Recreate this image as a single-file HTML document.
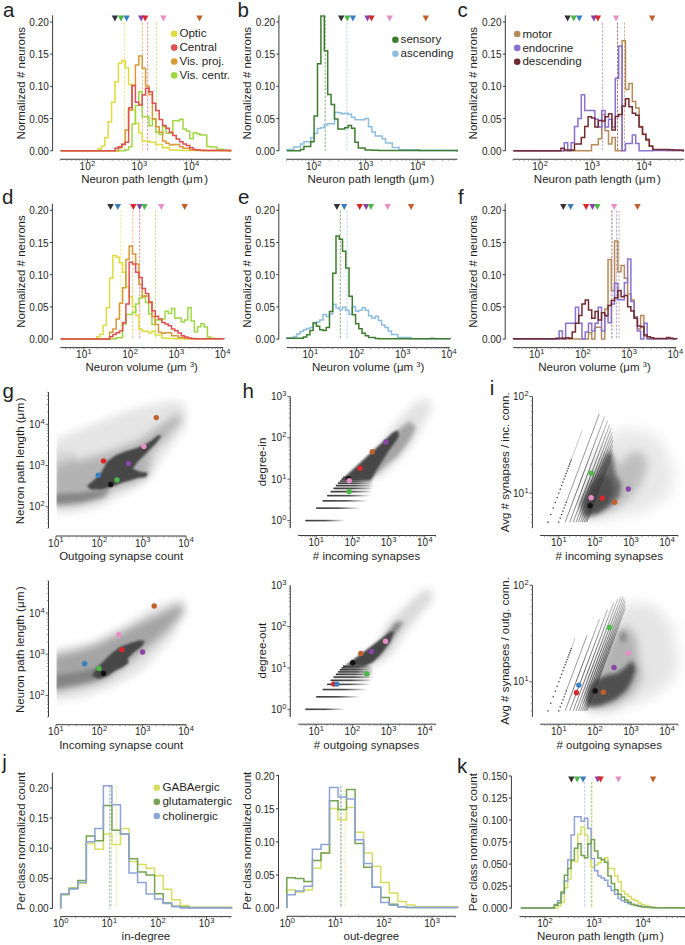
<!DOCTYPE html>
<html><head><meta charset="utf-8"><style>
html,body{margin:0;padding:0;background:#fff;overflow:hidden;}
svg{display:block;font-family:'Liberation Sans', sans-serif;}
</style></head><body>
<svg width="685" height="945" viewBox="0 0 685 945">
<defs>
<filter id="b1" x="-20%" y="-20%" width="140%" height="140%"><feGaussianBlur stdDeviation="1"/></filter>
<filter id="b2" x="-30%" y="-30%" width="160%" height="160%"><feGaussianBlur stdDeviation="2.2"/></filter>
<filter id="b4" x="-40%" y="-40%" width="180%" height="180%"><feGaussianBlur stdDeviation="4"/></filter>
<filter id="b7" x="-50%" y="-50%" width="200%" height="200%"><feGaussianBlur stdDeviation="7"/></filter>
<linearGradient id="fadeR" x1="0" x2="1" y1="0" y2="0"><stop offset="0" stop-color="#3a3a3a" stop-opacity="1"/><stop offset="0.5" stop-color="#3a3a3a" stop-opacity="0.9"/><stop offset="1" stop-color="#3a3a3a" stop-opacity="0"/></linearGradient>
<linearGradient id="lfade" x1="0" y1="1" x2="0" y2="0"><stop offset="0" stop-color="#333" stop-opacity="0.6"/><stop offset="0.4" stop-color="#333" stop-opacity="0.9"/><stop offset="1" stop-color="#333" stop-opacity="0.4"/></linearGradient>
</defs>
<rect width="685" height="945" fill="#fff"/>
<line x1="52.60" y1="15.35" x2="52.60" y2="151.05" stroke="#3a3a3a" stroke-width="1.0"/>
<line x1="50.10" y1="21.95" x2="52.60" y2="21.95" stroke="#3a3a3a" stroke-width="1.0"/>
<text x="48.80" y="25.95" font-size="10" text-anchor="end" fill="#1f1f1f">0.20</text>
<line x1="50.10" y1="54.15" x2="52.60" y2="54.15" stroke="#3a3a3a" stroke-width="1.0"/>
<text x="48.80" y="58.15" font-size="10" text-anchor="end" fill="#1f1f1f">0.15</text>
<line x1="50.10" y1="86.35" x2="52.60" y2="86.35" stroke="#3a3a3a" stroke-width="1.0"/>
<text x="48.80" y="90.35" font-size="10" text-anchor="end" fill="#1f1f1f">0.10</text>
<line x1="50.10" y1="118.55" x2="52.60" y2="118.55" stroke="#3a3a3a" stroke-width="1.0"/>
<text x="48.80" y="122.55" font-size="10" text-anchor="end" fill="#1f1f1f">0.05</text>
<line x1="50.10" y1="150.75" x2="52.60" y2="150.75" stroke="#3a3a3a" stroke-width="1.0"/>
<text x="48.80" y="154.75" font-size="10" text-anchor="end" fill="#1f1f1f">0.00</text>
<text x="24.70" y="83.15" font-size="11.5" text-anchor="middle" fill="#1f1f1f" transform="rotate(-90 24.70 83.15)">Normalized # neurons</text>
<text x="3.00" y="16.65" font-size="20.5" text-anchor="start" fill="#1f1f1f">a</text>
<line x1="60.20" y1="159.25" x2="231.10" y2="159.25" stroke="#3a3a3a" stroke-width="1.0"/>
<line x1="60.21" y1="159.25" x2="60.21" y2="160.85" stroke="#777" stroke-width="0.7"/>
<line x1="66.71" y1="159.25" x2="66.71" y2="160.85" stroke="#777" stroke-width="0.7"/>
<line x1="71.75" y1="159.25" x2="71.75" y2="160.85" stroke="#777" stroke-width="0.7"/>
<line x1="75.86" y1="159.25" x2="75.86" y2="160.85" stroke="#777" stroke-width="0.7"/>
<line x1="79.35" y1="159.25" x2="79.35" y2="160.85" stroke="#777" stroke-width="0.7"/>
<line x1="82.36" y1="159.25" x2="82.36" y2="160.85" stroke="#777" stroke-width="0.7"/>
<line x1="85.02" y1="159.25" x2="85.02" y2="160.85" stroke="#777" stroke-width="0.7"/>
<line x1="87.40" y1="159.25" x2="87.40" y2="162.25" stroke="#3a3a3a" stroke-width="0.8"/>
<line x1="103.05" y1="159.25" x2="103.05" y2="160.85" stroke="#777" stroke-width="0.7"/>
<line x1="112.21" y1="159.25" x2="112.21" y2="160.85" stroke="#777" stroke-width="0.7"/>
<line x1="118.71" y1="159.25" x2="118.71" y2="160.85" stroke="#777" stroke-width="0.7"/>
<line x1="123.75" y1="159.25" x2="123.75" y2="160.85" stroke="#777" stroke-width="0.7"/>
<line x1="127.86" y1="159.25" x2="127.86" y2="160.85" stroke="#777" stroke-width="0.7"/>
<line x1="131.35" y1="159.25" x2="131.35" y2="160.85" stroke="#777" stroke-width="0.7"/>
<line x1="134.36" y1="159.25" x2="134.36" y2="160.85" stroke="#777" stroke-width="0.7"/>
<line x1="137.02" y1="159.25" x2="137.02" y2="160.85" stroke="#777" stroke-width="0.7"/>
<line x1="139.40" y1="159.25" x2="139.40" y2="162.25" stroke="#3a3a3a" stroke-width="0.8"/>
<line x1="155.05" y1="159.25" x2="155.05" y2="160.85" stroke="#777" stroke-width="0.7"/>
<line x1="164.21" y1="159.25" x2="164.21" y2="160.85" stroke="#777" stroke-width="0.7"/>
<line x1="170.71" y1="159.25" x2="170.71" y2="160.85" stroke="#777" stroke-width="0.7"/>
<line x1="175.75" y1="159.25" x2="175.75" y2="160.85" stroke="#777" stroke-width="0.7"/>
<line x1="179.86" y1="159.25" x2="179.86" y2="160.85" stroke="#777" stroke-width="0.7"/>
<line x1="183.35" y1="159.25" x2="183.35" y2="160.85" stroke="#777" stroke-width="0.7"/>
<line x1="186.36" y1="159.25" x2="186.36" y2="160.85" stroke="#777" stroke-width="0.7"/>
<line x1="189.02" y1="159.25" x2="189.02" y2="160.85" stroke="#777" stroke-width="0.7"/>
<line x1="191.40" y1="159.25" x2="191.40" y2="162.25" stroke="#3a3a3a" stroke-width="0.8"/>
<line x1="207.05" y1="159.25" x2="207.05" y2="160.85" stroke="#777" stroke-width="0.7"/>
<line x1="216.21" y1="159.25" x2="216.21" y2="160.85" stroke="#777" stroke-width="0.7"/>
<line x1="222.71" y1="159.25" x2="222.71" y2="160.85" stroke="#777" stroke-width="0.7"/>
<line x1="227.75" y1="159.25" x2="227.75" y2="160.85" stroke="#777" stroke-width="0.7"/>
<text x="79.61" y="169.75" font-size="10" text-anchor="start" fill="#1f1f1f">10</text>
<text x="91.03" y="165.65" font-size="7.5" text-anchor="start" fill="#1f1f1f">2</text>
<text x="131.61" y="169.75" font-size="10" text-anchor="start" fill="#1f1f1f">10</text>
<text x="143.03" y="165.65" font-size="7.5" text-anchor="start" fill="#1f1f1f">3</text>
<text x="183.61" y="169.75" font-size="10" text-anchor="start" fill="#1f1f1f">10</text>
<text x="195.03" y="165.65" font-size="7.5" text-anchor="start" fill="#1f1f1f">4</text>
<text x="144.60" y="182.75" font-size="11.5" text-anchor="middle" fill="#1f1f1f">Neuron path length (μ<tspan dx="0.6">m</tspan><tspan dx="1.4">)</tspan></text>
<line x1="278.90" y1="15.35" x2="278.90" y2="151.05" stroke="#3a3a3a" stroke-width="1.0"/>
<line x1="276.40" y1="21.95" x2="278.90" y2="21.95" stroke="#3a3a3a" stroke-width="1.0"/>
<text x="275.10" y="25.95" font-size="10" text-anchor="end" fill="#1f1f1f">0.20</text>
<line x1="276.40" y1="54.15" x2="278.90" y2="54.15" stroke="#3a3a3a" stroke-width="1.0"/>
<text x="275.10" y="58.15" font-size="10" text-anchor="end" fill="#1f1f1f">0.15</text>
<line x1="276.40" y1="86.35" x2="278.90" y2="86.35" stroke="#3a3a3a" stroke-width="1.0"/>
<text x="275.10" y="90.35" font-size="10" text-anchor="end" fill="#1f1f1f">0.10</text>
<line x1="276.40" y1="118.55" x2="278.90" y2="118.55" stroke="#3a3a3a" stroke-width="1.0"/>
<text x="275.10" y="122.55" font-size="10" text-anchor="end" fill="#1f1f1f">0.05</text>
<line x1="276.40" y1="150.75" x2="278.90" y2="150.75" stroke="#3a3a3a" stroke-width="1.0"/>
<text x="275.10" y="154.75" font-size="10" text-anchor="end" fill="#1f1f1f">0.00</text>
<text x="251.00" y="83.15" font-size="11.5" text-anchor="middle" fill="#1f1f1f" transform="rotate(-90 251.00 83.15)">Normalized # neurons</text>
<text x="237.50" y="16.65" font-size="20.5" text-anchor="start" fill="#1f1f1f">b</text>
<line x1="286.50" y1="159.25" x2="457.40" y2="159.25" stroke="#3a3a3a" stroke-width="1.0"/>
<line x1="286.51" y1="159.25" x2="286.51" y2="160.85" stroke="#777" stroke-width="0.7"/>
<line x1="293.01" y1="159.25" x2="293.01" y2="160.85" stroke="#777" stroke-width="0.7"/>
<line x1="298.05" y1="159.25" x2="298.05" y2="160.85" stroke="#777" stroke-width="0.7"/>
<line x1="302.16" y1="159.25" x2="302.16" y2="160.85" stroke="#777" stroke-width="0.7"/>
<line x1="305.65" y1="159.25" x2="305.65" y2="160.85" stroke="#777" stroke-width="0.7"/>
<line x1="308.66" y1="159.25" x2="308.66" y2="160.85" stroke="#777" stroke-width="0.7"/>
<line x1="311.32" y1="159.25" x2="311.32" y2="160.85" stroke="#777" stroke-width="0.7"/>
<line x1="313.70" y1="159.25" x2="313.70" y2="162.25" stroke="#3a3a3a" stroke-width="0.8"/>
<line x1="329.35" y1="159.25" x2="329.35" y2="160.85" stroke="#777" stroke-width="0.7"/>
<line x1="338.51" y1="159.25" x2="338.51" y2="160.85" stroke="#777" stroke-width="0.7"/>
<line x1="345.01" y1="159.25" x2="345.01" y2="160.85" stroke="#777" stroke-width="0.7"/>
<line x1="350.05" y1="159.25" x2="350.05" y2="160.85" stroke="#777" stroke-width="0.7"/>
<line x1="354.16" y1="159.25" x2="354.16" y2="160.85" stroke="#777" stroke-width="0.7"/>
<line x1="357.65" y1="159.25" x2="357.65" y2="160.85" stroke="#777" stroke-width="0.7"/>
<line x1="360.66" y1="159.25" x2="360.66" y2="160.85" stroke="#777" stroke-width="0.7"/>
<line x1="363.32" y1="159.25" x2="363.32" y2="160.85" stroke="#777" stroke-width="0.7"/>
<line x1="365.70" y1="159.25" x2="365.70" y2="162.25" stroke="#3a3a3a" stroke-width="0.8"/>
<line x1="381.35" y1="159.25" x2="381.35" y2="160.85" stroke="#777" stroke-width="0.7"/>
<line x1="390.51" y1="159.25" x2="390.51" y2="160.85" stroke="#777" stroke-width="0.7"/>
<line x1="397.01" y1="159.25" x2="397.01" y2="160.85" stroke="#777" stroke-width="0.7"/>
<line x1="402.05" y1="159.25" x2="402.05" y2="160.85" stroke="#777" stroke-width="0.7"/>
<line x1="406.16" y1="159.25" x2="406.16" y2="160.85" stroke="#777" stroke-width="0.7"/>
<line x1="409.65" y1="159.25" x2="409.65" y2="160.85" stroke="#777" stroke-width="0.7"/>
<line x1="412.66" y1="159.25" x2="412.66" y2="160.85" stroke="#777" stroke-width="0.7"/>
<line x1="415.32" y1="159.25" x2="415.32" y2="160.85" stroke="#777" stroke-width="0.7"/>
<line x1="417.70" y1="159.25" x2="417.70" y2="162.25" stroke="#3a3a3a" stroke-width="0.8"/>
<line x1="433.35" y1="159.25" x2="433.35" y2="160.85" stroke="#777" stroke-width="0.7"/>
<line x1="442.51" y1="159.25" x2="442.51" y2="160.85" stroke="#777" stroke-width="0.7"/>
<line x1="449.01" y1="159.25" x2="449.01" y2="160.85" stroke="#777" stroke-width="0.7"/>
<line x1="454.05" y1="159.25" x2="454.05" y2="160.85" stroke="#777" stroke-width="0.7"/>
<text x="305.90" y="169.75" font-size="10" text-anchor="start" fill="#1f1f1f">10</text>
<text x="317.32" y="165.65" font-size="7.5" text-anchor="start" fill="#1f1f1f">2</text>
<text x="357.90" y="169.75" font-size="10" text-anchor="start" fill="#1f1f1f">10</text>
<text x="369.32" y="165.65" font-size="7.5" text-anchor="start" fill="#1f1f1f">3</text>
<text x="409.90" y="169.75" font-size="10" text-anchor="start" fill="#1f1f1f">10</text>
<text x="421.32" y="165.65" font-size="7.5" text-anchor="start" fill="#1f1f1f">4</text>
<text x="370.90" y="182.75" font-size="11.5" text-anchor="middle" fill="#1f1f1f">Neuron path length (μ<tspan dx="0.6">m</tspan><tspan dx="1.4">)</tspan></text>
<line x1="505.30" y1="15.35" x2="505.30" y2="151.05" stroke="#3a3a3a" stroke-width="1.0"/>
<line x1="502.80" y1="21.95" x2="505.30" y2="21.95" stroke="#3a3a3a" stroke-width="1.0"/>
<text x="501.50" y="25.95" font-size="10" text-anchor="end" fill="#1f1f1f">0.20</text>
<line x1="502.80" y1="54.15" x2="505.30" y2="54.15" stroke="#3a3a3a" stroke-width="1.0"/>
<text x="501.50" y="58.15" font-size="10" text-anchor="end" fill="#1f1f1f">0.15</text>
<line x1="502.80" y1="86.35" x2="505.30" y2="86.35" stroke="#3a3a3a" stroke-width="1.0"/>
<text x="501.50" y="90.35" font-size="10" text-anchor="end" fill="#1f1f1f">0.10</text>
<line x1="502.80" y1="118.55" x2="505.30" y2="118.55" stroke="#3a3a3a" stroke-width="1.0"/>
<text x="501.50" y="122.55" font-size="10" text-anchor="end" fill="#1f1f1f">0.05</text>
<line x1="502.80" y1="150.75" x2="505.30" y2="150.75" stroke="#3a3a3a" stroke-width="1.0"/>
<text x="501.50" y="154.75" font-size="10" text-anchor="end" fill="#1f1f1f">0.00</text>
<text x="477.40" y="83.15" font-size="11.5" text-anchor="middle" fill="#1f1f1f" transform="rotate(-90 477.40 83.15)">Normalized # neurons</text>
<text x="457.50" y="16.65" font-size="20.5" text-anchor="start" fill="#1f1f1f">c</text>
<line x1="512.90" y1="159.25" x2="683.80" y2="159.25" stroke="#3a3a3a" stroke-width="1.0"/>
<line x1="512.91" y1="159.25" x2="512.91" y2="160.85" stroke="#777" stroke-width="0.7"/>
<line x1="519.41" y1="159.25" x2="519.41" y2="160.85" stroke="#777" stroke-width="0.7"/>
<line x1="524.45" y1="159.25" x2="524.45" y2="160.85" stroke="#777" stroke-width="0.7"/>
<line x1="528.56" y1="159.25" x2="528.56" y2="160.85" stroke="#777" stroke-width="0.7"/>
<line x1="532.05" y1="159.25" x2="532.05" y2="160.85" stroke="#777" stroke-width="0.7"/>
<line x1="535.06" y1="159.25" x2="535.06" y2="160.85" stroke="#777" stroke-width="0.7"/>
<line x1="537.72" y1="159.25" x2="537.72" y2="160.85" stroke="#777" stroke-width="0.7"/>
<line x1="540.10" y1="159.25" x2="540.10" y2="162.25" stroke="#3a3a3a" stroke-width="0.8"/>
<line x1="555.75" y1="159.25" x2="555.75" y2="160.85" stroke="#777" stroke-width="0.7"/>
<line x1="564.91" y1="159.25" x2="564.91" y2="160.85" stroke="#777" stroke-width="0.7"/>
<line x1="571.41" y1="159.25" x2="571.41" y2="160.85" stroke="#777" stroke-width="0.7"/>
<line x1="576.45" y1="159.25" x2="576.45" y2="160.85" stroke="#777" stroke-width="0.7"/>
<line x1="580.56" y1="159.25" x2="580.56" y2="160.85" stroke="#777" stroke-width="0.7"/>
<line x1="584.05" y1="159.25" x2="584.05" y2="160.85" stroke="#777" stroke-width="0.7"/>
<line x1="587.06" y1="159.25" x2="587.06" y2="160.85" stroke="#777" stroke-width="0.7"/>
<line x1="589.72" y1="159.25" x2="589.72" y2="160.85" stroke="#777" stroke-width="0.7"/>
<line x1="592.10" y1="159.25" x2="592.10" y2="162.25" stroke="#3a3a3a" stroke-width="0.8"/>
<line x1="607.75" y1="159.25" x2="607.75" y2="160.85" stroke="#777" stroke-width="0.7"/>
<line x1="616.91" y1="159.25" x2="616.91" y2="160.85" stroke="#777" stroke-width="0.7"/>
<line x1="623.41" y1="159.25" x2="623.41" y2="160.85" stroke="#777" stroke-width="0.7"/>
<line x1="628.45" y1="159.25" x2="628.45" y2="160.85" stroke="#777" stroke-width="0.7"/>
<line x1="632.56" y1="159.25" x2="632.56" y2="160.85" stroke="#777" stroke-width="0.7"/>
<line x1="636.05" y1="159.25" x2="636.05" y2="160.85" stroke="#777" stroke-width="0.7"/>
<line x1="639.06" y1="159.25" x2="639.06" y2="160.85" stroke="#777" stroke-width="0.7"/>
<line x1="641.72" y1="159.25" x2="641.72" y2="160.85" stroke="#777" stroke-width="0.7"/>
<line x1="644.10" y1="159.25" x2="644.10" y2="162.25" stroke="#3a3a3a" stroke-width="0.8"/>
<line x1="659.75" y1="159.25" x2="659.75" y2="160.85" stroke="#777" stroke-width="0.7"/>
<line x1="668.91" y1="159.25" x2="668.91" y2="160.85" stroke="#777" stroke-width="0.7"/>
<line x1="675.41" y1="159.25" x2="675.41" y2="160.85" stroke="#777" stroke-width="0.7"/>
<line x1="680.45" y1="159.25" x2="680.45" y2="160.85" stroke="#777" stroke-width="0.7"/>
<text x="532.31" y="169.75" font-size="10" text-anchor="start" fill="#1f1f1f">10</text>
<text x="543.73" y="165.65" font-size="7.5" text-anchor="start" fill="#1f1f1f">2</text>
<text x="584.31" y="169.75" font-size="10" text-anchor="start" fill="#1f1f1f">10</text>
<text x="595.73" y="165.65" font-size="7.5" text-anchor="start" fill="#1f1f1f">3</text>
<text x="636.31" y="169.75" font-size="10" text-anchor="start" fill="#1f1f1f">10</text>
<text x="647.73" y="165.65" font-size="7.5" text-anchor="start" fill="#1f1f1f">4</text>
<text x="597.30" y="182.75" font-size="11.5" text-anchor="middle" fill="#1f1f1f">Neuron path length (μ<tspan dx="0.6">m</tspan><tspan dx="1.4">)</tspan></text>
<path d="M111.70,15.60 L118.10,15.60 L114.90,21.60 Z" fill="#333333"/>
<path d="M117.80,15.60 L124.20,15.60 L121.00,21.60 Z" fill="#4cb848"/>
<path d="M123.40,15.60 L129.80,15.60 L126.60,21.60 Z" fill="#3a7fc0"/>
<path d="M138.00,15.60 L144.40,15.60 L141.20,21.60 Z" fill="#8a45a8"/>
<path d="M142.00,15.60 L148.40,15.60 L145.20,21.60 Z" fill="#d8282c"/>
<path d="M160.20,15.60 L166.60,15.60 L163.40,21.60 Z" fill="#e88fc8"/>
<path d="M196.30,15.60 L202.70,15.60 L199.50,21.60 Z" fill="#c0602a"/>
<path d="M338.00,15.60 L344.40,15.60 L341.20,21.60 Z" fill="#333333"/>
<path d="M344.10,15.60 L350.50,15.60 L347.30,21.60 Z" fill="#4cb848"/>
<path d="M349.70,15.60 L356.10,15.60 L352.90,21.60 Z" fill="#3a7fc0"/>
<path d="M364.30,15.60 L370.70,15.60 L367.50,21.60 Z" fill="#8a45a8"/>
<path d="M368.30,15.60 L374.70,15.60 L371.50,21.60 Z" fill="#d8282c"/>
<path d="M386.50,15.60 L392.90,15.60 L389.70,21.60 Z" fill="#e88fc8"/>
<path d="M422.60,15.60 L429.00,15.60 L425.80,21.60 Z" fill="#c0602a"/>
<path d="M564.40,15.60 L570.80,15.60 L567.60,21.60 Z" fill="#333333"/>
<path d="M570.50,15.60 L576.90,15.60 L573.70,21.60 Z" fill="#4cb848"/>
<path d="M576.10,15.60 L582.50,15.60 L579.30,21.60 Z" fill="#3a7fc0"/>
<path d="M590.70,15.60 L597.10,15.60 L593.90,21.60 Z" fill="#8a45a8"/>
<path d="M594.70,15.60 L601.10,15.60 L597.90,21.60 Z" fill="#d8282c"/>
<path d="M612.90,15.60 L619.30,15.60 L616.10,21.60 Z" fill="#e88fc8"/>
<path d="M649.00,15.60 L655.40,15.60 L652.20,21.60 Z" fill="#c0602a"/>
<line x1="124.50" y1="22.50" x2="124.50" y2="150.70" stroke="#dedc40" stroke-width="0.8" stroke-dasharray="2.4,1.4" stroke-opacity="0.8"/>
<line x1="142.40" y1="22.50" x2="142.40" y2="150.70" stroke="#da9838" stroke-width="0.8" stroke-dasharray="2.4,1.4" stroke-opacity="0.8"/>
<line x1="147.70" y1="22.50" x2="147.70" y2="150.70" stroke="#e04f52" stroke-width="0.8" stroke-dasharray="2.4,1.4" stroke-opacity="0.8"/>
<line x1="156.40" y1="22.50" x2="156.40" y2="150.70" stroke="#a0d845" stroke-width="0.8" stroke-dasharray="2.4,1.4" stroke-opacity="0.8"/>
<path d="M60.60,150.70 L60.60,150.70 L64.00,150.70 L64.00,150.70 L67.40,150.70 L67.40,150.70 L70.80,150.70 L70.80,150.70 L74.20,150.70 L74.20,150.70 L77.60,150.70 L77.60,150.70 L81.00,150.70 L81.00,150.70 L84.40,150.70 L84.40,150.70 L87.80,150.70 L87.80,150.70 L91.20,150.70 L91.20,150.70 L94.60,150.70 L94.60,150.70 L98.00,150.70 L98.00,148.90 L101.40,148.90 L101.40,146.10 L104.80,146.10 L104.80,137.80 L108.20,137.80 L108.20,121.70 L111.60,121.70 L111.60,102.20 L115.00,102.20 L115.00,81.70 L118.40,81.70 L118.40,63.30 L121.80,63.30 L121.80,60.60 L125.20,60.60 L125.20,67.80 L128.60,67.80 L128.60,84.40 L132.00,84.40 L132.00,110.00 L135.40,110.00 L135.40,123.30 L138.80,123.30 L138.80,132.80 L142.20,132.80 L142.20,141.10 L145.60,141.10 L145.60,141.10 L149.00,141.10 L149.00,142.20 L152.40,142.20 L152.40,142.20 L155.80,142.20 L155.80,144.40 L159.20,144.40 L159.20,144.40 L162.60,144.40 L162.60,147.80 L166.00,147.80 L166.00,147.80 L169.40,147.80 L169.40,150.00 L172.80,150.00 L172.80,150.00 L176.20,150.00 L176.20,150.20 L179.60,150.20 L179.60,150.20 L183.00,150.20 L183.00,150.40 L186.40,150.40 L186.40,150.40 L189.80,150.40 L189.80,150.40 L193.20,150.40 L193.20,150.40 L196.60,150.40 L196.60,150.40 L200.00,150.40 L200.00,150.40 L203.40,150.40 L203.40,150.40 L206.80,150.40 L206.80,150.40 L210.20,150.40 L210.20,150.40 L213.60,150.40 L213.60,150.40 L217.00,150.40 L217.00,150.40 L220.40,150.40 L220.40,150.40 L223.80,150.40 L223.80,150.40 L227.20,150.40 L227.20,150.40 L230.60,150.40 L230.60,150.70 L231.30,150.70" fill="none" stroke="#dedc40" stroke-width="1.5" stroke-linejoin="miter"/>
<path d="M60.60,150.70 L60.60,150.70 L64.00,150.70 L64.00,150.70 L67.40,150.70 L67.40,150.70 L70.80,150.70 L70.80,150.70 L74.20,150.70 L74.20,150.70 L77.60,150.70 L77.60,150.70 L81.00,150.70 L81.00,150.70 L84.40,150.70 L84.40,150.70 L87.80,150.70 L87.80,150.70 L91.20,150.70 L91.20,150.70 L94.60,150.70 L94.60,150.70 L98.00,150.70 L98.00,150.70 L101.40,150.70 L101.40,150.70 L104.80,150.70 L104.80,150.70 L108.20,150.70 L108.20,150.70 L111.60,150.70 L111.60,150.70 L115.00,150.70 L115.00,150.70 L118.40,150.70 L118.40,150.70 L121.80,150.70 L121.80,150.70 L125.20,150.70 L125.20,149.70 L128.60,149.70 L128.60,146.70 L132.00,146.70 L132.00,123.90 L135.40,123.90 L135.40,105.60 L138.80,105.60 L138.80,91.70 L142.20,91.70 L142.20,116.70 L145.60,116.70 L145.60,116.70 L149.00,116.70 L149.00,125.70 L152.40,125.70 L152.40,118.70 L155.80,118.70 L155.80,132.20 L159.20,132.20 L159.20,134.40 L162.60,134.40 L162.60,126.70 L166.00,126.70 L166.00,133.30 L169.40,133.30 L169.40,133.30 L172.80,133.30 L172.80,120.70 L176.20,120.70 L176.20,120.70 L179.60,120.70 L179.60,119.20 L183.00,119.20 L183.00,128.90 L186.40,128.90 L186.40,131.10 L189.80,131.10 L189.80,138.70 L193.20,138.70 L193.20,132.80 L196.60,132.80 L196.60,133.70 L200.00,133.70 L200.00,135.10 L203.40,135.10 L203.40,135.10 L206.80,135.10 L206.80,146.40 L210.20,146.40 L210.20,147.10 L213.60,147.10 L213.60,147.10 L217.00,147.10 L217.00,149.20 L220.40,149.20 L220.40,149.20 L223.80,149.20 L223.80,150.40 L227.20,150.40 L227.20,150.70 L230.60,150.70 L230.60,150.70 L231.30,150.70" fill="none" stroke="#a0d845" stroke-width="1.5" stroke-linejoin="miter"/>
<path d="M60.60,150.70 L60.60,150.70 L64.00,150.70 L64.00,150.70 L67.40,150.70 L67.40,150.70 L70.80,150.70 L70.80,150.70 L74.20,150.70 L74.20,150.70 L77.60,150.70 L77.60,150.70 L81.00,150.70 L81.00,150.70 L84.40,150.70 L84.40,150.70 L87.80,150.70 L87.80,150.70 L91.20,150.70 L91.20,150.70 L94.60,150.70 L94.60,150.70 L98.00,150.70 L98.00,150.70 L101.40,150.70 L101.40,150.70 L104.80,150.70 L104.80,150.70 L108.20,150.70 L108.20,150.70 L111.60,150.70 L111.60,150.70 L115.00,150.70 L115.00,150.70 L118.40,150.70 L118.40,148.00 L121.80,148.00 L121.80,144.00 L125.20,144.00 L125.20,130.00 L128.60,130.00 L128.60,110.00 L132.00,110.00 L132.00,85.60 L135.40,85.60 L135.40,65.00 L138.80,65.00 L138.80,56.10 L142.20,56.10 L142.20,68.30 L145.60,68.30 L145.60,86.10 L149.00,86.10 L149.00,94.40 L152.40,94.40 L152.40,118.90 L155.80,118.90 L155.80,126.70 L159.20,126.70 L159.20,132.20 L162.60,132.20 L162.60,141.10 L166.00,141.10 L166.00,143.30 L169.40,143.30 L169.40,145.00 L172.80,145.00 L172.80,144.40 L176.20,144.40 L176.20,144.40 L179.60,144.40 L179.60,146.70 L183.00,146.70 L183.00,148.30 L186.40,148.30 L186.40,148.30 L189.80,148.30 L189.80,150.00 L193.20,150.00 L193.20,150.00 L196.60,150.00 L196.60,150.20 L200.00,150.20 L200.00,150.40 L203.40,150.40 L203.40,150.40 L206.80,150.40 L206.80,150.40 L210.20,150.40 L210.20,150.40 L213.60,150.40 L213.60,150.40 L217.00,150.40 L217.00,150.40 L220.40,150.40 L220.40,150.40 L223.80,150.40 L223.80,150.40 L227.20,150.40 L227.20,150.40 L230.60,150.40 L230.60,150.70 L231.30,150.70" fill="none" stroke="#da9838" stroke-width="1.5" stroke-linejoin="miter"/>
<path d="M60.60,150.70 L60.60,150.70 L64.00,150.70 L64.00,150.70 L67.40,150.70 L67.40,150.70 L70.80,150.70 L70.80,150.70 L74.20,150.70 L74.20,150.70 L77.60,150.70 L77.60,150.70 L81.00,150.70 L81.00,150.70 L84.40,150.70 L84.40,150.70 L87.80,150.70 L87.80,150.70 L91.20,150.70 L91.20,150.70 L94.60,150.70 L94.60,150.70 L98.00,150.70 L98.00,150.70 L101.40,150.70 L101.40,150.70 L104.80,150.70 L104.80,150.70 L108.20,150.70 L108.20,150.70 L111.60,150.70 L111.60,150.70 L115.00,150.70 L115.00,148.30 L118.40,148.30 L118.40,146.70 L121.80,146.70 L121.80,144.40 L125.20,144.40 L125.20,142.20 L128.60,142.20 L128.60,107.80 L132.00,107.80 L132.00,85.60 L135.40,85.60 L135.40,102.20 L138.80,102.20 L138.80,105.00 L142.20,105.00 L142.20,95.00 L145.60,95.00 L145.60,88.30 L149.00,88.30 L149.00,91.70 L152.40,91.70 L152.40,103.30 L155.80,103.30 L155.80,110.60 L159.20,110.60 L159.20,119.40 L162.60,119.40 L162.60,125.60 L166.00,125.60 L166.00,128.30 L169.40,128.30 L169.40,132.20 L172.80,132.20 L172.80,135.60 L176.20,135.60 L176.20,138.90 L179.60,138.90 L179.60,141.70 L183.00,141.70 L183.00,143.90 L186.40,143.90 L186.40,145.60 L189.80,145.60 L189.80,147.80 L193.20,147.80 L193.20,149.40 L196.60,149.40 L196.60,150.10 L200.00,150.10 L200.00,150.30 L203.40,150.30 L203.40,150.40 L206.80,150.40 L206.80,150.40 L210.20,150.40 L210.20,150.40 L213.60,150.40 L213.60,150.40 L217.00,150.40 L217.00,150.40 L220.40,150.40 L220.40,150.40 L223.80,150.40 L223.80,150.40 L227.20,150.40 L227.20,150.40 L230.60,150.40 L230.60,150.70 L231.30,150.70" fill="none" stroke="#e04f52" stroke-width="1.5" stroke-linejoin="miter"/>
<circle cx="174.20" cy="33.70" r="3.3" fill="#dedc40"/>
<text x="179.40" y="37.30" font-size="11.6" text-anchor="start" fill="#1f1f1f">Optic</text>
<circle cx="174.20" cy="47.60" r="3.3" fill="#e04f52"/>
<text x="179.40" y="51.20" font-size="11.6" text-anchor="start" fill="#1f1f1f">Central</text>
<circle cx="174.20" cy="61.50" r="3.3" fill="#da9838"/>
<text x="179.40" y="65.10" font-size="11.6" text-anchor="start" fill="#1f1f1f">Vis. proj.</text>
<circle cx="174.20" cy="75.40" r="3.3" fill="#a0d845"/>
<text x="179.40" y="79.00" font-size="11.6" text-anchor="start" fill="#1f1f1f">Vis. centr.</text>
<line x1="325.20" y1="16.00" x2="325.20" y2="150.70" stroke="#3f7d2e" stroke-width="0.8" stroke-dasharray="2.4,1.4" stroke-opacity="0.8"/>
<line x1="346.90" y1="22.50" x2="346.90" y2="150.70" stroke="#8dbde0" stroke-width="0.8" stroke-dasharray="2.4,1.4" stroke-opacity="0.8"/>
<path d="M286.90,150.70 L286.90,149.40 L290.30,149.40 L290.30,149.40 L293.70,149.40 L293.70,147.10 L297.10,147.10 L297.10,147.10 L300.50,147.10 L300.50,144.00 L303.90,144.00 L303.90,141.70 L307.30,141.70 L307.30,141.70 L310.70,141.70 L310.70,137.80 L314.10,137.80 L314.10,133.20 L317.50,133.20 L317.50,128.60 L320.90,128.60 L320.90,127.70 L324.30,127.70 L324.30,125.10 L327.70,125.10 L327.70,123.70 L331.10,123.70 L331.10,123.70 L334.50,123.70 L334.50,112.20 L337.90,112.20 L337.90,112.80 L341.30,112.80 L341.30,113.70 L344.70,113.70 L344.70,113.30 L348.10,113.30 L348.10,114.20 L351.50,114.20 L351.50,117.20 L354.90,117.20 L354.90,119.80 L358.30,119.80 L358.30,119.80 L361.70,119.80 L361.70,119.80 L365.10,119.80 L365.10,118.50 L368.50,118.50 L368.50,126.80 L371.90,126.80 L371.90,132.10 L375.30,132.10 L375.30,136.00 L378.70,136.00 L378.70,136.00 L382.10,136.00 L382.10,138.70 L385.50,138.70 L385.50,143.00 L388.90,143.00 L388.90,143.00 L392.30,143.00 L392.30,147.40 L395.70,147.40 L395.70,147.40 L399.10,147.40 L399.10,149.70 L402.50,149.70 L402.50,149.70 L405.90,149.70 L405.90,149.70 L409.30,149.70 L409.30,149.70 L412.70,149.70 L412.70,149.70 L416.10,149.70 L416.10,149.70 L419.50,149.70 L419.50,150.40 L422.90,150.40 L422.90,150.40 L426.30,150.40 L426.30,150.40 L429.70,150.40 L429.70,150.40 L433.10,150.40 L433.10,150.40 L436.50,150.40 L436.50,150.40 L439.90,150.40 L439.90,150.40 L443.30,150.40 L443.30,150.40 L446.70,150.40 L446.70,150.40 L450.10,150.40 L450.10,150.40 L453.50,150.40 L453.50,150.40 L456.90,150.40 L456.90,150.70 L458.00,150.70" fill="none" stroke="#8dbde0" stroke-width="1.5" stroke-linejoin="miter"/>
<path d="M286.90,150.70 L286.90,150.70 L290.30,150.70 L290.30,150.70 L293.70,150.70 L293.70,150.70 L297.10,150.70 L297.10,150.70 L300.50,150.70 L300.50,149.40 L303.90,149.40 L303.90,146.40 L307.30,146.40 L307.30,146.40 L310.70,146.40 L310.70,141.70 L314.10,141.70 L314.10,115.90 L317.50,115.90 L317.50,63.70 L320.90,63.70 L320.90,16.10 L324.30,16.10 L324.30,50.70 L327.70,50.70 L327.70,94.40 L331.10,94.40 L331.10,104.40 L334.50,104.40 L334.50,118.90 L337.90,118.90 L337.90,129.00 L341.30,129.00 L341.30,129.00 L344.70,129.00 L344.70,127.70 L348.10,127.70 L348.10,125.50 L351.50,125.50 L351.50,128.20 L354.90,128.20 L354.90,142.20 L358.30,142.20 L358.30,147.90 L361.70,147.90 L361.70,147.90 L365.10,147.90 L365.10,150.00 L368.50,150.00 L368.50,150.00 L371.90,150.00 L371.90,150.20 L375.30,150.20 L375.30,150.20 L378.70,150.20 L378.70,150.40 L382.10,150.40 L382.10,150.40 L385.50,150.40 L385.50,150.40 L388.90,150.40 L388.90,150.40 L392.30,150.40 L392.30,150.40 L395.70,150.40 L395.70,150.40 L399.10,150.40 L399.10,150.40 L402.50,150.40 L402.50,150.40 L405.90,150.40 L405.90,150.40 L409.30,150.40 L409.30,150.40 L412.70,150.40 L412.70,150.40 L416.10,150.40 L416.10,150.40 L419.50,150.40 L419.50,150.40 L422.90,150.40 L422.90,150.40 L426.30,150.40 L426.30,150.40 L429.70,150.40 L429.70,150.40 L433.10,150.40 L433.10,150.40 L436.50,150.40 L436.50,150.40 L439.90,150.40 L439.90,150.40 L443.30,150.40 L443.30,150.40 L446.70,150.40 L446.70,150.40 L450.10,150.40 L450.10,150.40 L453.50,150.40 L453.50,150.40 L456.90,150.40 L456.90,150.70 L458.00,150.70" fill="none" stroke="#3f7d2e" stroke-width="1.5" stroke-linejoin="miter"/>
<circle cx="395.40" cy="39.80" r="3.3" fill="#3f7d2e"/>
<text x="400.60" y="43.40" font-size="11.6" text-anchor="start" fill="#1f1f1f">sensory</text>
<circle cx="395.40" cy="53.70" r="3.3" fill="#8dbde0"/>
<text x="400.60" y="57.30" font-size="11.6" text-anchor="start" fill="#1f1f1f">ascending</text>
<line x1="602.60" y1="22.50" x2="602.60" y2="150.70" stroke="#8a72d0" stroke-width="0.8" stroke-dasharray="2.4,1.4" stroke-opacity="0.8"/>
<line x1="617.50" y1="22.50" x2="617.50" y2="150.70" stroke="#722b32" stroke-width="0.8" stroke-dasharray="2.4,1.4" stroke-opacity="0.8"/>
<line x1="624.50" y1="22.50" x2="624.50" y2="150.70" stroke="#b58b5b" stroke-width="0.8" stroke-dasharray="2.4,1.4" stroke-opacity="0.8"/>
<path d="M513.30,150.70 L513.30,150.70 L516.70,150.70 L516.70,150.70 L520.10,150.70 L520.10,150.70 L523.50,150.70 L523.50,150.70 L526.90,150.70 L526.90,150.70 L530.30,150.70 L530.30,150.70 L533.70,150.70 L533.70,150.70 L537.10,150.70 L537.10,150.70 L540.50,150.70 L540.50,150.70 L543.90,150.70 L543.90,150.70 L547.30,150.70 L547.30,150.70 L550.70,150.70 L550.70,150.70 L554.10,150.70 L554.10,150.70 L557.50,150.70 L557.50,150.70 L560.90,150.70 L560.90,150.70 L564.30,150.70 L564.30,150.70 L567.70,150.70 L567.70,150.70 L571.10,150.70 L571.10,150.70 L574.50,150.70 L574.50,150.70 L577.90,150.70 L577.90,150.70 L581.30,150.70 L581.30,150.70 L584.70,150.70 L584.70,150.70 L588.10,150.70 L588.10,150.70 L591.50,150.70 L591.50,144.80 L594.90,144.80 L594.90,144.80 L598.30,144.80 L598.30,138.70 L601.70,138.70 L601.70,114.40 L605.10,114.40 L605.10,130.70 L608.50,130.70 L608.50,144.10 L611.90,144.10 L611.90,137.40 L615.30,137.40 L615.30,150.70 L618.70,150.70 L618.70,150.70 L622.10,150.70 L622.10,40.70 L625.50,40.70 L625.50,89.50 L628.90,89.50 L628.90,83.60 L632.30,83.60 L632.30,101.40 L635.70,101.40 L635.70,108.00 L639.10,108.00 L639.10,126.60 L642.50,126.60 L642.50,134.60 L645.90,134.60 L645.90,138.90 L649.30,138.90 L649.30,146.20 L652.70,146.20 L652.70,149.70 L656.10,149.70 L656.10,149.70 L659.50,149.70 L659.50,150.20 L662.90,150.20 L662.90,150.20 L666.30,150.20 L666.30,150.40 L669.70,150.40 L669.70,150.40 L673.10,150.40 L673.10,150.40 L676.50,150.40 L676.50,150.40 L679.90,150.40 L679.90,150.40 L683.30,150.40 L683.30,150.70 L684.00,150.70" fill="none" stroke="#b58b5b" stroke-width="1.5" stroke-linejoin="miter"/>
<path d="M513.30,150.70 L513.30,150.70 L516.70,150.70 L516.70,150.70 L520.10,150.70 L520.10,150.70 L523.50,150.70 L523.50,150.70 L526.90,150.70 L526.90,150.70 L530.30,150.70 L530.30,150.70 L533.70,150.70 L533.70,150.70 L537.10,150.70 L537.10,150.70 L540.50,150.70 L540.50,150.70 L543.90,150.70 L543.90,150.70 L547.30,150.70 L547.30,150.70 L550.70,150.70 L550.70,150.70 L554.10,150.70 L554.10,150.70 L557.50,150.70 L557.50,150.70 L560.90,150.70 L560.90,150.70 L564.30,150.70 L564.30,142.80 L567.70,142.80 L567.70,150.70 L571.10,150.70 L571.10,142.80 L574.50,142.80 L574.50,126.40 L577.90,126.40 L577.90,118.50 L581.30,118.50 L581.30,94.80 L584.70,94.80 L584.70,110.60 L588.10,110.60 L588.10,110.60 L591.50,110.60 L591.50,110.60 L594.90,110.60 L594.90,119.20 L598.30,119.20 L598.30,127.10 L601.70,127.10 L601.70,110.60 L605.10,110.60 L605.10,127.10 L608.50,127.10 L608.50,119.20 L611.90,119.20 L611.90,127.10 L615.30,127.10 L615.30,78.30 L618.70,78.30 L618.70,45.90 L622.10,45.90 L622.10,150.70 L625.50,150.70 L625.50,143.40 L628.90,143.40 L628.90,143.40 L632.30,143.40 L632.30,135.00 L635.70,135.00 L635.70,143.40 L639.10,143.40 L639.10,150.70 L642.50,150.70 L642.50,150.70 L645.90,150.70 L645.90,150.70 L649.30,150.70 L649.30,150.70 L652.70,150.70 L652.70,150.40 L656.10,150.40 L656.10,150.40 L659.50,150.40 L659.50,150.40 L662.90,150.40 L662.90,150.40 L666.30,150.40 L666.30,150.40 L669.70,150.40 L669.70,150.40 L673.10,150.40 L673.10,150.40 L676.50,150.40 L676.50,150.40 L679.90,150.40 L679.90,150.40 L683.30,150.40 L683.30,150.70 L684.00,150.70" fill="none" stroke="#8a72d0" stroke-width="1.5" stroke-linejoin="miter"/>
<path d="M513.30,150.70 L513.30,150.70 L516.70,150.70 L516.70,150.70 L520.10,150.70 L520.10,150.70 L523.50,150.70 L523.50,150.70 L526.90,150.70 L526.90,150.70 L530.30,150.70 L530.30,150.70 L533.70,150.70 L533.70,150.70 L537.10,150.70 L537.10,150.70 L540.50,150.70 L540.50,150.70 L543.90,150.70 L543.90,150.70 L547.30,150.70 L547.30,150.70 L550.70,150.70 L550.70,150.70 L554.10,150.70 L554.10,150.70 L557.50,150.70 L557.50,150.70 L560.90,150.70 L560.90,148.30 L564.30,148.30 L564.30,150.10 L567.70,150.10 L567.70,150.10 L571.10,150.10 L571.10,150.10 L574.50,150.10 L574.50,144.10 L577.90,144.10 L577.90,144.10 L581.30,144.10 L581.30,137.40 L584.70,137.40 L584.70,126.40 L588.10,126.40 L588.10,116.70 L591.50,116.70 L591.50,117.90 L594.90,117.90 L594.90,127.10 L598.30,127.10 L598.30,120.40 L601.70,120.40 L601.70,121.00 L605.10,121.00 L605.10,116.70 L608.50,116.70 L608.50,113.70 L611.90,113.70 L611.90,129.90 L615.30,129.90 L615.30,116.60 L618.70,116.60 L618.70,114.60 L622.10,114.60 L622.10,106.00 L625.50,106.00 L625.50,98.80 L628.90,98.80 L628.90,106.70 L632.30,106.70 L632.30,113.30 L635.70,113.30 L635.70,115.30 L639.10,115.30 L639.10,127.10 L642.50,127.10 L642.50,134.30 L645.90,134.30 L645.90,140.10 L649.30,140.10 L649.30,146.10 L652.70,146.10 L652.70,149.40 L656.10,149.40 L656.10,149.40 L659.50,149.40 L659.50,149.40 L662.90,149.40 L662.90,149.40 L666.30,149.40 L666.30,149.40 L669.70,149.40 L669.70,149.70 L673.10,149.70 L673.10,149.90 L676.50,149.90 L676.50,150.10 L679.90,150.10 L679.90,150.20 L683.30,150.20 L683.30,150.70 L684.00,150.70" fill="none" stroke="#722b32" stroke-width="1.5" stroke-linejoin="miter"/>
<circle cx="517.20" cy="34.00" r="3.3" fill="#b58b5b"/>
<text x="522.40" y="37.60" font-size="11.6" text-anchor="start" fill="#1f1f1f">motor</text>
<circle cx="517.20" cy="47.90" r="3.3" fill="#8a72d0"/>
<text x="522.40" y="51.50" font-size="11.6" text-anchor="start" fill="#1f1f1f">endocrine</text>
<circle cx="517.20" cy="61.80" r="3.3" fill="#722b32"/>
<text x="522.40" y="65.40" font-size="11.6" text-anchor="start" fill="#1f1f1f">descending</text>
<line x1="52.40" y1="203.70" x2="52.40" y2="339.40" stroke="#3a3a3a" stroke-width="1.0"/>
<line x1="49.90" y1="210.30" x2="52.40" y2="210.30" stroke="#3a3a3a" stroke-width="1.0"/>
<text x="48.60" y="214.30" font-size="10" text-anchor="end" fill="#1f1f1f">0.20</text>
<line x1="49.90" y1="242.50" x2="52.40" y2="242.50" stroke="#3a3a3a" stroke-width="1.0"/>
<text x="48.60" y="246.50" font-size="10" text-anchor="end" fill="#1f1f1f">0.15</text>
<line x1="49.90" y1="274.70" x2="52.40" y2="274.70" stroke="#3a3a3a" stroke-width="1.0"/>
<text x="48.60" y="278.70" font-size="10" text-anchor="end" fill="#1f1f1f">0.10</text>
<line x1="49.90" y1="306.90" x2="52.40" y2="306.90" stroke="#3a3a3a" stroke-width="1.0"/>
<text x="48.60" y="310.90" font-size="10" text-anchor="end" fill="#1f1f1f">0.05</text>
<line x1="49.90" y1="339.10" x2="52.40" y2="339.10" stroke="#3a3a3a" stroke-width="1.0"/>
<text x="48.60" y="343.10" font-size="10" text-anchor="end" fill="#1f1f1f">0.00</text>
<text x="24.50" y="271.50" font-size="11.5" text-anchor="middle" fill="#1f1f1f" transform="rotate(-90 24.50 271.50)">Normalized # neurons</text>
<text x="2.00" y="203.70" font-size="20.5" text-anchor="start" fill="#1f1f1f">d</text>
<line x1="60.30" y1="347.60" x2="223.20" y2="347.60" stroke="#3a3a3a" stroke-width="1.0"/>
<line x1="65.52" y1="347.60" x2="65.52" y2="349.20" stroke="#777" stroke-width="0.7"/>
<line x1="69.99" y1="347.60" x2="69.99" y2="349.20" stroke="#777" stroke-width="0.7"/>
<line x1="73.65" y1="347.60" x2="73.65" y2="349.20" stroke="#777" stroke-width="0.7"/>
<line x1="76.74" y1="347.60" x2="76.74" y2="349.20" stroke="#777" stroke-width="0.7"/>
<line x1="79.42" y1="347.60" x2="79.42" y2="349.20" stroke="#777" stroke-width="0.7"/>
<line x1="81.79" y1="347.60" x2="81.79" y2="349.20" stroke="#777" stroke-width="0.7"/>
<line x1="83.90" y1="347.60" x2="83.90" y2="350.60" stroke="#3a3a3a" stroke-width="0.8"/>
<line x1="97.81" y1="347.60" x2="97.81" y2="349.20" stroke="#777" stroke-width="0.7"/>
<line x1="105.94" y1="347.60" x2="105.94" y2="349.20" stroke="#777" stroke-width="0.7"/>
<line x1="111.72" y1="347.60" x2="111.72" y2="349.20" stroke="#777" stroke-width="0.7"/>
<line x1="116.19" y1="347.60" x2="116.19" y2="349.20" stroke="#777" stroke-width="0.7"/>
<line x1="119.85" y1="347.60" x2="119.85" y2="349.20" stroke="#777" stroke-width="0.7"/>
<line x1="122.94" y1="347.60" x2="122.94" y2="349.20" stroke="#777" stroke-width="0.7"/>
<line x1="125.62" y1="347.60" x2="125.62" y2="349.20" stroke="#777" stroke-width="0.7"/>
<line x1="127.99" y1="347.60" x2="127.99" y2="349.20" stroke="#777" stroke-width="0.7"/>
<line x1="130.10" y1="347.60" x2="130.10" y2="350.60" stroke="#3a3a3a" stroke-width="0.8"/>
<line x1="144.01" y1="347.60" x2="144.01" y2="349.20" stroke="#777" stroke-width="0.7"/>
<line x1="152.14" y1="347.60" x2="152.14" y2="349.20" stroke="#777" stroke-width="0.7"/>
<line x1="157.92" y1="347.60" x2="157.92" y2="349.20" stroke="#777" stroke-width="0.7"/>
<line x1="162.39" y1="347.60" x2="162.39" y2="349.20" stroke="#777" stroke-width="0.7"/>
<line x1="166.05" y1="347.60" x2="166.05" y2="349.20" stroke="#777" stroke-width="0.7"/>
<line x1="169.14" y1="347.60" x2="169.14" y2="349.20" stroke="#777" stroke-width="0.7"/>
<line x1="171.82" y1="347.60" x2="171.82" y2="349.20" stroke="#777" stroke-width="0.7"/>
<line x1="174.19" y1="347.60" x2="174.19" y2="349.20" stroke="#777" stroke-width="0.7"/>
<line x1="176.30" y1="347.60" x2="176.30" y2="350.60" stroke="#3a3a3a" stroke-width="0.8"/>
<line x1="190.21" y1="347.60" x2="190.21" y2="349.20" stroke="#777" stroke-width="0.7"/>
<line x1="198.34" y1="347.60" x2="198.34" y2="349.20" stroke="#777" stroke-width="0.7"/>
<line x1="204.12" y1="347.60" x2="204.12" y2="349.20" stroke="#777" stroke-width="0.7"/>
<line x1="208.59" y1="347.60" x2="208.59" y2="349.20" stroke="#777" stroke-width="0.7"/>
<line x1="212.25" y1="347.60" x2="212.25" y2="349.20" stroke="#777" stroke-width="0.7"/>
<line x1="215.34" y1="347.60" x2="215.34" y2="349.20" stroke="#777" stroke-width="0.7"/>
<line x1="218.02" y1="347.60" x2="218.02" y2="349.20" stroke="#777" stroke-width="0.7"/>
<line x1="220.39" y1="347.60" x2="220.39" y2="349.20" stroke="#777" stroke-width="0.7"/>
<line x1="222.50" y1="347.60" x2="222.50" y2="350.60" stroke="#3a3a3a" stroke-width="0.8"/>
<text x="76.11" y="358.10" font-size="10" text-anchor="start" fill="#1f1f1f">10</text>
<text x="87.53" y="354.00" font-size="7.5" text-anchor="start" fill="#1f1f1f">1</text>
<text x="122.31" y="358.10" font-size="10" text-anchor="start" fill="#1f1f1f">10</text>
<text x="133.73" y="354.00" font-size="7.5" text-anchor="start" fill="#1f1f1f">2</text>
<text x="168.51" y="358.10" font-size="10" text-anchor="start" fill="#1f1f1f">10</text>
<text x="179.93" y="354.00" font-size="7.5" text-anchor="start" fill="#1f1f1f">3</text>
<text x="214.71" y="358.10" font-size="10" text-anchor="start" fill="#1f1f1f">10</text>
<text x="226.13" y="354.00" font-size="7.5" text-anchor="start" fill="#1f1f1f">4</text>
<text x="141.70" y="371.10" font-size="11.5" text-anchor="middle" fill="#1f1f1f">Neuron volume (μm <tspan font-size="7.5" dy="-4.5">3</tspan><tspan dy="4.5">)</tspan></text>
<line x1="278.80" y1="203.70" x2="278.80" y2="339.40" stroke="#3a3a3a" stroke-width="1.0"/>
<line x1="276.30" y1="210.30" x2="278.80" y2="210.30" stroke="#3a3a3a" stroke-width="1.0"/>
<text x="275.00" y="214.30" font-size="10" text-anchor="end" fill="#1f1f1f">0.20</text>
<line x1="276.30" y1="242.50" x2="278.80" y2="242.50" stroke="#3a3a3a" stroke-width="1.0"/>
<text x="275.00" y="246.50" font-size="10" text-anchor="end" fill="#1f1f1f">0.15</text>
<line x1="276.30" y1="274.70" x2="278.80" y2="274.70" stroke="#3a3a3a" stroke-width="1.0"/>
<text x="275.00" y="278.70" font-size="10" text-anchor="end" fill="#1f1f1f">0.10</text>
<line x1="276.30" y1="306.90" x2="278.80" y2="306.90" stroke="#3a3a3a" stroke-width="1.0"/>
<text x="275.00" y="310.90" font-size="10" text-anchor="end" fill="#1f1f1f">0.05</text>
<line x1="276.30" y1="339.10" x2="278.80" y2="339.10" stroke="#3a3a3a" stroke-width="1.0"/>
<text x="275.00" y="343.10" font-size="10" text-anchor="end" fill="#1f1f1f">0.00</text>
<text x="250.90" y="271.50" font-size="11.5" text-anchor="middle" fill="#1f1f1f" transform="rotate(-90 250.90 271.50)">Normalized # neurons</text>
<text x="238.00" y="203.70" font-size="20.5" text-anchor="start" fill="#1f1f1f">e</text>
<line x1="286.70" y1="347.60" x2="449.60" y2="347.60" stroke="#3a3a3a" stroke-width="1.0"/>
<line x1="291.92" y1="347.60" x2="291.92" y2="349.20" stroke="#777" stroke-width="0.7"/>
<line x1="296.39" y1="347.60" x2="296.39" y2="349.20" stroke="#777" stroke-width="0.7"/>
<line x1="300.05" y1="347.60" x2="300.05" y2="349.20" stroke="#777" stroke-width="0.7"/>
<line x1="303.14" y1="347.60" x2="303.14" y2="349.20" stroke="#777" stroke-width="0.7"/>
<line x1="305.82" y1="347.60" x2="305.82" y2="349.20" stroke="#777" stroke-width="0.7"/>
<line x1="308.19" y1="347.60" x2="308.19" y2="349.20" stroke="#777" stroke-width="0.7"/>
<line x1="310.30" y1="347.60" x2="310.30" y2="350.60" stroke="#3a3a3a" stroke-width="0.8"/>
<line x1="324.21" y1="347.60" x2="324.21" y2="349.20" stroke="#777" stroke-width="0.7"/>
<line x1="332.34" y1="347.60" x2="332.34" y2="349.20" stroke="#777" stroke-width="0.7"/>
<line x1="338.12" y1="347.60" x2="338.12" y2="349.20" stroke="#777" stroke-width="0.7"/>
<line x1="342.59" y1="347.60" x2="342.59" y2="349.20" stroke="#777" stroke-width="0.7"/>
<line x1="346.25" y1="347.60" x2="346.25" y2="349.20" stroke="#777" stroke-width="0.7"/>
<line x1="349.34" y1="347.60" x2="349.34" y2="349.20" stroke="#777" stroke-width="0.7"/>
<line x1="352.02" y1="347.60" x2="352.02" y2="349.20" stroke="#777" stroke-width="0.7"/>
<line x1="354.39" y1="347.60" x2="354.39" y2="349.20" stroke="#777" stroke-width="0.7"/>
<line x1="356.50" y1="347.60" x2="356.50" y2="350.60" stroke="#3a3a3a" stroke-width="0.8"/>
<line x1="370.41" y1="347.60" x2="370.41" y2="349.20" stroke="#777" stroke-width="0.7"/>
<line x1="378.54" y1="347.60" x2="378.54" y2="349.20" stroke="#777" stroke-width="0.7"/>
<line x1="384.32" y1="347.60" x2="384.32" y2="349.20" stroke="#777" stroke-width="0.7"/>
<line x1="388.79" y1="347.60" x2="388.79" y2="349.20" stroke="#777" stroke-width="0.7"/>
<line x1="392.45" y1="347.60" x2="392.45" y2="349.20" stroke="#777" stroke-width="0.7"/>
<line x1="395.54" y1="347.60" x2="395.54" y2="349.20" stroke="#777" stroke-width="0.7"/>
<line x1="398.22" y1="347.60" x2="398.22" y2="349.20" stroke="#777" stroke-width="0.7"/>
<line x1="400.59" y1="347.60" x2="400.59" y2="349.20" stroke="#777" stroke-width="0.7"/>
<line x1="402.70" y1="347.60" x2="402.70" y2="350.60" stroke="#3a3a3a" stroke-width="0.8"/>
<line x1="416.61" y1="347.60" x2="416.61" y2="349.20" stroke="#777" stroke-width="0.7"/>
<line x1="424.74" y1="347.60" x2="424.74" y2="349.20" stroke="#777" stroke-width="0.7"/>
<line x1="430.52" y1="347.60" x2="430.52" y2="349.20" stroke="#777" stroke-width="0.7"/>
<line x1="434.99" y1="347.60" x2="434.99" y2="349.20" stroke="#777" stroke-width="0.7"/>
<line x1="438.65" y1="347.60" x2="438.65" y2="349.20" stroke="#777" stroke-width="0.7"/>
<line x1="441.74" y1="347.60" x2="441.74" y2="349.20" stroke="#777" stroke-width="0.7"/>
<line x1="444.42" y1="347.60" x2="444.42" y2="349.20" stroke="#777" stroke-width="0.7"/>
<line x1="446.79" y1="347.60" x2="446.79" y2="349.20" stroke="#777" stroke-width="0.7"/>
<line x1="448.90" y1="347.60" x2="448.90" y2="350.60" stroke="#3a3a3a" stroke-width="0.8"/>
<text x="302.50" y="358.10" font-size="10" text-anchor="start" fill="#1f1f1f">10</text>
<text x="313.93" y="354.00" font-size="7.5" text-anchor="start" fill="#1f1f1f">1</text>
<text x="348.70" y="358.10" font-size="10" text-anchor="start" fill="#1f1f1f">10</text>
<text x="360.12" y="354.00" font-size="7.5" text-anchor="start" fill="#1f1f1f">2</text>
<text x="394.91" y="358.10" font-size="10" text-anchor="start" fill="#1f1f1f">10</text>
<text x="406.33" y="354.00" font-size="7.5" text-anchor="start" fill="#1f1f1f">3</text>
<text x="441.11" y="358.10" font-size="10" text-anchor="start" fill="#1f1f1f">10</text>
<text x="452.53" y="354.00" font-size="7.5" text-anchor="start" fill="#1f1f1f">4</text>
<text x="368.10" y="371.10" font-size="11.5" text-anchor="middle" fill="#1f1f1f">Neuron volume (μm <tspan font-size="7.5" dy="-4.5">3</tspan><tspan dy="4.5">)</tspan></text>
<line x1="505.20" y1="203.70" x2="505.20" y2="339.40" stroke="#3a3a3a" stroke-width="1.0"/>
<line x1="502.70" y1="210.30" x2="505.20" y2="210.30" stroke="#3a3a3a" stroke-width="1.0"/>
<text x="501.40" y="214.30" font-size="10" text-anchor="end" fill="#1f1f1f">0.20</text>
<line x1="502.70" y1="242.50" x2="505.20" y2="242.50" stroke="#3a3a3a" stroke-width="1.0"/>
<text x="501.40" y="246.50" font-size="10" text-anchor="end" fill="#1f1f1f">0.15</text>
<line x1="502.70" y1="274.70" x2="505.20" y2="274.70" stroke="#3a3a3a" stroke-width="1.0"/>
<text x="501.40" y="278.70" font-size="10" text-anchor="end" fill="#1f1f1f">0.10</text>
<line x1="502.70" y1="306.90" x2="505.20" y2="306.90" stroke="#3a3a3a" stroke-width="1.0"/>
<text x="501.40" y="310.90" font-size="10" text-anchor="end" fill="#1f1f1f">0.05</text>
<line x1="502.70" y1="339.10" x2="505.20" y2="339.10" stroke="#3a3a3a" stroke-width="1.0"/>
<text x="501.40" y="343.10" font-size="10" text-anchor="end" fill="#1f1f1f">0.00</text>
<text x="477.30" y="271.50" font-size="11.5" text-anchor="middle" fill="#1f1f1f" transform="rotate(-90 477.30 271.50)">Normalized # neurons</text>
<text x="458.00" y="203.70" font-size="20.5" text-anchor="start" fill="#1f1f1f">f</text>
<line x1="513.10" y1="347.60" x2="676.00" y2="347.60" stroke="#3a3a3a" stroke-width="1.0"/>
<line x1="518.32" y1="347.60" x2="518.32" y2="349.20" stroke="#777" stroke-width="0.7"/>
<line x1="522.79" y1="347.60" x2="522.79" y2="349.20" stroke="#777" stroke-width="0.7"/>
<line x1="526.45" y1="347.60" x2="526.45" y2="349.20" stroke="#777" stroke-width="0.7"/>
<line x1="529.54" y1="347.60" x2="529.54" y2="349.20" stroke="#777" stroke-width="0.7"/>
<line x1="532.22" y1="347.60" x2="532.22" y2="349.20" stroke="#777" stroke-width="0.7"/>
<line x1="534.59" y1="347.60" x2="534.59" y2="349.20" stroke="#777" stroke-width="0.7"/>
<line x1="536.70" y1="347.60" x2="536.70" y2="350.60" stroke="#3a3a3a" stroke-width="0.8"/>
<line x1="550.61" y1="347.60" x2="550.61" y2="349.20" stroke="#777" stroke-width="0.7"/>
<line x1="558.74" y1="347.60" x2="558.74" y2="349.20" stroke="#777" stroke-width="0.7"/>
<line x1="564.52" y1="347.60" x2="564.52" y2="349.20" stroke="#777" stroke-width="0.7"/>
<line x1="568.99" y1="347.60" x2="568.99" y2="349.20" stroke="#777" stroke-width="0.7"/>
<line x1="572.65" y1="347.60" x2="572.65" y2="349.20" stroke="#777" stroke-width="0.7"/>
<line x1="575.74" y1="347.60" x2="575.74" y2="349.20" stroke="#777" stroke-width="0.7"/>
<line x1="578.42" y1="347.60" x2="578.42" y2="349.20" stroke="#777" stroke-width="0.7"/>
<line x1="580.79" y1="347.60" x2="580.79" y2="349.20" stroke="#777" stroke-width="0.7"/>
<line x1="582.90" y1="347.60" x2="582.90" y2="350.60" stroke="#3a3a3a" stroke-width="0.8"/>
<line x1="596.81" y1="347.60" x2="596.81" y2="349.20" stroke="#777" stroke-width="0.7"/>
<line x1="604.94" y1="347.60" x2="604.94" y2="349.20" stroke="#777" stroke-width="0.7"/>
<line x1="610.72" y1="347.60" x2="610.72" y2="349.20" stroke="#777" stroke-width="0.7"/>
<line x1="615.19" y1="347.60" x2="615.19" y2="349.20" stroke="#777" stroke-width="0.7"/>
<line x1="618.85" y1="347.60" x2="618.85" y2="349.20" stroke="#777" stroke-width="0.7"/>
<line x1="621.94" y1="347.60" x2="621.94" y2="349.20" stroke="#777" stroke-width="0.7"/>
<line x1="624.62" y1="347.60" x2="624.62" y2="349.20" stroke="#777" stroke-width="0.7"/>
<line x1="626.99" y1="347.60" x2="626.99" y2="349.20" stroke="#777" stroke-width="0.7"/>
<line x1="629.10" y1="347.60" x2="629.10" y2="350.60" stroke="#3a3a3a" stroke-width="0.8"/>
<line x1="643.01" y1="347.60" x2="643.01" y2="349.20" stroke="#777" stroke-width="0.7"/>
<line x1="651.14" y1="347.60" x2="651.14" y2="349.20" stroke="#777" stroke-width="0.7"/>
<line x1="656.92" y1="347.60" x2="656.92" y2="349.20" stroke="#777" stroke-width="0.7"/>
<line x1="661.39" y1="347.60" x2="661.39" y2="349.20" stroke="#777" stroke-width="0.7"/>
<line x1="665.05" y1="347.60" x2="665.05" y2="349.20" stroke="#777" stroke-width="0.7"/>
<line x1="668.14" y1="347.60" x2="668.14" y2="349.20" stroke="#777" stroke-width="0.7"/>
<line x1="670.82" y1="347.60" x2="670.82" y2="349.20" stroke="#777" stroke-width="0.7"/>
<line x1="673.19" y1="347.60" x2="673.19" y2="349.20" stroke="#777" stroke-width="0.7"/>
<line x1="675.30" y1="347.60" x2="675.30" y2="350.60" stroke="#3a3a3a" stroke-width="0.8"/>
<text x="528.91" y="358.10" font-size="10" text-anchor="start" fill="#1f1f1f">10</text>
<text x="540.33" y="354.00" font-size="7.5" text-anchor="start" fill="#1f1f1f">1</text>
<text x="575.11" y="358.10" font-size="10" text-anchor="start" fill="#1f1f1f">10</text>
<text x="586.53" y="354.00" font-size="7.5" text-anchor="start" fill="#1f1f1f">2</text>
<text x="621.31" y="358.10" font-size="10" text-anchor="start" fill="#1f1f1f">10</text>
<text x="632.73" y="354.00" font-size="7.5" text-anchor="start" fill="#1f1f1f">3</text>
<text x="667.51" y="358.10" font-size="10" text-anchor="start" fill="#1f1f1f">10</text>
<text x="678.93" y="354.00" font-size="7.5" text-anchor="start" fill="#1f1f1f">4</text>
<text x="594.50" y="371.10" font-size="11.5" text-anchor="middle" fill="#1f1f1f">Neuron volume (μm <tspan font-size="7.5" dy="-4.5">3</tspan><tspan dy="4.5">)</tspan></text>
<path d="M107.30,204.10 L113.70,204.10 L110.50,210.10 Z" fill="#333333"/>
<path d="M114.60,204.10 L121.00,204.10 L117.80,210.10 Z" fill="#3a7fc0"/>
<path d="M130.10,204.10 L136.50,204.10 L133.30,210.10 Z" fill="#d8282c"/>
<path d="M136.50,204.10 L142.90,204.10 L139.70,210.10 Z" fill="#8a45a8"/>
<path d="M141.30,204.10 L147.70,204.10 L144.50,210.10 Z" fill="#4cb848"/>
<path d="M158.10,204.10 L164.50,204.10 L161.30,210.10 Z" fill="#e88fc8"/>
<path d="M181.50,204.10 L187.90,204.10 L184.70,210.10 Z" fill="#c0602a"/>
<path d="M333.70,204.10 L340.10,204.10 L336.90,210.10 Z" fill="#333333"/>
<path d="M341.00,204.10 L347.40,204.10 L344.20,210.10 Z" fill="#3a7fc0"/>
<path d="M356.50,204.10 L362.90,204.10 L359.70,210.10 Z" fill="#d8282c"/>
<path d="M362.90,204.10 L369.30,204.10 L366.10,210.10 Z" fill="#8a45a8"/>
<path d="M367.70,204.10 L374.10,204.10 L370.90,210.10 Z" fill="#4cb848"/>
<path d="M384.50,204.10 L390.90,204.10 L387.70,210.10 Z" fill="#e88fc8"/>
<path d="M407.90,204.10 L414.30,204.10 L411.10,210.10 Z" fill="#c0602a"/>
<path d="M560.10,204.10 L566.50,204.10 L563.30,210.10 Z" fill="#333333"/>
<path d="M567.40,204.10 L573.80,204.10 L570.60,210.10 Z" fill="#3a7fc0"/>
<path d="M582.90,204.10 L589.30,204.10 L586.10,210.10 Z" fill="#d8282c"/>
<path d="M589.30,204.10 L595.70,204.10 L592.50,210.10 Z" fill="#8a45a8"/>
<path d="M594.10,204.10 L600.50,204.10 L597.30,210.10 Z" fill="#4cb848"/>
<path d="M610.90,204.10 L617.30,204.10 L614.10,210.10 Z" fill="#e88fc8"/>
<path d="M634.30,204.10 L640.70,204.10 L637.50,210.10 Z" fill="#c0602a"/>
<line x1="120.90" y1="210.50" x2="120.90" y2="339.10" stroke="#dedc40" stroke-width="0.8" stroke-dasharray="2.4,1.4" stroke-opacity="0.8"/>
<line x1="132.80" y1="210.50" x2="132.80" y2="339.10" stroke="#da9838" stroke-width="0.8" stroke-dasharray="2.4,1.4" stroke-opacity="0.8"/>
<line x1="139.70" y1="210.50" x2="139.70" y2="339.10" stroke="#e04f52" stroke-width="0.8" stroke-dasharray="2.4,1.4" stroke-opacity="0.8"/>
<line x1="155.50" y1="210.50" x2="155.50" y2="339.10" stroke="#a0d845" stroke-width="0.8" stroke-dasharray="2.4,1.4" stroke-opacity="0.8"/>
<path d="M60.70,339.10 L60.70,339.10 L63.96,339.10 L63.96,339.10 L67.22,339.10 L67.22,339.10 L70.48,339.10 L70.48,339.10 L73.74,339.10 L73.74,339.10 L77.00,339.10 L77.00,339.10 L80.26,339.10 L80.26,339.10 L83.52,339.10 L83.52,339.10 L86.78,339.10 L86.78,339.10 L90.04,339.10 L90.04,339.10 L93.30,339.10 L93.30,339.10 L96.56,339.10 L96.56,336.70 L99.82,336.70 L99.82,334.20 L103.08,334.20 L103.08,325.60 L106.34,325.60 L106.34,307.80 L109.60,307.80 L109.60,278.30 L112.86,278.30 L112.86,255.60 L116.12,255.60 L116.12,257.20 L119.38,257.20 L119.38,262.80 L122.64,262.80 L122.64,272.20 L125.90,272.20 L125.90,286.70 L129.16,286.70 L129.16,296.70 L132.42,296.70 L132.42,306.70 L135.68,306.70 L135.68,315.60 L138.94,315.60 L138.94,328.90 L142.20,328.90 L142.20,331.20 L145.46,331.20 L145.46,331.20 L148.72,331.20 L148.72,333.00 L151.98,333.00 L151.98,331.20 L155.24,331.20 L155.24,335.10 L158.50,335.10 L158.50,335.10 L161.76,335.10 L161.76,338.00 L165.02,338.00 L165.02,338.00 L168.28,338.00 L168.28,338.60 L171.54,338.60 L171.54,338.60 L174.80,338.60 L174.80,338.80 L178.06,338.80 L178.06,338.80 L181.32,338.80 L181.32,338.80 L184.58,338.80 L184.58,338.80 L187.84,338.80 L187.84,338.80 L191.10,338.80 L191.10,338.80 L194.36,338.80 L194.36,338.80 L197.62,338.80 L197.62,338.80 L200.88,338.80 L200.88,338.80 L204.14,338.80 L204.14,338.80 L207.40,338.80 L207.40,338.80 L210.66,338.80 L210.66,338.80 L213.92,338.80 L213.92,338.80 L217.18,338.80 L217.18,338.80 L220.44,338.80 L220.44,338.80 L223.70,338.80 L223.70,339.10" fill="none" stroke="#dedc40" stroke-width="1.5" stroke-linejoin="miter"/>
<path d="M60.70,339.10 L60.70,339.10 L63.96,339.10 L63.96,339.10 L67.22,339.10 L67.22,339.10 L70.48,339.10 L70.48,339.10 L73.74,339.10 L73.74,339.10 L77.00,339.10 L77.00,339.10 L80.26,339.10 L80.26,339.10 L83.52,339.10 L83.52,339.10 L86.78,339.10 L86.78,339.10 L90.04,339.10 L90.04,339.10 L93.30,339.10 L93.30,339.10 L96.56,339.10 L96.56,339.10 L99.82,339.10 L99.82,339.10 L103.08,339.10 L103.08,339.10 L106.34,339.10 L106.34,339.10 L109.60,339.10 L109.60,339.10 L112.86,339.10 L112.86,339.10 L116.12,339.10 L116.12,337.70 L119.38,337.70 L119.38,337.70 L122.64,337.70 L122.64,324.30 L125.90,324.30 L125.90,314.50 L129.16,314.50 L129.16,314.50 L132.42,314.50 L132.42,312.20 L135.68,312.20 L135.68,303.90 L138.94,303.90 L138.94,298.00 L142.20,298.00 L142.20,295.80 L145.46,295.80 L145.46,302.40 L148.72,302.40 L148.72,314.10 L151.98,314.10 L151.98,324.50 L155.24,324.50 L155.24,320.10 L158.50,320.10 L158.50,320.10 L161.76,320.10 L161.76,319.10 L165.02,319.10 L165.02,311.30 L168.28,311.30 L168.28,313.50 L171.54,313.50 L171.54,308.50 L174.80,308.50 L174.80,318.30 L178.06,318.30 L178.06,318.00 L181.32,318.00 L181.32,322.00 L184.58,322.00 L184.58,320.10 L187.84,320.10 L187.84,307.70 L191.10,307.70 L191.10,320.90 L194.36,320.90 L194.36,331.80 L197.62,331.80 L197.62,326.70 L200.88,326.70 L200.88,323.80 L204.14,323.80 L204.14,327.10 L207.40,327.10 L207.40,336.90 L210.66,336.90 L210.66,338.30 L213.92,338.30 L213.92,338.60 L217.18,338.60 L217.18,338.80 L220.44,338.80 L220.44,338.80 L223.70,338.80 L223.70,339.10" fill="none" stroke="#a0d845" stroke-width="1.5" stroke-linejoin="miter"/>
<path d="M60.70,339.10 L60.70,339.10 L63.96,339.10 L63.96,339.10 L67.22,339.10 L67.22,339.10 L70.48,339.10 L70.48,339.10 L73.74,339.10 L73.74,339.10 L77.00,339.10 L77.00,339.10 L80.26,339.10 L80.26,339.10 L83.52,339.10 L83.52,339.10 L86.78,339.10 L86.78,339.10 L90.04,339.10 L90.04,339.10 L93.30,339.10 L93.30,339.10 L96.56,339.10 L96.56,339.10 L99.82,339.10 L99.82,339.10 L103.08,339.10 L103.08,339.10 L106.34,339.10 L106.34,339.10 L109.60,339.10 L109.60,332.20 L112.86,332.20 L112.86,328.90 L116.12,328.90 L116.12,318.90 L119.38,318.90 L119.38,303.30 L122.64,303.30 L122.64,287.80 L125.90,287.80 L125.90,259.40 L129.16,259.40 L129.16,246.10 L132.42,246.10 L132.42,253.90 L135.68,253.90 L135.68,263.90 L138.94,263.90 L138.94,284.40 L142.20,284.40 L142.20,296.70 L145.46,296.70 L145.46,296.10 L148.72,296.10 L148.72,301.70 L151.98,301.70 L151.98,316.70 L155.24,316.70 L155.24,324.50 L158.50,324.50 L158.50,332.20 L161.76,332.20 L161.76,333.30 L165.02,333.30 L165.02,332.80 L168.28,332.80 L168.28,332.80 L171.54,332.80 L171.54,335.80 L174.80,335.80 L174.80,335.80 L178.06,335.80 L178.06,337.40 L181.32,337.40 L181.32,337.40 L184.58,337.40 L184.58,338.60 L187.84,338.60 L187.84,338.60 L191.10,338.60 L191.10,338.80 L194.36,338.80 L194.36,338.80 L197.62,338.80 L197.62,338.80 L200.88,338.80 L200.88,338.80 L204.14,338.80 L204.14,338.80 L207.40,338.80 L207.40,338.80 L210.66,338.80 L210.66,338.80 L213.92,338.80 L213.92,338.80 L217.18,338.80 L217.18,338.80 L220.44,338.80 L220.44,338.80 L223.70,338.80 L223.70,339.10" fill="none" stroke="#da9838" stroke-width="1.5" stroke-linejoin="miter"/>
<path d="M60.70,339.10 L60.70,339.10 L63.96,339.10 L63.96,339.10 L67.22,339.10 L67.22,339.10 L70.48,339.10 L70.48,339.10 L73.74,339.10 L73.74,339.10 L77.00,339.10 L77.00,339.10 L80.26,339.10 L80.26,339.10 L83.52,339.10 L83.52,339.10 L86.78,339.10 L86.78,339.10 L90.04,339.10 L90.04,339.10 L93.30,339.10 L93.30,339.10 L96.56,339.10 L96.56,339.10 L99.82,339.10 L99.82,339.10 L103.08,339.10 L103.08,339.10 L106.34,339.10 L106.34,339.10 L109.60,339.10 L109.60,336.70 L112.86,336.70 L112.86,334.50 L116.12,334.50 L116.12,332.80 L119.38,332.80 L119.38,331.10 L122.64,331.10 L122.64,322.80 L125.90,322.80 L125.90,303.90 L129.16,303.90 L129.16,262.20 L132.42,262.20 L132.42,263.90 L135.68,263.90 L135.68,272.20 L138.94,272.20 L138.94,277.40 L142.20,277.40 L142.20,288.50 L145.46,288.50 L145.46,293.50 L148.72,293.50 L148.72,302.40 L151.98,302.40 L151.98,310.80 L155.24,310.80 L155.24,316.30 L158.50,316.30 L158.50,319.10 L161.76,319.10 L161.76,322.40 L165.02,322.40 L165.02,324.10 L168.28,324.10 L168.28,325.80 L171.54,325.80 L171.54,329.10 L174.80,329.10 L174.80,330.80 L178.06,330.80 L178.06,333.00 L181.32,333.00 L181.32,335.80 L184.58,335.80 L184.58,336.90 L187.84,336.90 L187.84,338.00 L191.10,338.00 L191.10,338.60 L194.36,338.60 L194.36,338.80 L197.62,338.80 L197.62,338.80 L200.88,338.80 L200.88,338.80 L204.14,338.80 L204.14,338.80 L207.40,338.80 L207.40,338.80 L210.66,338.80 L210.66,338.80 L213.92,338.80 L213.92,338.80 L217.18,338.80 L217.18,338.80 L220.44,338.80 L220.44,338.80 L223.70,338.80 L223.70,339.10" fill="none" stroke="#e04f52" stroke-width="1.5" stroke-linejoin="miter"/>
<line x1="340.30" y1="210.50" x2="340.30" y2="339.10" stroke="#3f7d2e" stroke-width="0.8" stroke-dasharray="2.4,1.4" stroke-opacity="0.8"/>
<line x1="347.10" y1="210.50" x2="347.10" y2="339.10" stroke="#8dbde0" stroke-width="0.8" stroke-dasharray="2.4,1.4" stroke-opacity="0.8"/>
<path d="M287.10,339.10 L287.10,337.70 L290.36,337.70 L290.36,337.70 L293.62,337.70 L293.62,336.50 L296.88,336.50 L296.88,334.10 L300.14,334.10 L300.14,331.60 L303.40,331.60 L303.40,329.80 L306.66,329.80 L306.66,328.60 L309.92,328.60 L309.92,327.40 L313.18,327.40 L313.18,322.50 L316.44,322.50 L316.44,321.90 L319.70,321.90 L319.70,320.10 L322.96,320.10 L322.96,314.60 L326.22,314.60 L326.22,316.40 L329.48,316.40 L329.48,314.00 L332.74,314.00 L332.74,304.20 L336.00,304.20 L336.00,307.90 L339.26,307.90 L339.26,309.70 L342.52,309.70 L342.52,307.30 L345.78,307.30 L345.78,310.30 L349.04,310.30 L349.04,314.30 L352.30,314.30 L352.30,306.80 L355.56,306.80 L355.56,311.30 L358.82,311.30 L358.82,310.30 L362.08,310.30 L362.08,307.80 L365.34,307.80 L365.34,310.30 L368.60,310.30 L368.60,315.80 L371.86,315.80 L371.86,318.30 L375.12,318.30 L375.12,316.30 L378.38,316.30 L378.38,320.40 L381.64,320.40 L381.64,324.90 L384.90,324.90 L384.90,327.40 L388.16,327.40 L388.16,330.90 L391.42,330.90 L391.42,334.40 L394.68,334.40 L394.68,334.50 L397.94,334.50 L397.94,337.40 L401.20,337.40 L401.20,337.40 L404.46,337.40 L404.46,337.40 L407.72,337.40 L407.72,337.40 L410.98,337.40 L410.98,338.80 L414.24,338.80 L414.24,338.80 L417.50,338.80 L417.50,338.80 L420.76,338.80 L420.76,338.80 L424.02,338.80 L424.02,338.80 L427.28,338.80 L427.28,338.80 L430.54,338.80 L430.54,338.10 L433.80,338.10 L433.80,338.80 L437.06,338.80 L437.06,338.80 L440.32,338.80 L440.32,338.80 L443.58,338.80 L443.58,338.80 L446.84,338.80 L446.84,338.80 L450.10,338.80 L450.10,339.10" fill="none" stroke="#8dbde0" stroke-width="1.5" stroke-linejoin="miter"/>
<path d="M287.10,339.10 L287.10,338.30 L290.36,338.30 L290.36,338.30 L293.62,338.30 L293.62,338.30 L296.88,338.30 L296.88,338.30 L300.14,338.30 L300.14,338.30 L303.40,338.30 L303.40,337.10 L306.66,337.10 L306.66,334.70 L309.92,334.70 L309.92,330.40 L313.18,330.40 L313.18,323.10 L316.44,323.10 L316.44,326.20 L319.70,326.20 L319.70,329.80 L322.96,329.80 L322.96,330.40 L326.22,330.40 L326.22,327.40 L329.48,327.40 L329.48,311.50 L332.74,311.50 L332.74,273.20 L336.00,273.20 L336.00,236.10 L339.26,236.10 L339.26,239.20 L342.52,239.20 L342.52,251.30 L345.78,251.30 L345.78,268.10 L349.04,268.10 L349.04,296.20 L352.30,296.20 L352.30,314.80 L355.56,314.80 L355.56,323.70 L358.82,323.70 L358.82,328.70 L362.08,328.70 L362.08,333.20 L365.34,333.20 L365.34,335.70 L368.60,335.70 L368.60,337.50 L371.86,337.50 L371.86,337.50 L375.12,337.50 L375.12,338.60 L378.38,338.60 L378.38,338.80 L381.64,338.80 L381.64,338.80 L384.90,338.80 L384.90,338.80 L388.16,338.80 L388.16,338.80 L391.42,338.80 L391.42,338.80 L394.68,338.80 L394.68,338.80 L397.94,338.80 L397.94,338.80 L401.20,338.80 L401.20,338.80 L404.46,338.80 L404.46,338.80 L407.72,338.80 L407.72,338.80 L410.98,338.80 L410.98,338.80 L414.24,338.80 L414.24,338.80 L417.50,338.80 L417.50,338.80 L420.76,338.80 L420.76,338.80 L424.02,338.80 L424.02,338.80 L427.28,338.80 L427.28,338.80 L430.54,338.80 L430.54,338.80 L433.80,338.80 L433.80,338.80 L437.06,338.80 L437.06,338.80 L440.32,338.80 L440.32,338.80 L443.58,338.80 L443.58,338.80 L446.84,338.80 L446.84,338.80 L450.10,338.80 L450.10,339.10" fill="none" stroke="#3f7d2e" stroke-width="1.5" stroke-linejoin="miter"/>
<line x1="611.90" y1="210.50" x2="611.90" y2="339.10" stroke="#722b32" stroke-width="0.8" stroke-dasharray="2.4,1.4" stroke-opacity="0.8"/>
<line x1="616.60" y1="210.50" x2="616.60" y2="339.10" stroke="#8a72d0" stroke-width="0.8" stroke-dasharray="2.4,1.4" stroke-opacity="0.8"/>
<line x1="619.00" y1="210.50" x2="619.00" y2="339.10" stroke="#b58b5b" stroke-width="0.8" stroke-dasharray="2.4,1.4" stroke-opacity="0.8"/>
<path d="M513.50,339.10 L513.50,339.10 L516.76,339.10 L516.76,339.10 L520.02,339.10 L520.02,339.10 L523.28,339.10 L523.28,339.10 L526.54,339.10 L526.54,339.10 L529.80,339.10 L529.80,339.10 L533.06,339.10 L533.06,339.10 L536.32,339.10 L536.32,339.10 L539.58,339.10 L539.58,339.10 L542.84,339.10 L542.84,339.10 L546.10,339.10 L546.10,339.10 L549.36,339.10 L549.36,339.10 L552.62,339.10 L552.62,339.10 L555.88,339.10 L555.88,339.10 L559.14,339.10 L559.14,339.10 L562.40,339.10 L562.40,339.10 L565.66,339.10 L565.66,339.10 L568.92,339.10 L568.92,339.10 L572.18,339.10 L572.18,339.10 L575.44,339.10 L575.44,339.10 L578.70,339.10 L578.70,339.10 L581.96,339.10 L581.96,339.10 L585.22,339.10 L585.22,339.10 L588.48,339.10 L588.48,332.80 L591.74,332.80 L591.74,339.10 L595.00,339.10 L595.00,327.30 L598.26,327.30 L598.26,327.30 L601.52,327.30 L601.52,339.10 L604.78,339.10 L604.78,309.10 L608.04,309.10 L608.04,259.40 L611.30,259.40 L611.30,290.60 L614.56,290.60 L614.56,241.10 L617.82,241.10 L617.82,271.70 L621.08,271.70 L621.08,265.60 L624.34,265.60 L624.34,278.30 L627.60,278.30 L627.60,294.10 L630.86,294.10 L630.86,300.00 L634.12,300.00 L634.12,316.70 L637.38,316.70 L637.38,328.90 L640.64,328.90 L640.64,315.50 L643.90,315.50 L643.90,336.10 L647.16,336.10 L647.16,338.60 L650.42,338.60 L650.42,338.80 L653.68,338.80 L653.68,338.80 L656.94,338.80 L656.94,338.80 L660.20,338.80 L660.20,338.80 L663.46,338.80 L663.46,338.80 L666.72,338.80 L666.72,338.80 L669.98,338.80 L669.98,338.80 L673.24,338.80 L673.24,338.80 L676.50,338.80 L676.50,339.10" fill="none" stroke="#b58b5b" stroke-width="1.5" stroke-linejoin="miter"/>
<path d="M513.50,339.10 L513.50,339.10 L516.76,339.10 L516.76,339.10 L520.02,339.10 L520.02,339.10 L523.28,339.10 L523.28,339.10 L526.54,339.10 L526.54,339.10 L529.80,339.10 L529.80,339.10 L533.06,339.10 L533.06,339.10 L536.32,339.10 L536.32,339.10 L539.58,339.10 L539.58,339.10 L542.84,339.10 L542.84,339.10 L546.10,339.10 L546.10,339.10 L549.36,339.10 L549.36,339.10 L552.62,339.10 L552.62,339.10 L555.88,339.10 L555.88,339.10 L559.14,339.10 L559.14,331.10 L562.40,331.10 L562.40,339.10 L565.66,339.10 L565.66,323.30 L568.92,323.30 L568.92,323.30 L572.18,323.30 L572.18,323.30 L575.44,323.30 L575.44,307.20 L578.70,307.20 L578.70,323.30 L581.96,323.30 L581.96,339.10 L585.22,339.10 L585.22,331.90 L588.48,331.90 L588.48,323.30 L591.74,323.30 L591.74,331.10 L595.00,331.10 L595.00,323.30 L598.26,323.30 L598.26,307.20 L601.52,307.20 L601.52,331.10 L604.78,331.10 L604.78,316.30 L608.04,316.30 L608.04,322.80 L611.30,322.80 L611.30,304.10 L614.56,304.10 L614.56,283.30 L617.82,283.30 L617.82,299.80 L621.08,299.80 L621.08,299.80 L624.34,299.80 L624.34,282.70 L627.60,282.70 L627.60,258.90 L630.86,258.90 L630.86,301.40 L634.12,301.40 L634.12,317.50 L637.38,317.50 L637.38,331.10 L640.64,331.10 L640.64,339.10 L643.90,339.10 L643.90,323.30 L647.16,323.30 L647.16,339.10 L650.42,339.10 L650.42,339.10 L653.68,339.10 L653.68,338.80 L656.94,338.80 L656.94,338.80 L660.20,338.80 L660.20,338.80 L663.46,338.80 L663.46,338.80 L666.72,338.80 L666.72,338.80 L669.98,338.80 L669.98,338.80 L673.24,338.80 L673.24,338.80 L676.50,338.80 L676.50,339.10" fill="none" stroke="#8a72d0" stroke-width="1.5" stroke-linejoin="miter"/>
<path d="M513.50,339.10 L513.50,338.80 L516.76,338.80 L516.76,338.80 L520.02,338.80 L520.02,338.80 L523.28,338.80 L523.28,338.80 L526.54,338.80 L526.54,338.80 L529.80,338.80 L529.80,338.80 L533.06,338.80 L533.06,338.80 L536.32,338.80 L536.32,338.80 L539.58,338.80 L539.58,338.80 L542.84,338.80 L542.84,338.80 L546.10,338.80 L546.10,338.80 L549.36,338.80 L549.36,338.80 L552.62,338.80 L552.62,338.80 L555.88,338.80 L555.88,338.30 L559.14,338.30 L559.14,338.30 L562.40,338.30 L562.40,338.30 L565.66,338.30 L565.66,337.80 L568.92,337.80 L568.92,338.30 L572.18,338.30 L572.18,331.90 L575.44,331.90 L575.44,323.30 L578.70,323.30 L578.70,315.50 L581.96,315.50 L581.96,303.90 L585.22,303.90 L585.22,300.00 L588.48,300.00 L588.48,310.00 L591.74,310.00 L591.74,318.30 L595.00,318.30 L595.00,311.60 L598.26,311.60 L598.26,320.00 L601.52,320.00 L601.52,312.80 L604.78,312.80 L604.78,315.50 L608.04,315.50 L608.04,305.60 L611.30,305.60 L611.30,300.60 L614.56,300.60 L614.56,297.80 L617.82,297.80 L617.82,290.60 L621.08,290.60 L621.08,296.70 L624.34,296.70 L624.34,295.60 L627.60,295.60 L627.60,306.70 L630.86,306.70 L630.86,311.10 L634.12,311.10 L634.12,318.30 L637.38,318.30 L637.38,326.10 L640.64,326.10 L640.64,326.70 L643.90,326.70 L643.90,335.10 L647.16,335.10 L647.16,336.70 L650.42,336.70 L650.42,337.80 L653.68,337.80 L653.68,338.50 L656.94,338.50 L656.94,338.50 L660.20,338.50 L660.20,338.50 L663.46,338.50 L663.46,338.50 L666.72,338.50 L666.72,337.60 L669.98,337.60 L669.98,338.30 L673.24,338.30 L673.24,338.80 L676.50,338.80 L676.50,339.10" fill="none" stroke="#722b32" stroke-width="1.5" stroke-linejoin="miter"/>
<line x1="48.50" y1="392.00" x2="48.50" y2="528.20" stroke="#3a3a3a" stroke-width="1.0"/>
<line x1="46.90" y1="528.24" x2="48.50" y2="528.24" stroke="#777" stroke-width="0.7"/>
<line x1="46.90" y1="523.10" x2="48.50" y2="523.10" stroke="#777" stroke-width="0.7"/>
<line x1="46.90" y1="519.10" x2="48.50" y2="519.10" stroke="#777" stroke-width="0.7"/>
<line x1="46.90" y1="515.84" x2="48.50" y2="515.84" stroke="#777" stroke-width="0.7"/>
<line x1="46.90" y1="513.08" x2="48.50" y2="513.08" stroke="#777" stroke-width="0.7"/>
<line x1="46.90" y1="510.69" x2="48.50" y2="510.69" stroke="#777" stroke-width="0.7"/>
<line x1="46.90" y1="508.59" x2="48.50" y2="508.59" stroke="#777" stroke-width="0.7"/>
<line x1="45.50" y1="506.70" x2="48.50" y2="506.70" stroke="#3a3a3a" stroke-width="0.8"/>
<line x1="46.90" y1="494.30" x2="48.50" y2="494.30" stroke="#777" stroke-width="0.7"/>
<line x1="46.90" y1="487.04" x2="48.50" y2="487.04" stroke="#777" stroke-width="0.7"/>
<line x1="46.90" y1="481.90" x2="48.50" y2="481.90" stroke="#777" stroke-width="0.7"/>
<line x1="46.90" y1="477.90" x2="48.50" y2="477.90" stroke="#777" stroke-width="0.7"/>
<line x1="46.90" y1="474.64" x2="48.50" y2="474.64" stroke="#777" stroke-width="0.7"/>
<line x1="46.90" y1="471.88" x2="48.50" y2="471.88" stroke="#777" stroke-width="0.7"/>
<line x1="46.90" y1="469.49" x2="48.50" y2="469.49" stroke="#777" stroke-width="0.7"/>
<line x1="46.90" y1="467.39" x2="48.50" y2="467.39" stroke="#777" stroke-width="0.7"/>
<line x1="45.50" y1="465.50" x2="48.50" y2="465.50" stroke="#3a3a3a" stroke-width="0.8"/>
<line x1="46.90" y1="453.10" x2="48.50" y2="453.10" stroke="#777" stroke-width="0.7"/>
<line x1="46.90" y1="445.84" x2="48.50" y2="445.84" stroke="#777" stroke-width="0.7"/>
<line x1="46.90" y1="440.70" x2="48.50" y2="440.70" stroke="#777" stroke-width="0.7"/>
<line x1="46.90" y1="436.70" x2="48.50" y2="436.70" stroke="#777" stroke-width="0.7"/>
<line x1="46.90" y1="433.44" x2="48.50" y2="433.44" stroke="#777" stroke-width="0.7"/>
<line x1="46.90" y1="430.68" x2="48.50" y2="430.68" stroke="#777" stroke-width="0.7"/>
<line x1="46.90" y1="428.29" x2="48.50" y2="428.29" stroke="#777" stroke-width="0.7"/>
<line x1="46.90" y1="426.19" x2="48.50" y2="426.19" stroke="#777" stroke-width="0.7"/>
<line x1="45.50" y1="424.30" x2="48.50" y2="424.30" stroke="#3a3a3a" stroke-width="0.8"/>
<line x1="46.90" y1="411.90" x2="48.50" y2="411.90" stroke="#777" stroke-width="0.7"/>
<line x1="46.90" y1="404.64" x2="48.50" y2="404.64" stroke="#777" stroke-width="0.7"/>
<line x1="46.90" y1="399.50" x2="48.50" y2="399.50" stroke="#777" stroke-width="0.7"/>
<line x1="46.90" y1="395.50" x2="48.50" y2="395.50" stroke="#777" stroke-width="0.7"/>
<line x1="46.90" y1="392.24" x2="48.50" y2="392.24" stroke="#777" stroke-width="0.7"/>
<text x="29.11" y="510.30" font-size="10" text-anchor="start" fill="#1f1f1f">10</text>
<text x="40.53" y="506.20" font-size="7.5" text-anchor="start" fill="#1f1f1f">2</text>
<text x="29.11" y="469.10" font-size="10" text-anchor="start" fill="#1f1f1f">10</text>
<text x="40.53" y="465.00" font-size="7.5" text-anchor="start" fill="#1f1f1f">3</text>
<text x="29.11" y="427.90" font-size="10" text-anchor="start" fill="#1f1f1f">10</text>
<text x="40.53" y="423.80" font-size="7.5" text-anchor="start" fill="#1f1f1f">4</text>
<line x1="56.00" y1="536.00" x2="186.20" y2="536.00" stroke="#3a3a3a" stroke-width="1.0"/>
<line x1="55.90" y1="536.00" x2="55.90" y2="539.00" stroke="#3a3a3a" stroke-width="0.8"/>
<line x1="68.96" y1="536.00" x2="68.96" y2="537.60" stroke="#777" stroke-width="0.7"/>
<line x1="76.61" y1="536.00" x2="76.61" y2="537.60" stroke="#777" stroke-width="0.7"/>
<line x1="82.03" y1="536.00" x2="82.03" y2="537.60" stroke="#777" stroke-width="0.7"/>
<line x1="86.24" y1="536.00" x2="86.24" y2="537.60" stroke="#777" stroke-width="0.7"/>
<line x1="89.67" y1="536.00" x2="89.67" y2="537.60" stroke="#777" stroke-width="0.7"/>
<line x1="92.58" y1="536.00" x2="92.58" y2="537.60" stroke="#777" stroke-width="0.7"/>
<line x1="95.09" y1="536.00" x2="95.09" y2="537.60" stroke="#777" stroke-width="0.7"/>
<line x1="97.31" y1="536.00" x2="97.31" y2="537.60" stroke="#777" stroke-width="0.7"/>
<line x1="99.30" y1="536.00" x2="99.30" y2="539.00" stroke="#3a3a3a" stroke-width="0.8"/>
<line x1="112.36" y1="536.00" x2="112.36" y2="537.60" stroke="#777" stroke-width="0.7"/>
<line x1="120.01" y1="536.00" x2="120.01" y2="537.60" stroke="#777" stroke-width="0.7"/>
<line x1="125.43" y1="536.00" x2="125.43" y2="537.60" stroke="#777" stroke-width="0.7"/>
<line x1="129.64" y1="536.00" x2="129.64" y2="537.60" stroke="#777" stroke-width="0.7"/>
<line x1="133.07" y1="536.00" x2="133.07" y2="537.60" stroke="#777" stroke-width="0.7"/>
<line x1="135.98" y1="536.00" x2="135.98" y2="537.60" stroke="#777" stroke-width="0.7"/>
<line x1="138.49" y1="536.00" x2="138.49" y2="537.60" stroke="#777" stroke-width="0.7"/>
<line x1="140.71" y1="536.00" x2="140.71" y2="537.60" stroke="#777" stroke-width="0.7"/>
<line x1="142.70" y1="536.00" x2="142.70" y2="539.00" stroke="#3a3a3a" stroke-width="0.8"/>
<line x1="155.76" y1="536.00" x2="155.76" y2="537.60" stroke="#777" stroke-width="0.7"/>
<line x1="163.41" y1="536.00" x2="163.41" y2="537.60" stroke="#777" stroke-width="0.7"/>
<line x1="168.83" y1="536.00" x2="168.83" y2="537.60" stroke="#777" stroke-width="0.7"/>
<line x1="173.04" y1="536.00" x2="173.04" y2="537.60" stroke="#777" stroke-width="0.7"/>
<line x1="176.47" y1="536.00" x2="176.47" y2="537.60" stroke="#777" stroke-width="0.7"/>
<line x1="179.38" y1="536.00" x2="179.38" y2="537.60" stroke="#777" stroke-width="0.7"/>
<line x1="181.89" y1="536.00" x2="181.89" y2="537.60" stroke="#777" stroke-width="0.7"/>
<line x1="184.11" y1="536.00" x2="184.11" y2="537.60" stroke="#777" stroke-width="0.7"/>
<line x1="186.10" y1="536.00" x2="186.10" y2="539.00" stroke="#3a3a3a" stroke-width="0.8"/>
<text x="48.10" y="546.50" font-size="10" text-anchor="start" fill="#1f1f1f">10</text>
<text x="59.52" y="542.40" font-size="7.5" text-anchor="start" fill="#1f1f1f">1</text>
<text x="91.50" y="546.50" font-size="10" text-anchor="start" fill="#1f1f1f">10</text>
<text x="102.92" y="542.40" font-size="7.5" text-anchor="start" fill="#1f1f1f">2</text>
<text x="134.91" y="546.50" font-size="10" text-anchor="start" fill="#1f1f1f">10</text>
<text x="146.33" y="542.40" font-size="7.5" text-anchor="start" fill="#1f1f1f">3</text>
<text x="178.31" y="546.50" font-size="10" text-anchor="start" fill="#1f1f1f">10</text>
<text x="189.73" y="542.40" font-size="7.5" text-anchor="start" fill="#1f1f1f">4</text>
<text x="23.80" y="460.80" font-size="11.5" text-anchor="middle" fill="#1f1f1f" transform="rotate(-90 23.80 460.80)">Neuron path length (μ<tspan dx="0.6">m</tspan><tspan dx="1.4">)</tspan></text>
<text x="121.20" y="560.00" font-size="11.5" text-anchor="middle" fill="#1f1f1f">Outgoing synapse count</text>
<text x="2.60" y="398.40" font-size="20.5" text-anchor="start" fill="#1f1f1f">g</text>
<line x1="48.50" y1="580.70" x2="48.50" y2="716.90" stroke="#3a3a3a" stroke-width="1.0"/>
<line x1="46.90" y1="716.94" x2="48.50" y2="716.94" stroke="#777" stroke-width="0.7"/>
<line x1="46.90" y1="711.80" x2="48.50" y2="711.80" stroke="#777" stroke-width="0.7"/>
<line x1="46.90" y1="707.80" x2="48.50" y2="707.80" stroke="#777" stroke-width="0.7"/>
<line x1="46.90" y1="704.54" x2="48.50" y2="704.54" stroke="#777" stroke-width="0.7"/>
<line x1="46.90" y1="701.78" x2="48.50" y2="701.78" stroke="#777" stroke-width="0.7"/>
<line x1="46.90" y1="699.39" x2="48.50" y2="699.39" stroke="#777" stroke-width="0.7"/>
<line x1="46.90" y1="697.29" x2="48.50" y2="697.29" stroke="#777" stroke-width="0.7"/>
<line x1="45.50" y1="695.40" x2="48.50" y2="695.40" stroke="#3a3a3a" stroke-width="0.8"/>
<line x1="46.90" y1="683.00" x2="48.50" y2="683.00" stroke="#777" stroke-width="0.7"/>
<line x1="46.90" y1="675.74" x2="48.50" y2="675.74" stroke="#777" stroke-width="0.7"/>
<line x1="46.90" y1="670.60" x2="48.50" y2="670.60" stroke="#777" stroke-width="0.7"/>
<line x1="46.90" y1="666.60" x2="48.50" y2="666.60" stroke="#777" stroke-width="0.7"/>
<line x1="46.90" y1="663.34" x2="48.50" y2="663.34" stroke="#777" stroke-width="0.7"/>
<line x1="46.90" y1="660.58" x2="48.50" y2="660.58" stroke="#777" stroke-width="0.7"/>
<line x1="46.90" y1="658.19" x2="48.50" y2="658.19" stroke="#777" stroke-width="0.7"/>
<line x1="46.90" y1="656.09" x2="48.50" y2="656.09" stroke="#777" stroke-width="0.7"/>
<line x1="45.50" y1="654.20" x2="48.50" y2="654.20" stroke="#3a3a3a" stroke-width="0.8"/>
<line x1="46.90" y1="641.80" x2="48.50" y2="641.80" stroke="#777" stroke-width="0.7"/>
<line x1="46.90" y1="634.54" x2="48.50" y2="634.54" stroke="#777" stroke-width="0.7"/>
<line x1="46.90" y1="629.40" x2="48.50" y2="629.40" stroke="#777" stroke-width="0.7"/>
<line x1="46.90" y1="625.40" x2="48.50" y2="625.40" stroke="#777" stroke-width="0.7"/>
<line x1="46.90" y1="622.14" x2="48.50" y2="622.14" stroke="#777" stroke-width="0.7"/>
<line x1="46.90" y1="619.38" x2="48.50" y2="619.38" stroke="#777" stroke-width="0.7"/>
<line x1="46.90" y1="616.99" x2="48.50" y2="616.99" stroke="#777" stroke-width="0.7"/>
<line x1="46.90" y1="614.89" x2="48.50" y2="614.89" stroke="#777" stroke-width="0.7"/>
<line x1="45.50" y1="613.00" x2="48.50" y2="613.00" stroke="#3a3a3a" stroke-width="0.8"/>
<line x1="46.90" y1="600.60" x2="48.50" y2="600.60" stroke="#777" stroke-width="0.7"/>
<line x1="46.90" y1="593.34" x2="48.50" y2="593.34" stroke="#777" stroke-width="0.7"/>
<line x1="46.90" y1="588.20" x2="48.50" y2="588.20" stroke="#777" stroke-width="0.7"/>
<line x1="46.90" y1="584.20" x2="48.50" y2="584.20" stroke="#777" stroke-width="0.7"/>
<line x1="46.90" y1="580.94" x2="48.50" y2="580.94" stroke="#777" stroke-width="0.7"/>
<text x="29.11" y="699.00" font-size="10" text-anchor="start" fill="#1f1f1f">10</text>
<text x="40.53" y="694.90" font-size="7.5" text-anchor="start" fill="#1f1f1f">2</text>
<text x="29.11" y="657.80" font-size="10" text-anchor="start" fill="#1f1f1f">10</text>
<text x="40.53" y="653.70" font-size="7.5" text-anchor="start" fill="#1f1f1f">3</text>
<text x="29.11" y="616.60" font-size="10" text-anchor="start" fill="#1f1f1f">10</text>
<text x="40.53" y="612.50" font-size="7.5" text-anchor="start" fill="#1f1f1f">4</text>
<line x1="56.00" y1="724.70" x2="186.20" y2="724.70" stroke="#3a3a3a" stroke-width="1.0"/>
<line x1="55.90" y1="724.70" x2="55.90" y2="727.70" stroke="#3a3a3a" stroke-width="0.8"/>
<line x1="68.96" y1="724.70" x2="68.96" y2="726.30" stroke="#777" stroke-width="0.7"/>
<line x1="76.61" y1="724.70" x2="76.61" y2="726.30" stroke="#777" stroke-width="0.7"/>
<line x1="82.03" y1="724.70" x2="82.03" y2="726.30" stroke="#777" stroke-width="0.7"/>
<line x1="86.24" y1="724.70" x2="86.24" y2="726.30" stroke="#777" stroke-width="0.7"/>
<line x1="89.67" y1="724.70" x2="89.67" y2="726.30" stroke="#777" stroke-width="0.7"/>
<line x1="92.58" y1="724.70" x2="92.58" y2="726.30" stroke="#777" stroke-width="0.7"/>
<line x1="95.09" y1="724.70" x2="95.09" y2="726.30" stroke="#777" stroke-width="0.7"/>
<line x1="97.31" y1="724.70" x2="97.31" y2="726.30" stroke="#777" stroke-width="0.7"/>
<line x1="99.30" y1="724.70" x2="99.30" y2="727.70" stroke="#3a3a3a" stroke-width="0.8"/>
<line x1="112.36" y1="724.70" x2="112.36" y2="726.30" stroke="#777" stroke-width="0.7"/>
<line x1="120.01" y1="724.70" x2="120.01" y2="726.30" stroke="#777" stroke-width="0.7"/>
<line x1="125.43" y1="724.70" x2="125.43" y2="726.30" stroke="#777" stroke-width="0.7"/>
<line x1="129.64" y1="724.70" x2="129.64" y2="726.30" stroke="#777" stroke-width="0.7"/>
<line x1="133.07" y1="724.70" x2="133.07" y2="726.30" stroke="#777" stroke-width="0.7"/>
<line x1="135.98" y1="724.70" x2="135.98" y2="726.30" stroke="#777" stroke-width="0.7"/>
<line x1="138.49" y1="724.70" x2="138.49" y2="726.30" stroke="#777" stroke-width="0.7"/>
<line x1="140.71" y1="724.70" x2="140.71" y2="726.30" stroke="#777" stroke-width="0.7"/>
<line x1="142.70" y1="724.70" x2="142.70" y2="727.70" stroke="#3a3a3a" stroke-width="0.8"/>
<line x1="155.76" y1="724.70" x2="155.76" y2="726.30" stroke="#777" stroke-width="0.7"/>
<line x1="163.41" y1="724.70" x2="163.41" y2="726.30" stroke="#777" stroke-width="0.7"/>
<line x1="168.83" y1="724.70" x2="168.83" y2="726.30" stroke="#777" stroke-width="0.7"/>
<line x1="173.04" y1="724.70" x2="173.04" y2="726.30" stroke="#777" stroke-width="0.7"/>
<line x1="176.47" y1="724.70" x2="176.47" y2="726.30" stroke="#777" stroke-width="0.7"/>
<line x1="179.38" y1="724.70" x2="179.38" y2="726.30" stroke="#777" stroke-width="0.7"/>
<line x1="181.89" y1="724.70" x2="181.89" y2="726.30" stroke="#777" stroke-width="0.7"/>
<line x1="184.11" y1="724.70" x2="184.11" y2="726.30" stroke="#777" stroke-width="0.7"/>
<line x1="186.10" y1="724.70" x2="186.10" y2="727.70" stroke="#3a3a3a" stroke-width="0.8"/>
<text x="48.10" y="735.20" font-size="10" text-anchor="start" fill="#1f1f1f">10</text>
<text x="59.52" y="731.10" font-size="7.5" text-anchor="start" fill="#1f1f1f">1</text>
<text x="91.50" y="735.20" font-size="10" text-anchor="start" fill="#1f1f1f">10</text>
<text x="102.92" y="731.10" font-size="7.5" text-anchor="start" fill="#1f1f1f">2</text>
<text x="134.91" y="735.20" font-size="10" text-anchor="start" fill="#1f1f1f">10</text>
<text x="146.33" y="731.10" font-size="7.5" text-anchor="start" fill="#1f1f1f">3</text>
<text x="178.31" y="735.20" font-size="10" text-anchor="start" fill="#1f1f1f">10</text>
<text x="189.73" y="731.10" font-size="7.5" text-anchor="start" fill="#1f1f1f">4</text>
<text x="23.80" y="649.50" font-size="11.5" text-anchor="middle" fill="#1f1f1f" transform="rotate(-90 23.80 649.50)">Neuron path length (μ<tspan dx="0.6">m</tspan><tspan dx="1.4">)</tspan></text>
<text x="121.20" y="748.70" font-size="11.5" text-anchor="middle" fill="#1f1f1f">Incoming synapse count</text>
<line x1="290.30" y1="396.50" x2="290.30" y2="528.20" stroke="#3a3a3a" stroke-width="1.0"/>
<line x1="288.70" y1="527.01" x2="290.30" y2="527.01" stroke="#777" stroke-width="0.7"/>
<line x1="288.70" y1="524.61" x2="290.30" y2="524.61" stroke="#777" stroke-width="0.7"/>
<line x1="288.70" y1="522.49" x2="290.30" y2="522.49" stroke="#777" stroke-width="0.7"/>
<line x1="287.30" y1="520.60" x2="290.30" y2="520.60" stroke="#3a3a3a" stroke-width="0.8"/>
<line x1="288.70" y1="508.14" x2="290.30" y2="508.14" stroke="#777" stroke-width="0.7"/>
<line x1="288.70" y1="500.85" x2="290.30" y2="500.85" stroke="#777" stroke-width="0.7"/>
<line x1="288.70" y1="495.67" x2="290.30" y2="495.67" stroke="#777" stroke-width="0.7"/>
<line x1="288.70" y1="491.66" x2="290.30" y2="491.66" stroke="#777" stroke-width="0.7"/>
<line x1="288.70" y1="488.38" x2="290.30" y2="488.38" stroke="#777" stroke-width="0.7"/>
<line x1="288.70" y1="485.61" x2="290.30" y2="485.61" stroke="#777" stroke-width="0.7"/>
<line x1="288.70" y1="483.21" x2="290.30" y2="483.21" stroke="#777" stroke-width="0.7"/>
<line x1="288.70" y1="481.09" x2="290.30" y2="481.09" stroke="#777" stroke-width="0.7"/>
<line x1="287.30" y1="479.20" x2="290.30" y2="479.20" stroke="#3a3a3a" stroke-width="0.8"/>
<line x1="288.70" y1="466.74" x2="290.30" y2="466.74" stroke="#777" stroke-width="0.7"/>
<line x1="288.70" y1="459.45" x2="290.30" y2="459.45" stroke="#777" stroke-width="0.7"/>
<line x1="288.70" y1="454.27" x2="290.30" y2="454.27" stroke="#777" stroke-width="0.7"/>
<line x1="288.70" y1="450.26" x2="290.30" y2="450.26" stroke="#777" stroke-width="0.7"/>
<line x1="288.70" y1="446.98" x2="290.30" y2="446.98" stroke="#777" stroke-width="0.7"/>
<line x1="288.70" y1="444.21" x2="290.30" y2="444.21" stroke="#777" stroke-width="0.7"/>
<line x1="288.70" y1="441.81" x2="290.30" y2="441.81" stroke="#777" stroke-width="0.7"/>
<line x1="288.70" y1="439.69" x2="290.30" y2="439.69" stroke="#777" stroke-width="0.7"/>
<line x1="287.30" y1="437.80" x2="290.30" y2="437.80" stroke="#3a3a3a" stroke-width="0.8"/>
<line x1="288.70" y1="425.34" x2="290.30" y2="425.34" stroke="#777" stroke-width="0.7"/>
<line x1="288.70" y1="418.05" x2="290.30" y2="418.05" stroke="#777" stroke-width="0.7"/>
<line x1="288.70" y1="412.87" x2="290.30" y2="412.87" stroke="#777" stroke-width="0.7"/>
<line x1="288.70" y1="408.86" x2="290.30" y2="408.86" stroke="#777" stroke-width="0.7"/>
<line x1="288.70" y1="405.58" x2="290.30" y2="405.58" stroke="#777" stroke-width="0.7"/>
<line x1="288.70" y1="402.81" x2="290.30" y2="402.81" stroke="#777" stroke-width="0.7"/>
<line x1="288.70" y1="400.41" x2="290.30" y2="400.41" stroke="#777" stroke-width="0.7"/>
<line x1="288.70" y1="398.29" x2="290.30" y2="398.29" stroke="#777" stroke-width="0.7"/>
<line x1="287.30" y1="396.40" x2="290.30" y2="396.40" stroke="#3a3a3a" stroke-width="0.8"/>
<text x="270.91" y="524.20" font-size="10" text-anchor="start" fill="#1f1f1f">10</text>
<text x="282.33" y="520.10" font-size="7.5" text-anchor="start" fill="#1f1f1f">0</text>
<text x="270.91" y="482.80" font-size="10" text-anchor="start" fill="#1f1f1f">10</text>
<text x="282.33" y="478.70" font-size="7.5" text-anchor="start" fill="#1f1f1f">1</text>
<text x="270.91" y="441.40" font-size="10" text-anchor="start" fill="#1f1f1f">10</text>
<text x="282.33" y="437.30" font-size="7.5" text-anchor="start" fill="#1f1f1f">2</text>
<text x="270.91" y="400.00" font-size="10" text-anchor="start" fill="#1f1f1f">10</text>
<text x="282.33" y="395.90" font-size="7.5" text-anchor="start" fill="#1f1f1f">3</text>
<line x1="298.20" y1="535.50" x2="436.00" y2="535.50" stroke="#3a3a3a" stroke-width="1.0"/>
<line x1="301.79" y1="535.50" x2="301.79" y2="537.10" stroke="#777" stroke-width="0.7"/>
<line x1="305.30" y1="535.50" x2="305.30" y2="537.10" stroke="#777" stroke-width="0.7"/>
<line x1="308.17" y1="535.50" x2="308.17" y2="537.10" stroke="#777" stroke-width="0.7"/>
<line x1="310.59" y1="535.50" x2="310.59" y2="537.10" stroke="#777" stroke-width="0.7"/>
<line x1="312.69" y1="535.50" x2="312.69" y2="537.10" stroke="#777" stroke-width="0.7"/>
<line x1="314.54" y1="535.50" x2="314.54" y2="537.10" stroke="#777" stroke-width="0.7"/>
<line x1="316.20" y1="535.50" x2="316.20" y2="538.50" stroke="#3a3a3a" stroke-width="0.8"/>
<line x1="327.10" y1="535.50" x2="327.10" y2="537.10" stroke="#777" stroke-width="0.7"/>
<line x1="333.47" y1="535.50" x2="333.47" y2="537.10" stroke="#777" stroke-width="0.7"/>
<line x1="337.99" y1="535.50" x2="337.99" y2="537.10" stroke="#777" stroke-width="0.7"/>
<line x1="341.50" y1="535.50" x2="341.50" y2="537.10" stroke="#777" stroke-width="0.7"/>
<line x1="344.37" y1="535.50" x2="344.37" y2="537.10" stroke="#777" stroke-width="0.7"/>
<line x1="346.79" y1="535.50" x2="346.79" y2="537.10" stroke="#777" stroke-width="0.7"/>
<line x1="348.89" y1="535.50" x2="348.89" y2="537.10" stroke="#777" stroke-width="0.7"/>
<line x1="350.74" y1="535.50" x2="350.74" y2="537.10" stroke="#777" stroke-width="0.7"/>
<line x1="352.40" y1="535.50" x2="352.40" y2="538.50" stroke="#3a3a3a" stroke-width="0.8"/>
<line x1="363.30" y1="535.50" x2="363.30" y2="537.10" stroke="#777" stroke-width="0.7"/>
<line x1="369.67" y1="535.50" x2="369.67" y2="537.10" stroke="#777" stroke-width="0.7"/>
<line x1="374.19" y1="535.50" x2="374.19" y2="537.10" stroke="#777" stroke-width="0.7"/>
<line x1="377.70" y1="535.50" x2="377.70" y2="537.10" stroke="#777" stroke-width="0.7"/>
<line x1="380.57" y1="535.50" x2="380.57" y2="537.10" stroke="#777" stroke-width="0.7"/>
<line x1="382.99" y1="535.50" x2="382.99" y2="537.10" stroke="#777" stroke-width="0.7"/>
<line x1="385.09" y1="535.50" x2="385.09" y2="537.10" stroke="#777" stroke-width="0.7"/>
<line x1="386.94" y1="535.50" x2="386.94" y2="537.10" stroke="#777" stroke-width="0.7"/>
<line x1="388.60" y1="535.50" x2="388.60" y2="538.50" stroke="#3a3a3a" stroke-width="0.8"/>
<line x1="399.50" y1="535.50" x2="399.50" y2="537.10" stroke="#777" stroke-width="0.7"/>
<line x1="405.87" y1="535.50" x2="405.87" y2="537.10" stroke="#777" stroke-width="0.7"/>
<line x1="410.39" y1="535.50" x2="410.39" y2="537.10" stroke="#777" stroke-width="0.7"/>
<line x1="413.90" y1="535.50" x2="413.90" y2="537.10" stroke="#777" stroke-width="0.7"/>
<line x1="416.77" y1="535.50" x2="416.77" y2="537.10" stroke="#777" stroke-width="0.7"/>
<line x1="419.19" y1="535.50" x2="419.19" y2="537.10" stroke="#777" stroke-width="0.7"/>
<line x1="421.29" y1="535.50" x2="421.29" y2="537.10" stroke="#777" stroke-width="0.7"/>
<line x1="423.14" y1="535.50" x2="423.14" y2="537.10" stroke="#777" stroke-width="0.7"/>
<line x1="424.80" y1="535.50" x2="424.80" y2="538.50" stroke="#3a3a3a" stroke-width="0.8"/>
<line x1="435.70" y1="535.50" x2="435.70" y2="537.10" stroke="#777" stroke-width="0.7"/>
<text x="308.40" y="546.00" font-size="10" text-anchor="start" fill="#1f1f1f">10</text>
<text x="319.82" y="541.90" font-size="7.5" text-anchor="start" fill="#1f1f1f">1</text>
<text x="344.60" y="546.00" font-size="10" text-anchor="start" fill="#1f1f1f">10</text>
<text x="356.02" y="541.90" font-size="7.5" text-anchor="start" fill="#1f1f1f">2</text>
<text x="380.81" y="546.00" font-size="10" text-anchor="start" fill="#1f1f1f">10</text>
<text x="392.23" y="541.90" font-size="7.5" text-anchor="start" fill="#1f1f1f">3</text>
<text x="417.00" y="546.00" font-size="10" text-anchor="start" fill="#1f1f1f">10</text>
<text x="428.43" y="541.90" font-size="7.5" text-anchor="start" fill="#1f1f1f">4</text>
<text x="266.10" y="462.00" font-size="11.5" text-anchor="middle" fill="#1f1f1f" transform="rotate(-90 266.10 462.00)">degree-in</text>
<text x="366.50" y="560.00" font-size="11.5" text-anchor="middle" fill="#1f1f1f"># incoming synapses</text>
<text x="242.50" y="398.40" font-size="20.5" text-anchor="start" fill="#1f1f1f">h</text>
<line x1="290.30" y1="585.20" x2="290.30" y2="716.90" stroke="#3a3a3a" stroke-width="1.0"/>
<line x1="288.70" y1="715.71" x2="290.30" y2="715.71" stroke="#777" stroke-width="0.7"/>
<line x1="288.70" y1="713.31" x2="290.30" y2="713.31" stroke="#777" stroke-width="0.7"/>
<line x1="288.70" y1="711.19" x2="290.30" y2="711.19" stroke="#777" stroke-width="0.7"/>
<line x1="287.30" y1="709.30" x2="290.30" y2="709.30" stroke="#3a3a3a" stroke-width="0.8"/>
<line x1="288.70" y1="696.84" x2="290.30" y2="696.84" stroke="#777" stroke-width="0.7"/>
<line x1="288.70" y1="689.55" x2="290.30" y2="689.55" stroke="#777" stroke-width="0.7"/>
<line x1="288.70" y1="684.37" x2="290.30" y2="684.37" stroke="#777" stroke-width="0.7"/>
<line x1="288.70" y1="680.36" x2="290.30" y2="680.36" stroke="#777" stroke-width="0.7"/>
<line x1="288.70" y1="677.08" x2="290.30" y2="677.08" stroke="#777" stroke-width="0.7"/>
<line x1="288.70" y1="674.31" x2="290.30" y2="674.31" stroke="#777" stroke-width="0.7"/>
<line x1="288.70" y1="671.91" x2="290.30" y2="671.91" stroke="#777" stroke-width="0.7"/>
<line x1="288.70" y1="669.79" x2="290.30" y2="669.79" stroke="#777" stroke-width="0.7"/>
<line x1="287.30" y1="667.90" x2="290.30" y2="667.90" stroke="#3a3a3a" stroke-width="0.8"/>
<line x1="288.70" y1="655.44" x2="290.30" y2="655.44" stroke="#777" stroke-width="0.7"/>
<line x1="288.70" y1="648.15" x2="290.30" y2="648.15" stroke="#777" stroke-width="0.7"/>
<line x1="288.70" y1="642.97" x2="290.30" y2="642.97" stroke="#777" stroke-width="0.7"/>
<line x1="288.70" y1="638.96" x2="290.30" y2="638.96" stroke="#777" stroke-width="0.7"/>
<line x1="288.70" y1="635.68" x2="290.30" y2="635.68" stroke="#777" stroke-width="0.7"/>
<line x1="288.70" y1="632.91" x2="290.30" y2="632.91" stroke="#777" stroke-width="0.7"/>
<line x1="288.70" y1="630.51" x2="290.30" y2="630.51" stroke="#777" stroke-width="0.7"/>
<line x1="288.70" y1="628.39" x2="290.30" y2="628.39" stroke="#777" stroke-width="0.7"/>
<line x1="287.30" y1="626.50" x2="290.30" y2="626.50" stroke="#3a3a3a" stroke-width="0.8"/>
<line x1="288.70" y1="614.04" x2="290.30" y2="614.04" stroke="#777" stroke-width="0.7"/>
<line x1="288.70" y1="606.75" x2="290.30" y2="606.75" stroke="#777" stroke-width="0.7"/>
<line x1="288.70" y1="601.57" x2="290.30" y2="601.57" stroke="#777" stroke-width="0.7"/>
<line x1="288.70" y1="597.56" x2="290.30" y2="597.56" stroke="#777" stroke-width="0.7"/>
<line x1="288.70" y1="594.28" x2="290.30" y2="594.28" stroke="#777" stroke-width="0.7"/>
<line x1="288.70" y1="591.51" x2="290.30" y2="591.51" stroke="#777" stroke-width="0.7"/>
<line x1="288.70" y1="589.11" x2="290.30" y2="589.11" stroke="#777" stroke-width="0.7"/>
<line x1="288.70" y1="586.99" x2="290.30" y2="586.99" stroke="#777" stroke-width="0.7"/>
<text x="270.91" y="712.90" font-size="10" text-anchor="start" fill="#1f1f1f">10</text>
<text x="282.33" y="708.80" font-size="7.5" text-anchor="start" fill="#1f1f1f">0</text>
<text x="270.91" y="671.50" font-size="10" text-anchor="start" fill="#1f1f1f">10</text>
<text x="282.33" y="667.40" font-size="7.5" text-anchor="start" fill="#1f1f1f">1</text>
<text x="270.91" y="630.10" font-size="10" text-anchor="start" fill="#1f1f1f">10</text>
<text x="282.33" y="626.00" font-size="7.5" text-anchor="start" fill="#1f1f1f">2</text>
<text x="270.91" y="588.70" font-size="10" text-anchor="start" fill="#1f1f1f">10</text>
<text x="282.33" y="584.60" font-size="7.5" text-anchor="start" fill="#1f1f1f">3</text>
<line x1="298.20" y1="724.20" x2="436.00" y2="724.20" stroke="#3a3a3a" stroke-width="1.0"/>
<line x1="301.79" y1="724.20" x2="301.79" y2="725.80" stroke="#777" stroke-width="0.7"/>
<line x1="305.30" y1="724.20" x2="305.30" y2="725.80" stroke="#777" stroke-width="0.7"/>
<line x1="308.17" y1="724.20" x2="308.17" y2="725.80" stroke="#777" stroke-width="0.7"/>
<line x1="310.59" y1="724.20" x2="310.59" y2="725.80" stroke="#777" stroke-width="0.7"/>
<line x1="312.69" y1="724.20" x2="312.69" y2="725.80" stroke="#777" stroke-width="0.7"/>
<line x1="314.54" y1="724.20" x2="314.54" y2="725.80" stroke="#777" stroke-width="0.7"/>
<line x1="316.20" y1="724.20" x2="316.20" y2="727.20" stroke="#3a3a3a" stroke-width="0.8"/>
<line x1="327.10" y1="724.20" x2="327.10" y2="725.80" stroke="#777" stroke-width="0.7"/>
<line x1="333.47" y1="724.20" x2="333.47" y2="725.80" stroke="#777" stroke-width="0.7"/>
<line x1="337.99" y1="724.20" x2="337.99" y2="725.80" stroke="#777" stroke-width="0.7"/>
<line x1="341.50" y1="724.20" x2="341.50" y2="725.80" stroke="#777" stroke-width="0.7"/>
<line x1="344.37" y1="724.20" x2="344.37" y2="725.80" stroke="#777" stroke-width="0.7"/>
<line x1="346.79" y1="724.20" x2="346.79" y2="725.80" stroke="#777" stroke-width="0.7"/>
<line x1="348.89" y1="724.20" x2="348.89" y2="725.80" stroke="#777" stroke-width="0.7"/>
<line x1="350.74" y1="724.20" x2="350.74" y2="725.80" stroke="#777" stroke-width="0.7"/>
<line x1="352.40" y1="724.20" x2="352.40" y2="727.20" stroke="#3a3a3a" stroke-width="0.8"/>
<line x1="363.30" y1="724.20" x2="363.30" y2="725.80" stroke="#777" stroke-width="0.7"/>
<line x1="369.67" y1="724.20" x2="369.67" y2="725.80" stroke="#777" stroke-width="0.7"/>
<line x1="374.19" y1="724.20" x2="374.19" y2="725.80" stroke="#777" stroke-width="0.7"/>
<line x1="377.70" y1="724.20" x2="377.70" y2="725.80" stroke="#777" stroke-width="0.7"/>
<line x1="380.57" y1="724.20" x2="380.57" y2="725.80" stroke="#777" stroke-width="0.7"/>
<line x1="382.99" y1="724.20" x2="382.99" y2="725.80" stroke="#777" stroke-width="0.7"/>
<line x1="385.09" y1="724.20" x2="385.09" y2="725.80" stroke="#777" stroke-width="0.7"/>
<line x1="386.94" y1="724.20" x2="386.94" y2="725.80" stroke="#777" stroke-width="0.7"/>
<line x1="388.60" y1="724.20" x2="388.60" y2="727.20" stroke="#3a3a3a" stroke-width="0.8"/>
<line x1="399.50" y1="724.20" x2="399.50" y2="725.80" stroke="#777" stroke-width="0.7"/>
<line x1="405.87" y1="724.20" x2="405.87" y2="725.80" stroke="#777" stroke-width="0.7"/>
<line x1="410.39" y1="724.20" x2="410.39" y2="725.80" stroke="#777" stroke-width="0.7"/>
<line x1="413.90" y1="724.20" x2="413.90" y2="725.80" stroke="#777" stroke-width="0.7"/>
<line x1="416.77" y1="724.20" x2="416.77" y2="725.80" stroke="#777" stroke-width="0.7"/>
<line x1="419.19" y1="724.20" x2="419.19" y2="725.80" stroke="#777" stroke-width="0.7"/>
<line x1="421.29" y1="724.20" x2="421.29" y2="725.80" stroke="#777" stroke-width="0.7"/>
<line x1="423.14" y1="724.20" x2="423.14" y2="725.80" stroke="#777" stroke-width="0.7"/>
<line x1="424.80" y1="724.20" x2="424.80" y2="727.20" stroke="#3a3a3a" stroke-width="0.8"/>
<line x1="435.70" y1="724.20" x2="435.70" y2="725.80" stroke="#777" stroke-width="0.7"/>
<text x="308.40" y="734.70" font-size="10" text-anchor="start" fill="#1f1f1f">10</text>
<text x="319.82" y="730.60" font-size="7.5" text-anchor="start" fill="#1f1f1f">1</text>
<text x="344.60" y="734.70" font-size="10" text-anchor="start" fill="#1f1f1f">10</text>
<text x="356.02" y="730.60" font-size="7.5" text-anchor="start" fill="#1f1f1f">2</text>
<text x="380.81" y="734.70" font-size="10" text-anchor="start" fill="#1f1f1f">10</text>
<text x="392.23" y="730.60" font-size="7.5" text-anchor="start" fill="#1f1f1f">3</text>
<text x="417.00" y="734.70" font-size="10" text-anchor="start" fill="#1f1f1f">10</text>
<text x="428.43" y="730.60" font-size="7.5" text-anchor="start" fill="#1f1f1f">4</text>
<text x="266.10" y="650.70" font-size="11.5" text-anchor="middle" fill="#1f1f1f" transform="rotate(-90 266.10 650.70)">degree-out</text>
<text x="366.50" y="748.70" font-size="11.5" text-anchor="middle" fill="#1f1f1f"># outgoing synapses</text>
<line x1="532.40" y1="396.50" x2="532.40" y2="528.20" stroke="#3a3a3a" stroke-width="1.0"/>
<line x1="530.80" y1="522.18" x2="532.40" y2="522.18" stroke="#777" stroke-width="0.7"/>
<line x1="530.80" y1="514.53" x2="532.40" y2="514.53" stroke="#777" stroke-width="0.7"/>
<line x1="530.80" y1="508.06" x2="532.40" y2="508.06" stroke="#777" stroke-width="0.7"/>
<line x1="530.80" y1="502.46" x2="532.40" y2="502.46" stroke="#777" stroke-width="0.7"/>
<line x1="530.80" y1="497.52" x2="532.40" y2="497.52" stroke="#777" stroke-width="0.7"/>
<line x1="529.40" y1="493.10" x2="532.40" y2="493.10" stroke="#3a3a3a" stroke-width="0.8"/>
<line x1="530.80" y1="464.02" x2="532.40" y2="464.02" stroke="#777" stroke-width="0.7"/>
<line x1="530.80" y1="447.01" x2="532.40" y2="447.01" stroke="#777" stroke-width="0.7"/>
<line x1="530.80" y1="434.94" x2="532.40" y2="434.94" stroke="#777" stroke-width="0.7"/>
<line x1="530.80" y1="425.58" x2="532.40" y2="425.58" stroke="#777" stroke-width="0.7"/>
<line x1="530.80" y1="417.93" x2="532.40" y2="417.93" stroke="#777" stroke-width="0.7"/>
<line x1="530.80" y1="411.46" x2="532.40" y2="411.46" stroke="#777" stroke-width="0.7"/>
<line x1="530.80" y1="405.86" x2="532.40" y2="405.86" stroke="#777" stroke-width="0.7"/>
<line x1="530.80" y1="400.92" x2="532.40" y2="400.92" stroke="#777" stroke-width="0.7"/>
<line x1="529.40" y1="396.50" x2="532.40" y2="396.50" stroke="#3a3a3a" stroke-width="0.8"/>
<text x="513.01" y="496.70" font-size="10" text-anchor="start" fill="#1f1f1f">10</text>
<text x="524.43" y="492.60" font-size="7.5" text-anchor="start" fill="#1f1f1f">1</text>
<text x="513.01" y="400.10" font-size="10" text-anchor="start" fill="#1f1f1f">10</text>
<text x="524.43" y="396.00" font-size="7.5" text-anchor="start" fill="#1f1f1f">2</text>
<line x1="540.20" y1="535.50" x2="678.20" y2="535.50" stroke="#3a3a3a" stroke-width="1.0"/>
<line x1="544.43" y1="535.50" x2="544.43" y2="537.10" stroke="#777" stroke-width="0.7"/>
<line x1="547.93" y1="535.50" x2="547.93" y2="537.10" stroke="#777" stroke-width="0.7"/>
<line x1="550.79" y1="535.50" x2="550.79" y2="537.10" stroke="#777" stroke-width="0.7"/>
<line x1="553.21" y1="535.50" x2="553.21" y2="537.10" stroke="#777" stroke-width="0.7"/>
<line x1="555.30" y1="535.50" x2="555.30" y2="537.10" stroke="#777" stroke-width="0.7"/>
<line x1="557.15" y1="535.50" x2="557.15" y2="537.10" stroke="#777" stroke-width="0.7"/>
<line x1="558.80" y1="535.50" x2="558.80" y2="538.50" stroke="#3a3a3a" stroke-width="0.8"/>
<line x1="569.67" y1="535.50" x2="569.67" y2="537.10" stroke="#777" stroke-width="0.7"/>
<line x1="576.02" y1="535.50" x2="576.02" y2="537.10" stroke="#777" stroke-width="0.7"/>
<line x1="580.53" y1="535.50" x2="580.53" y2="537.10" stroke="#777" stroke-width="0.7"/>
<line x1="584.03" y1="535.50" x2="584.03" y2="537.10" stroke="#777" stroke-width="0.7"/>
<line x1="586.89" y1="535.50" x2="586.89" y2="537.10" stroke="#777" stroke-width="0.7"/>
<line x1="589.31" y1="535.50" x2="589.31" y2="537.10" stroke="#777" stroke-width="0.7"/>
<line x1="591.40" y1="535.50" x2="591.40" y2="537.10" stroke="#777" stroke-width="0.7"/>
<line x1="593.25" y1="535.50" x2="593.25" y2="537.10" stroke="#777" stroke-width="0.7"/>
<line x1="594.90" y1="535.50" x2="594.90" y2="538.50" stroke="#3a3a3a" stroke-width="0.8"/>
<line x1="605.77" y1="535.50" x2="605.77" y2="537.10" stroke="#777" stroke-width="0.7"/>
<line x1="612.12" y1="535.50" x2="612.12" y2="537.10" stroke="#777" stroke-width="0.7"/>
<line x1="616.63" y1="535.50" x2="616.63" y2="537.10" stroke="#777" stroke-width="0.7"/>
<line x1="620.13" y1="535.50" x2="620.13" y2="537.10" stroke="#777" stroke-width="0.7"/>
<line x1="622.99" y1="535.50" x2="622.99" y2="537.10" stroke="#777" stroke-width="0.7"/>
<line x1="625.41" y1="535.50" x2="625.41" y2="537.10" stroke="#777" stroke-width="0.7"/>
<line x1="627.50" y1="535.50" x2="627.50" y2="537.10" stroke="#777" stroke-width="0.7"/>
<line x1="629.35" y1="535.50" x2="629.35" y2="537.10" stroke="#777" stroke-width="0.7"/>
<line x1="631.00" y1="535.50" x2="631.00" y2="538.50" stroke="#3a3a3a" stroke-width="0.8"/>
<line x1="641.87" y1="535.50" x2="641.87" y2="537.10" stroke="#777" stroke-width="0.7"/>
<line x1="648.22" y1="535.50" x2="648.22" y2="537.10" stroke="#777" stroke-width="0.7"/>
<line x1="652.73" y1="535.50" x2="652.73" y2="537.10" stroke="#777" stroke-width="0.7"/>
<line x1="656.23" y1="535.50" x2="656.23" y2="537.10" stroke="#777" stroke-width="0.7"/>
<line x1="659.09" y1="535.50" x2="659.09" y2="537.10" stroke="#777" stroke-width="0.7"/>
<line x1="661.51" y1="535.50" x2="661.51" y2="537.10" stroke="#777" stroke-width="0.7"/>
<line x1="663.60" y1="535.50" x2="663.60" y2="537.10" stroke="#777" stroke-width="0.7"/>
<line x1="665.45" y1="535.50" x2="665.45" y2="537.10" stroke="#777" stroke-width="0.7"/>
<line x1="667.10" y1="535.50" x2="667.10" y2="538.50" stroke="#3a3a3a" stroke-width="0.8"/>
<line x1="677.97" y1="535.50" x2="677.97" y2="537.10" stroke="#777" stroke-width="0.7"/>
<text x="551.00" y="546.00" font-size="10" text-anchor="start" fill="#1f1f1f">10</text>
<text x="562.42" y="541.90" font-size="7.5" text-anchor="start" fill="#1f1f1f">1</text>
<text x="587.11" y="546.00" font-size="10" text-anchor="start" fill="#1f1f1f">10</text>
<text x="598.52" y="541.90" font-size="7.5" text-anchor="start" fill="#1f1f1f">2</text>
<text x="623.21" y="546.00" font-size="10" text-anchor="start" fill="#1f1f1f">10</text>
<text x="634.62" y="541.90" font-size="7.5" text-anchor="start" fill="#1f1f1f">3</text>
<text x="659.30" y="546.00" font-size="10" text-anchor="start" fill="#1f1f1f">10</text>
<text x="670.72" y="541.90" font-size="7.5" text-anchor="start" fill="#1f1f1f">4</text>
<text x="508.70" y="462.30" font-size="11.5" text-anchor="middle" fill="#1f1f1f" transform="rotate(-90 508.70 462.30)">Avg # synapses / inc. conn.</text>
<text x="609.20" y="560.00" font-size="11.5" text-anchor="middle" fill="#1f1f1f"># incoming synapses</text>
<text x="489.80" y="395.30" font-size="20.5" text-anchor="start" fill="#1f1f1f">i</text>
<line x1="532.40" y1="585.20" x2="532.40" y2="716.90" stroke="#3a3a3a" stroke-width="1.0"/>
<line x1="530.80" y1="710.88" x2="532.40" y2="710.88" stroke="#777" stroke-width="0.7"/>
<line x1="530.80" y1="703.23" x2="532.40" y2="703.23" stroke="#777" stroke-width="0.7"/>
<line x1="530.80" y1="696.76" x2="532.40" y2="696.76" stroke="#777" stroke-width="0.7"/>
<line x1="530.80" y1="691.16" x2="532.40" y2="691.16" stroke="#777" stroke-width="0.7"/>
<line x1="530.80" y1="686.22" x2="532.40" y2="686.22" stroke="#777" stroke-width="0.7"/>
<line x1="529.40" y1="681.80" x2="532.40" y2="681.80" stroke="#3a3a3a" stroke-width="0.8"/>
<line x1="530.80" y1="652.72" x2="532.40" y2="652.72" stroke="#777" stroke-width="0.7"/>
<line x1="530.80" y1="635.71" x2="532.40" y2="635.71" stroke="#777" stroke-width="0.7"/>
<line x1="530.80" y1="623.64" x2="532.40" y2="623.64" stroke="#777" stroke-width="0.7"/>
<line x1="530.80" y1="614.28" x2="532.40" y2="614.28" stroke="#777" stroke-width="0.7"/>
<line x1="530.80" y1="606.63" x2="532.40" y2="606.63" stroke="#777" stroke-width="0.7"/>
<line x1="530.80" y1="600.16" x2="532.40" y2="600.16" stroke="#777" stroke-width="0.7"/>
<line x1="530.80" y1="594.56" x2="532.40" y2="594.56" stroke="#777" stroke-width="0.7"/>
<line x1="530.80" y1="589.62" x2="532.40" y2="589.62" stroke="#777" stroke-width="0.7"/>
<line x1="529.40" y1="585.20" x2="532.40" y2="585.20" stroke="#3a3a3a" stroke-width="0.8"/>
<text x="513.01" y="685.40" font-size="10" text-anchor="start" fill="#1f1f1f">10</text>
<text x="524.43" y="681.30" font-size="7.5" text-anchor="start" fill="#1f1f1f">1</text>
<text x="513.01" y="588.80" font-size="10" text-anchor="start" fill="#1f1f1f">10</text>
<text x="524.43" y="584.70" font-size="7.5" text-anchor="start" fill="#1f1f1f">2</text>
<line x1="540.20" y1="724.20" x2="678.20" y2="724.20" stroke="#3a3a3a" stroke-width="1.0"/>
<line x1="544.43" y1="724.20" x2="544.43" y2="725.80" stroke="#777" stroke-width="0.7"/>
<line x1="547.93" y1="724.20" x2="547.93" y2="725.80" stroke="#777" stroke-width="0.7"/>
<line x1="550.79" y1="724.20" x2="550.79" y2="725.80" stroke="#777" stroke-width="0.7"/>
<line x1="553.21" y1="724.20" x2="553.21" y2="725.80" stroke="#777" stroke-width="0.7"/>
<line x1="555.30" y1="724.20" x2="555.30" y2="725.80" stroke="#777" stroke-width="0.7"/>
<line x1="557.15" y1="724.20" x2="557.15" y2="725.80" stroke="#777" stroke-width="0.7"/>
<line x1="558.80" y1="724.20" x2="558.80" y2="727.20" stroke="#3a3a3a" stroke-width="0.8"/>
<line x1="569.67" y1="724.20" x2="569.67" y2="725.80" stroke="#777" stroke-width="0.7"/>
<line x1="576.02" y1="724.20" x2="576.02" y2="725.80" stroke="#777" stroke-width="0.7"/>
<line x1="580.53" y1="724.20" x2="580.53" y2="725.80" stroke="#777" stroke-width="0.7"/>
<line x1="584.03" y1="724.20" x2="584.03" y2="725.80" stroke="#777" stroke-width="0.7"/>
<line x1="586.89" y1="724.20" x2="586.89" y2="725.80" stroke="#777" stroke-width="0.7"/>
<line x1="589.31" y1="724.20" x2="589.31" y2="725.80" stroke="#777" stroke-width="0.7"/>
<line x1="591.40" y1="724.20" x2="591.40" y2="725.80" stroke="#777" stroke-width="0.7"/>
<line x1="593.25" y1="724.20" x2="593.25" y2="725.80" stroke="#777" stroke-width="0.7"/>
<line x1="594.90" y1="724.20" x2="594.90" y2="727.20" stroke="#3a3a3a" stroke-width="0.8"/>
<line x1="605.77" y1="724.20" x2="605.77" y2="725.80" stroke="#777" stroke-width="0.7"/>
<line x1="612.12" y1="724.20" x2="612.12" y2="725.80" stroke="#777" stroke-width="0.7"/>
<line x1="616.63" y1="724.20" x2="616.63" y2="725.80" stroke="#777" stroke-width="0.7"/>
<line x1="620.13" y1="724.20" x2="620.13" y2="725.80" stroke="#777" stroke-width="0.7"/>
<line x1="622.99" y1="724.20" x2="622.99" y2="725.80" stroke="#777" stroke-width="0.7"/>
<line x1="625.41" y1="724.20" x2="625.41" y2="725.80" stroke="#777" stroke-width="0.7"/>
<line x1="627.50" y1="724.20" x2="627.50" y2="725.80" stroke="#777" stroke-width="0.7"/>
<line x1="629.35" y1="724.20" x2="629.35" y2="725.80" stroke="#777" stroke-width="0.7"/>
<line x1="631.00" y1="724.20" x2="631.00" y2="727.20" stroke="#3a3a3a" stroke-width="0.8"/>
<line x1="641.87" y1="724.20" x2="641.87" y2="725.80" stroke="#777" stroke-width="0.7"/>
<line x1="648.22" y1="724.20" x2="648.22" y2="725.80" stroke="#777" stroke-width="0.7"/>
<line x1="652.73" y1="724.20" x2="652.73" y2="725.80" stroke="#777" stroke-width="0.7"/>
<line x1="656.23" y1="724.20" x2="656.23" y2="725.80" stroke="#777" stroke-width="0.7"/>
<line x1="659.09" y1="724.20" x2="659.09" y2="725.80" stroke="#777" stroke-width="0.7"/>
<line x1="661.51" y1="724.20" x2="661.51" y2="725.80" stroke="#777" stroke-width="0.7"/>
<line x1="663.60" y1="724.20" x2="663.60" y2="725.80" stroke="#777" stroke-width="0.7"/>
<line x1="665.45" y1="724.20" x2="665.45" y2="725.80" stroke="#777" stroke-width="0.7"/>
<line x1="667.10" y1="724.20" x2="667.10" y2="727.20" stroke="#3a3a3a" stroke-width="0.8"/>
<line x1="677.97" y1="724.20" x2="677.97" y2="725.80" stroke="#777" stroke-width="0.7"/>
<text x="551.00" y="734.70" font-size="10" text-anchor="start" fill="#1f1f1f">10</text>
<text x="562.42" y="730.60" font-size="7.5" text-anchor="start" fill="#1f1f1f">1</text>
<text x="587.11" y="734.70" font-size="10" text-anchor="start" fill="#1f1f1f">10</text>
<text x="598.52" y="730.60" font-size="7.5" text-anchor="start" fill="#1f1f1f">2</text>
<text x="623.21" y="734.70" font-size="10" text-anchor="start" fill="#1f1f1f">10</text>
<text x="634.62" y="730.60" font-size="7.5" text-anchor="start" fill="#1f1f1f">3</text>
<text x="659.30" y="734.70" font-size="10" text-anchor="start" fill="#1f1f1f">10</text>
<text x="670.72" y="730.60" font-size="7.5" text-anchor="start" fill="#1f1f1f">4</text>
<text x="508.70" y="651.00" font-size="11.5" text-anchor="middle" fill="#1f1f1f" transform="rotate(-90 508.70 651.00)">Avg # synapses / outg. conn.</text>
<text x="609.20" y="748.70" font-size="11.5" text-anchor="middle" fill="#1f1f1f"># outgoing synapses</text>
<clipPath id="cgt"><rect x="56.6" y="388" width="135" height="141"/></clipPath>
<clipPath id="cgb"><rect x="56.6" y="576.7" width="135" height="141"/></clipPath>
<g clip-path="url(#cgt)">
<path d="M52.0,441.0 L80.7,428.8 L111.3,416.6 L142.0,406.3 L172.6,400.2 L185.9,404.3 L185.9,426.8 L164.4,455.4 L148.1,479.9 L127.7,492.2 L101.1,506.5 L74.5,512.6 L52.0,512.6 Z" fill="#000" fill-opacity="0.1" filter="url(#b4)"/>
<path d="M52.0,451.0 L76.0,451.0 L76.0,466.0 L52.0,466.0 Z" fill="#000" fill-opacity="0.06" filter="url(#b2)"/>
<path d="M52.0,466.0 L80.0,460.0 L100.0,455.0 L118.0,449.0 L140.0,440.0 L160.0,426.0 L177.0,414.0 L183.0,418.0 L168.0,436.0 L152.0,452.0 L148.0,476.0 L132.0,484.0 L111.0,490.0 L95.0,500.0 L74.0,505.0 L52.0,507.0 Z" fill="#000" fill-opacity="0.22" filter="url(#b4)"/>
<path d="M52.0,494.0 L80.0,493.0 L99.0,490.0 L110.0,487.0 L105.0,498.0 L80.0,503.0 L52.0,505.0 Z" fill="#000" fill-opacity="0.26" filter="url(#b2)"/>
<path d="M86.8,486.1 L93.9,479.9 L101.1,472.8 L107.2,461.5 L115.4,455.4 L125.6,451.3 L135.8,448.2 L144.0,445.2 L152.2,440.1 L158.3,435.0 L161.4,436.0 L156.3,443.1 L146.1,453.4 L137.9,461.5 L132.8,468.7 L139.9,471.7 L148.1,472.8 L146.1,476.9 L137.9,477.9 L131.7,479.9 L121.5,483.0 L111.3,487.1 L101.1,489.5 L90.9,489.5 Z" fill="#474747" fill-opacity="1.0" filter="url(#b1)"/>
</g>
<circle cx="103.5" cy="460.9" r="2.7" fill="#d8282c"/>
<circle cx="98.3" cy="475.3" r="2.7" fill="#3a7fc0"/>
<circle cx="117.0" cy="479.9" r="2.7" fill="#4cb848"/>
<circle cx="110.7" cy="484.5" r="2.7" fill="#111"/>
<circle cx="128.5" cy="463.5" r="2.7" fill="#8a45a8"/>
<circle cx="143.9" cy="446.4" r="2.7" fill="#e88fc8"/>
<circle cx="156.3" cy="417.6" r="2.7" fill="#c0602a"/>
<g clip-path="url(#cgb)">
<path d="M52.0,650.0 L90.9,642.2 L121.5,627.9 L152.2,607.5 L182.8,597.3 L185.9,609.5 L172.6,638.1 L142.0,670.8 L111.3,687.2 L80.7,697.4 L52.0,701.5 Z" fill="#000" fill-opacity="0.11" filter="url(#b4)"/>
<path d="M52.0,656.0 L80.0,650.0 L100.0,643.0 L121.5,632.0 L142.0,622.0 L164.0,612.0 L181.0,604.0 L184.0,612.0 L168.0,630.0 L152.0,644.0 L132.0,660.0 L112.0,675.0 L100.0,681.0 L80.0,686.0 L52.0,692.0 Z" fill="#000" fill-opacity="0.28" filter="url(#b4)"/>
<path d="M52.0,676.0 L80.0,672.0 L100.0,667.0 L112.0,662.0 L110.0,675.0 L90.0,683.0 L52.0,690.0 Z" fill="#000" fill-opacity="0.2" filter="url(#b2)"/>
<path d="M91.9,675.9 L97.0,667.8 L104.2,660.6 L111.3,653.5 L119.5,647.3 L129.7,643.2 L139.9,640.2 L145.0,641.2 L142.0,646.3 L133.8,652.4 L127.7,658.6 L128.7,662.7 L123.6,666.7 L115.4,670.8 L107.2,675.9 L99.0,679.0 Z" fill="#474747" fill-opacity="1.0" filter="url(#b1)"/>
</g>
<circle cx="154.2" cy="606.0" r="2.7" fill="#c0602a"/>
<circle cx="118.9" cy="634.7" r="2.7" fill="#e88fc8"/>
<circle cx="121.9" cy="649.8" r="2.7" fill="#d8282c"/>
<circle cx="142.6" cy="652.0" r="2.7" fill="#8a45a8"/>
<circle cx="84.7" cy="663.7" r="2.7" fill="#3a7fc0"/>
<circle cx="99.0" cy="668.4" r="2.7" fill="#4cb848"/>
<circle cx="103.5" cy="673.5" r="2.7" fill="#111"/>
<path d="M331.0,492.0 L341.5,479.5 L372.0,479.5 L368.0,492.0 Z" fill="#000" fill-opacity="0.12" filter="url(#b2)"/>
<rect x="305.3" y="519.80" width="40.0" height="1.6" fill="url(#fadeR)"/>
<rect x="316.2" y="507.34" width="44.0" height="1.6" fill="url(#fadeR)"/>
<rect x="322.6" y="500.05" width="45.0" height="1.6" fill="url(#fadeR)"/>
<rect x="327.1" y="494.87" width="44.0" height="1.6" fill="url(#fadeR)"/>
<rect x="330.6" y="490.86" width="42.0" height="1.6" fill="url(#fadeR)"/>
<rect x="333.5" y="487.58" width="40.0" height="1.6" fill="url(#fadeR)"/>
<rect x="335.9" y="484.81" width="38.0" height="1.6" fill="url(#fadeR)"/>
<rect x="338.0" y="482.41" width="36.0" height="1.6" fill="url(#fadeR)"/>
<rect x="339.8" y="480.29" width="34.0" height="1.6" fill="url(#fadeR)"/>
<rect x="341.5" y="478.40" width="32.0" height="1.6" fill="url(#fadeR)"/>
<rect x="343.0" y="476.69" width="30.0" height="1.6" fill="url(#fadeR)"/>
<path d="M375.0,482.0 L398.0,462.0 L412.0,445.0 L422.0,428.0 L432.0,408.0 L430.0,398.0 L415.0,402.0 L400.0,418.0 L388.0,432.0 L370.0,460.0 Z" fill="#000" fill-opacity="0.11" filter="url(#b4)"/>
<path d="M368.0,482.0 L386.0,466.0 L399.0,455.0 L410.0,440.0 L416.0,428.0 L410.0,421.0 L400.0,428.0 L392.0,440.0 L380.0,458.0 Z" fill="#000" fill-opacity="0.28" filter="url(#b2)"/>
<path d="M341.5,479.8 L387.0,437.9 L392.0,433.0 L398.0,430.0 L399.0,436.0 L394.0,444.0 L388.0,452.0 L383.0,460.0 L378.0,468.0 L373.0,477.0 L370.0,480.5 Z" fill="#474747" fill-opacity="1.0" filter="url(#b1)"/>
<circle cx="385.9" cy="442.0" r="2.7" fill="#8a45a8"/>
<circle cx="372.3" cy="451.8" r="2.7" fill="#c0602a"/>
<circle cx="360.0" cy="468.2" r="2.7" fill="#d8282c"/>
<circle cx="348.5" cy="478.8" r="2.7" fill="#111"/>
<circle cx="349.2" cy="480.8" r="2.7" fill="#e88fc8"/>
<circle cx="349.2" cy="491.5" r="2.7" fill="#4cb848"/>
<path d="M331.0,680.7 L341.5,668.2 L372.0,668.2 L368.0,680.7 Z" fill="#000" fill-opacity="0.12" filter="url(#b2)"/>
<rect x="305.3" y="708.50" width="40.0" height="1.6" fill="url(#fadeR)"/>
<rect x="316.2" y="696.04" width="44.0" height="1.6" fill="url(#fadeR)"/>
<rect x="322.6" y="688.75" width="45.0" height="1.6" fill="url(#fadeR)"/>
<rect x="327.1" y="683.57" width="44.0" height="1.6" fill="url(#fadeR)"/>
<rect x="330.6" y="679.56" width="42.0" height="1.6" fill="url(#fadeR)"/>
<rect x="333.5" y="676.28" width="40.0" height="1.6" fill="url(#fadeR)"/>
<rect x="335.9" y="673.51" width="38.0" height="1.6" fill="url(#fadeR)"/>
<rect x="338.0" y="671.11" width="36.0" height="1.6" fill="url(#fadeR)"/>
<rect x="339.8" y="668.99" width="34.0" height="1.6" fill="url(#fadeR)"/>
<rect x="341.5" y="667.10" width="32.0" height="1.6" fill="url(#fadeR)"/>
<rect x="343.0" y="665.39" width="30.0" height="1.6" fill="url(#fadeR)"/>
<path d="M388.2,623.3 L403.6,608.0 L422.0,591.1 L431.2,588.1 L432.7,600.3 L415.8,618.7 L402.0,637.1 L391.3,654.0 L376.0,664.7 L366.0,667.0 Z" fill="#000" fill-opacity="0.15" filter="url(#b4)"/>
<path d="M368.3,664.7 L380.6,655.5 L389.8,643.2 L398.0,630.0 L404.0,622.0 L396.0,622.0 L388.0,632.0 L376.0,648.0 L362.0,664.0 Z" fill="#000" fill-opacity="0.4" filter="url(#b2)"/>
<path d="M345.3,665.5 L390.5,631.8 L394.0,632.0 L390.0,641.7 L382.0,652.4 L373.0,662.0 L364.0,666.5 Z" fill="#474747" fill-opacity="1.0" filter="url(#b1)"/>
<circle cx="385.5" cy="641.2" r="2.7" fill="#e88fc8"/>
<circle cx="371.6" cy="651.4" r="2.7" fill="#8a45a8"/>
<circle cx="360.8" cy="653.5" r="2.7" fill="#c0602a"/>
<circle cx="352.8" cy="662.7" r="2.7" fill="#111"/>
<circle cx="366.9" cy="673.9" r="2.7" fill="#4cb848"/>
<circle cx="333.8" cy="684.1" r="2.7" fill="#d8282c"/>
<circle cx="336.9" cy="684.1" r="2.7" fill="#3a7fc0"/>
<path d="M589.0,462.0 L605.0,440.0 L625.0,428.0 L648.0,432.0 L662.0,440.0 L674.0,470.0 L670.0,495.0 L645.0,512.0 L612.0,518.0 L585.0,520.0 Z" fill="#000" fill-opacity="0.09" filter="url(#b7)"/>
<path d="M582.0,505.0 L592.0,482.0 L606.0,456.0 L612.0,452.0 L618.0,466.0 L631.0,452.0 L642.0,452.0 L648.0,465.0 L641.0,484.0 L631.0,497.0 L618.0,508.0 L600.0,516.0 L584.0,518.0 Z" fill="#000" fill-opacity="0.18" filter="url(#b4)"/>
<path d="M582.8,516.4 L579.6,503.5 L589.3,484.2 L598.9,468.2 L605.3,455.3 L610.1,450.5 L613.4,460.1 L615.0,473.0 L621.4,484.2 L619.8,495.5 L611.8,505.1 L602.1,511.5 L590.9,516.4 Z" fill="#000" fill-opacity="0.45" filter="url(#b2)"/>
<path d="M586.0,514.0 L584.0,500.0 L592.0,484.0 L602.0,474.0 L610.0,478.0 L614.0,490.0 L608.0,504.0 L598.0,512.0 Z" fill="#474747" fill-opacity="0.75" filter="url(#b2)"/>
<rect x="547.3" y="521.5" width="1.3" height="1.3" fill="#3a3a3a"/>
<rect x="550.1" y="513.9" width="1.3" height="1.3" fill="#3a3a3a"/>
<rect x="552.6" y="507.4" width="1.3" height="1.3" fill="#3a3a3a"/>
<rect x="554.7" y="501.8" width="1.3" height="1.3" fill="#3a3a3a"/>
<rect x="556.5" y="496.9" width="1.3" height="1.3" fill="#3a3a3a"/>
<rect x="558.1" y="492.5" width="1.3" height="1.3" fill="#3a3a3a"/>
<rect x="559.6" y="488.5" width="1.3" height="1.3" fill="#3a3a3a"/>
<rect x="561.0" y="484.8" width="1.3" height="1.3" fill="#3a3a3a"/>
<rect x="562.3" y="481.4" width="1.3" height="1.3" fill="#3a3a3a"/>
<rect x="563.4" y="478.3" width="1.3" height="1.3" fill="#3a3a3a"/>
<rect x="564.5" y="475.4" width="1.3" height="1.3" fill="#3a3a3a"/>
<rect x="565.5" y="472.7" width="1.3" height="1.3" fill="#3a3a3a"/>
<rect x="566.5" y="470.2" width="1.3" height="1.3" fill="#3a3a3a"/>
<rect x="567.4" y="467.8" width="1.3" height="1.3" fill="#3a3a3a"/>
<rect x="568.2" y="465.5" width="1.3" height="1.3" fill="#3a3a3a"/>
<rect x="569.0" y="463.4" width="1.3" height="1.3" fill="#3a3a3a"/>
<rect x="569.8" y="461.3" width="1.3" height="1.3" fill="#3a3a3a"/>
<rect x="570.5" y="459.4" width="1.3" height="1.3" fill="#3a3a3a"/>
<line x1="571.2" y1="460.0" x2="582.3" y2="430.3" stroke="#333" stroke-opacity="0.3" stroke-width="0.9"/>
<rect x="558.1" y="521.5" width="1.3" height="1.3" fill="#3a3a3a"/>
<rect x="559.6" y="517.5" width="1.3" height="1.3" fill="#3a3a3a"/>
<rect x="561.0" y="513.9" width="1.3" height="1.3" fill="#3a3a3a"/>
<rect x="562.3" y="510.5" width="1.3" height="1.3" fill="#3a3a3a"/>
<rect x="563.4" y="507.4" width="1.3" height="1.3" fill="#3a3a3a"/>
<rect x="564.5" y="504.5" width="1.3" height="1.3" fill="#3a3a3a"/>
<rect x="565.5" y="501.8" width="1.3" height="1.3" fill="#3a3a3a"/>
<line x1="566.2" y1="502.5" x2="599.3" y2="413.9" stroke="#333" stroke-opacity="0.55" stroke-width="0.9"/>
<line x1="565.2" y1="522.2" x2="604.5" y2="416.8" stroke="url(#lfade)" stroke-width="0.85"/>
<line x1="569.7" y1="522.2" x2="607.6" y2="420.7" stroke="url(#lfade)" stroke-width="0.85"/>
<line x1="573.2" y1="522.2" x2="609.7" y2="424.5" stroke="url(#lfade)" stroke-width="0.85"/>
<line x1="576.0" y1="522.2" x2="611.1" y2="428.4" stroke="url(#lfade)" stroke-width="0.85"/>
<line x1="578.4" y1="522.2" x2="612.1" y2="432.2" stroke="url(#lfade)" stroke-width="0.85"/>
<line x1="580.5" y1="522.2" x2="612.7" y2="436.1" stroke="url(#lfade)" stroke-width="0.85"/>
<line x1="582.4" y1="522.2" x2="613.1" y2="440.0" stroke="url(#lfade)" stroke-width="0.85"/>
<line x1="584.0" y1="522.2" x2="612.9" y2="444.8" stroke="url(#lfade)" stroke-width="0.85"/>
<line x1="585.5" y1="522.2" x2="612.6" y2="449.6" stroke="url(#lfade)" stroke-width="0.85"/>
<line x1="586.9" y1="522.2" x2="612.2" y2="454.5" stroke="url(#lfade)" stroke-width="0.85"/>
<circle cx="591.1" cy="473.1" r="2.7" fill="#4cb848"/>
<circle cx="628.3" cy="489.0" r="2.7" fill="#8a45a8"/>
<circle cx="591.1" cy="497.8" r="2.7" fill="#e88fc8"/>
<circle cx="602.3" cy="498.2" r="2.7" fill="#d8282c"/>
<circle cx="614.6" cy="502.3" r="2.7" fill="#c0602a"/>
<circle cx="590.1" cy="505.8" r="2.7" fill="#111"/>
<path d="M611.5,615.7 L632.0,601.4 L654.5,605.4 L672.8,625.9 L679.0,666.7 L666.7,687.2 L642.2,701.5 L611.5,711.7 L589.0,711.7 L601.3,646.3 Z" fill="#000" fill-opacity="0.1" filter="url(#b7)"/>
<path d="M589.0,679.0 L601.3,662.7 L607.4,646.3 L617.7,630.0 L627.9,625.9 L636.0,638.1 L638.1,656.5 L642.2,677.0 L632.0,695.4 L611.5,707.6 L589.0,709.7 Z" fill="#000" fill-opacity="0.22" filter="url(#b4)"/>
<path d="M588.0,707.6 L601.3,705.6 L615.6,699.5 L625.8,691.3 L632.0,681.1 L636.0,668.8 L632.0,660.6 L625.8,666.7 L617.7,672.9 L607.4,674.9 L597.2,679.0 L589.0,687.2 L586.0,699.5 Z" fill="#474747" fill-opacity="0.92" filter="url(#b2)"/>
<ellipse cx="623" cy="637" rx="3" ry="6" fill="#000" fill-opacity="0.25" filter="url(#b2)"/>
<rect x="547.3" y="710.2" width="1.3" height="1.3" fill="#3a3a3a"/>
<rect x="550.1" y="702.6" width="1.3" height="1.3" fill="#3a3a3a"/>
<rect x="552.6" y="696.1" width="1.3" height="1.3" fill="#3a3a3a"/>
<rect x="554.7" y="690.5" width="1.3" height="1.3" fill="#3a3a3a"/>
<rect x="556.5" y="685.6" width="1.3" height="1.3" fill="#3a3a3a"/>
<rect x="558.1" y="681.1" width="1.3" height="1.3" fill="#3a3a3a"/>
<rect x="559.6" y="677.2" width="1.3" height="1.3" fill="#3a3a3a"/>
<rect x="561.0" y="673.5" width="1.3" height="1.3" fill="#3a3a3a"/>
<rect x="562.3" y="670.1" width="1.3" height="1.3" fill="#3a3a3a"/>
<rect x="563.4" y="667.0" width="1.3" height="1.3" fill="#3a3a3a"/>
<rect x="564.5" y="664.1" width="1.3" height="1.3" fill="#3a3a3a"/>
<rect x="565.5" y="661.4" width="1.3" height="1.3" fill="#3a3a3a"/>
<rect x="566.5" y="658.9" width="1.3" height="1.3" fill="#3a3a3a"/>
<rect x="567.4" y="656.5" width="1.3" height="1.3" fill="#3a3a3a"/>
<rect x="568.2" y="654.2" width="1.3" height="1.3" fill="#3a3a3a"/>
<rect x="569.0" y="652.1" width="1.3" height="1.3" fill="#3a3a3a"/>
<rect x="569.8" y="650.0" width="1.3" height="1.3" fill="#3a3a3a"/>
<rect x="570.5" y="648.1" width="1.3" height="1.3" fill="#3a3a3a"/>
<line x1="571.2" y1="648.7" x2="575.0" y2="638.3" stroke="#333" stroke-opacity="0.3" stroke-width="0.9"/>
<rect x="558.1" y="710.2" width="1.3" height="1.3" fill="#3a3a3a"/>
<rect x="559.6" y="706.2" width="1.3" height="1.3" fill="#3a3a3a"/>
<rect x="561.0" y="702.6" width="1.3" height="1.3" fill="#3a3a3a"/>
<rect x="562.3" y="699.2" width="1.3" height="1.3" fill="#3a3a3a"/>
<rect x="563.4" y="696.1" width="1.3" height="1.3" fill="#3a3a3a"/>
<rect x="564.5" y="693.2" width="1.3" height="1.3" fill="#3a3a3a"/>
<rect x="565.5" y="690.5" width="1.3" height="1.3" fill="#3a3a3a"/>
<line x1="566.2" y1="691.2" x2="587.0" y2="635.4" stroke="#333" stroke-opacity="0.55" stroke-width="0.9"/>
<line x1="565.2" y1="710.9" x2="599.5" y2="619.0" stroke="url(#lfade)" stroke-width="0.85"/>
<line x1="569.7" y1="710.9" x2="607.6" y2="609.3" stroke="url(#lfade)" stroke-width="0.85"/>
<line x1="573.2" y1="710.9" x2="613.6" y2="602.6" stroke="url(#lfade)" stroke-width="0.85"/>
<line x1="576.0" y1="710.9" x2="617.9" y2="598.7" stroke="url(#lfade)" stroke-width="0.85"/>
<line x1="578.4" y1="710.9" x2="621.1" y2="596.8" stroke="url(#lfade)" stroke-width="0.85"/>
<line x1="580.5" y1="710.9" x2="623.2" y2="596.8" stroke="url(#lfade)" stroke-width="0.85"/>
<line x1="582.4" y1="710.9" x2="624.3" y2="598.7" stroke="url(#lfade)" stroke-width="0.85"/>
<line x1="584.0" y1="710.9" x2="625.2" y2="600.7" stroke="url(#lfade)" stroke-width="0.85"/>
<line x1="585.5" y1="710.9" x2="625.3" y2="604.5" stroke="url(#lfade)" stroke-width="0.85"/>
<line x1="586.9" y1="710.9" x2="625.2" y2="608.4" stroke="url(#lfade)" stroke-width="0.85"/>
<circle cx="609.5" cy="627.5" r="2.7" fill="#4cb848"/>
<circle cx="628.3" cy="653.1" r="2.7" fill="#e88fc8"/>
<circle cx="614.0" cy="667.4" r="2.7" fill="#8a45a8"/>
<circle cx="578.8" cy="685.1" r="2.7" fill="#3a7fc0"/>
<circle cx="576.4" cy="692.7" r="2.7" fill="#d8282c"/>
<circle cx="595.2" cy="690.9" r="2.7" fill="#111"/>
<circle cx="603.4" cy="692.3" r="2.7" fill="#c0602a"/>
<line x1="52.40" y1="772.70" x2="52.40" y2="908.70" stroke="#3a3a3a" stroke-width="1.0"/>
<line x1="49.90" y1="788.00" x2="52.40" y2="788.00" stroke="#3a3a3a" stroke-width="1.0"/>
<text x="48.60" y="792.00" font-size="10" text-anchor="end" fill="#1f1f1f">0.20</text>
<line x1="49.90" y1="818.10" x2="52.40" y2="818.10" stroke="#3a3a3a" stroke-width="1.0"/>
<text x="48.60" y="822.10" font-size="10" text-anchor="end" fill="#1f1f1f">0.15</text>
<line x1="49.90" y1="848.20" x2="52.40" y2="848.20" stroke="#3a3a3a" stroke-width="1.0"/>
<text x="48.60" y="852.20" font-size="10" text-anchor="end" fill="#1f1f1f">0.10</text>
<line x1="49.90" y1="878.30" x2="52.40" y2="878.30" stroke="#3a3a3a" stroke-width="1.0"/>
<text x="48.60" y="882.30" font-size="10" text-anchor="end" fill="#1f1f1f">0.05</text>
<line x1="49.90" y1="908.40" x2="52.40" y2="908.40" stroke="#3a3a3a" stroke-width="1.0"/>
<text x="48.60" y="912.40" font-size="10" text-anchor="end" fill="#1f1f1f">0.00</text>
<text x="25.00" y="841.10" font-size="11.5" text-anchor="middle" fill="#1f1f1f" transform="rotate(-90 25.00 841.10)">Per class normalized count</text>
<line x1="60.30" y1="916.60" x2="231.50" y2="916.60" stroke="#3a3a3a" stroke-width="1.0"/>
<line x1="60.70" y1="916.60" x2="60.70" y2="919.60" stroke="#3a3a3a" stroke-width="0.8"/>
<line x1="75.33" y1="916.60" x2="75.33" y2="918.20" stroke="#777" stroke-width="0.7"/>
<line x1="83.89" y1="916.60" x2="83.89" y2="918.20" stroke="#777" stroke-width="0.7"/>
<line x1="89.96" y1="916.60" x2="89.96" y2="918.20" stroke="#777" stroke-width="0.7"/>
<line x1="94.67" y1="916.60" x2="94.67" y2="918.20" stroke="#777" stroke-width="0.7"/>
<line x1="98.52" y1="916.60" x2="98.52" y2="918.20" stroke="#777" stroke-width="0.7"/>
<line x1="101.77" y1="916.60" x2="101.77" y2="918.20" stroke="#777" stroke-width="0.7"/>
<line x1="104.59" y1="916.60" x2="104.59" y2="918.20" stroke="#777" stroke-width="0.7"/>
<line x1="107.08" y1="916.60" x2="107.08" y2="918.20" stroke="#777" stroke-width="0.7"/>
<line x1="109.30" y1="916.60" x2="109.30" y2="919.60" stroke="#3a3a3a" stroke-width="0.8"/>
<line x1="123.93" y1="916.60" x2="123.93" y2="918.20" stroke="#777" stroke-width="0.7"/>
<line x1="132.49" y1="916.60" x2="132.49" y2="918.20" stroke="#777" stroke-width="0.7"/>
<line x1="138.56" y1="916.60" x2="138.56" y2="918.20" stroke="#777" stroke-width="0.7"/>
<line x1="143.27" y1="916.60" x2="143.27" y2="918.20" stroke="#777" stroke-width="0.7"/>
<line x1="147.12" y1="916.60" x2="147.12" y2="918.20" stroke="#777" stroke-width="0.7"/>
<line x1="150.37" y1="916.60" x2="150.37" y2="918.20" stroke="#777" stroke-width="0.7"/>
<line x1="153.19" y1="916.60" x2="153.19" y2="918.20" stroke="#777" stroke-width="0.7"/>
<line x1="155.68" y1="916.60" x2="155.68" y2="918.20" stroke="#777" stroke-width="0.7"/>
<line x1="157.90" y1="916.60" x2="157.90" y2="919.60" stroke="#3a3a3a" stroke-width="0.8"/>
<line x1="172.53" y1="916.60" x2="172.53" y2="918.20" stroke="#777" stroke-width="0.7"/>
<line x1="181.09" y1="916.60" x2="181.09" y2="918.20" stroke="#777" stroke-width="0.7"/>
<line x1="187.16" y1="916.60" x2="187.16" y2="918.20" stroke="#777" stroke-width="0.7"/>
<line x1="191.87" y1="916.60" x2="191.87" y2="918.20" stroke="#777" stroke-width="0.7"/>
<line x1="195.72" y1="916.60" x2="195.72" y2="918.20" stroke="#777" stroke-width="0.7"/>
<line x1="198.97" y1="916.60" x2="198.97" y2="918.20" stroke="#777" stroke-width="0.7"/>
<line x1="201.79" y1="916.60" x2="201.79" y2="918.20" stroke="#777" stroke-width="0.7"/>
<line x1="204.28" y1="916.60" x2="204.28" y2="918.20" stroke="#777" stroke-width="0.7"/>
<line x1="206.50" y1="916.60" x2="206.50" y2="919.60" stroke="#3a3a3a" stroke-width="0.8"/>
<line x1="221.13" y1="916.60" x2="221.13" y2="918.20" stroke="#777" stroke-width="0.7"/>
<line x1="229.69" y1="916.60" x2="229.69" y2="918.20" stroke="#777" stroke-width="0.7"/>
<text x="52.91" y="927.40" font-size="10" text-anchor="start" fill="#1f1f1f">10</text>
<text x="64.33" y="923.30" font-size="7.5" text-anchor="start" fill="#1f1f1f">0</text>
<text x="101.51" y="927.40" font-size="10" text-anchor="start" fill="#1f1f1f">10</text>
<text x="112.93" y="923.30" font-size="7.5" text-anchor="start" fill="#1f1f1f">1</text>
<text x="150.11" y="927.40" font-size="10" text-anchor="start" fill="#1f1f1f">10</text>
<text x="161.53" y="923.30" font-size="7.5" text-anchor="start" fill="#1f1f1f">2</text>
<text x="198.71" y="927.40" font-size="10" text-anchor="start" fill="#1f1f1f">10</text>
<text x="210.13" y="923.30" font-size="7.5" text-anchor="start" fill="#1f1f1f">3</text>
<text x="145.90" y="940.30" font-size="11.5" text-anchor="middle" fill="#1f1f1f">in-degree</text>
<text x="2.30" y="768.60" font-size="20.5" text-anchor="start" fill="#1f1f1f">j</text>
<line x1="109.50" y1="786.00" x2="109.50" y2="908.40" stroke="#8ea3d8" stroke-width="0.8" stroke-dasharray="2.4,1.4" stroke-opacity="0.8"/>
<line x1="111.00" y1="786.00" x2="111.00" y2="908.40" stroke="#74a352" stroke-width="0.8" stroke-dasharray="2.4,1.4" stroke-opacity="0.8"/>
<line x1="116.30" y1="786.00" x2="116.30" y2="908.40" stroke="#d6df62" stroke-width="0.8" stroke-dasharray="2.4,1.4" stroke-opacity="0.8"/>
<path d="M60.70,908.40 L60.70,894.40 L69.24,894.40 L69.24,888.20 L77.78,888.20 L77.78,883.40 L86.32,883.40 L86.32,843.60 L94.86,843.60 L94.86,849.30 L103.40,849.30 L103.40,834.10 L111.94,834.10 L111.94,844.50 L120.48,844.50 L120.48,828.40 L129.02,828.40 L129.02,861.60 L137.56,861.60 L137.56,864.40 L146.10,864.40 L146.10,868.20 L154.64,868.20 L154.64,875.80 L163.18,875.80 L163.18,889.20 L171.72,889.20 L171.72,899.70 L180.26,899.70 L180.26,905.60 L188.80,905.60 L188.80,907.60 L197.34,907.60 L197.34,907.60 L205.88,907.60 L205.88,907.60 L214.42,907.60 L214.42,907.60 L222.96,907.60 L222.96,907.60 L231.50,907.60 L231.50,908.40" fill="none" stroke="#d6df62" stroke-width="1.5" stroke-linejoin="miter"/>
<path d="M60.70,908.40 L60.70,894.40 L69.24,894.40 L69.24,888.20 L77.78,888.20 L77.78,880.60 L86.32,880.60 L86.32,836.00 L94.86,836.00 L94.86,840.80 L103.40,840.80 L103.40,805.60 L111.94,805.60 L111.94,830.30 L120.48,830.30 L120.48,834.10 L129.02,834.10 L129.02,858.70 L137.56,858.70 L137.56,872.00 L146.10,872.00 L146.10,874.90 L154.64,874.90 L154.64,893.80 L163.18,893.80 L163.18,903.00 L171.72,903.00 L171.72,906.20 L180.26,906.20 L180.26,907.10 L188.80,907.10 L188.80,907.60 L197.34,907.60 L197.34,907.60 L205.88,907.60 L205.88,907.60 L214.42,907.60 L214.42,907.60 L222.96,907.60 L222.96,907.60 L231.50,907.60 L231.50,908.40" fill="none" stroke="#74a352" stroke-width="1.5" stroke-linejoin="miter"/>
<path d="M60.70,908.40 L60.70,893.90 L69.24,893.90 L69.24,889.10 L77.78,889.10 L77.78,882.50 L86.32,882.50 L86.32,841.70 L94.86,841.70 L94.86,828.40 L103.40,828.40 L103.40,785.70 L111.94,785.70 L111.94,804.70 L120.48,804.70 L120.48,834.10 L129.02,834.10 L129.02,873.00 L137.56,873.00 L137.56,882.50 L146.10,882.50 L146.10,893.90 L154.64,893.90 L154.64,898.90 L163.18,898.90 L163.18,903.60 L171.72,903.60 L171.72,906.80 L180.26,906.80 L180.26,907.90 L188.80,907.90 L188.80,907.90 L197.34,907.90 L197.34,907.90 L205.88,907.90 L205.88,907.90 L214.42,907.90 L214.42,907.90 L222.96,907.90 L222.96,907.90 L231.50,907.90 L231.50,908.40" fill="none" stroke="#8ea3d8" stroke-width="1.5" stroke-linejoin="miter"/>
<circle cx="156.80" cy="787.70" r="3.3" fill="#d6df62"/>
<text x="162.40" y="791.30" font-size="11.6" text-anchor="start" fill="#1f1f1f">GABAergic</text>
<circle cx="156.80" cy="801.85" r="3.3" fill="#74a352"/>
<text x="162.40" y="805.45" font-size="11.6" text-anchor="start" fill="#1f1f1f">glutamatergic</text>
<circle cx="156.80" cy="816.00" r="3.3" fill="#8ea3d8"/>
<text x="162.40" y="819.60" font-size="11.6" text-anchor="start" fill="#1f1f1f">cholinergic</text>
<line x1="278.50" y1="774.70" x2="278.50" y2="908.40" stroke="#3a3a3a" stroke-width="1.0"/>
<line x1="276.00" y1="775.70" x2="278.50" y2="775.70" stroke="#3a3a3a" stroke-width="1.0"/>
<text x="274.70" y="779.70" font-size="10" text-anchor="end" fill="#1f1f1f">0.20</text>
<line x1="276.00" y1="808.80" x2="278.50" y2="808.80" stroke="#3a3a3a" stroke-width="1.0"/>
<text x="274.70" y="812.80" font-size="10" text-anchor="end" fill="#1f1f1f">0.15</text>
<line x1="276.00" y1="841.90" x2="278.50" y2="841.90" stroke="#3a3a3a" stroke-width="1.0"/>
<text x="274.70" y="845.90" font-size="10" text-anchor="end" fill="#1f1f1f">0.10</text>
<line x1="276.00" y1="875.00" x2="278.50" y2="875.00" stroke="#3a3a3a" stroke-width="1.0"/>
<text x="274.70" y="879.00" font-size="10" text-anchor="end" fill="#1f1f1f">0.05</text>
<line x1="276.00" y1="908.10" x2="278.50" y2="908.10" stroke="#3a3a3a" stroke-width="1.0"/>
<text x="274.70" y="912.10" font-size="10" text-anchor="end" fill="#1f1f1f">0.00</text>
<text x="251.00" y="840.80" font-size="11.5" text-anchor="middle" fill="#1f1f1f" transform="rotate(-90 251.00 840.80)">Per class normalized count</text>
<line x1="286.80" y1="916.30" x2="456.00" y2="916.30" stroke="#3a3a3a" stroke-width="1.0"/>
<line x1="287.20" y1="916.30" x2="287.20" y2="919.30" stroke="#3a3a3a" stroke-width="0.8"/>
<line x1="301.74" y1="916.30" x2="301.74" y2="917.90" stroke="#777" stroke-width="0.7"/>
<line x1="310.24" y1="916.30" x2="310.24" y2="917.90" stroke="#777" stroke-width="0.7"/>
<line x1="316.28" y1="916.30" x2="316.28" y2="917.90" stroke="#777" stroke-width="0.7"/>
<line x1="320.96" y1="916.30" x2="320.96" y2="917.90" stroke="#777" stroke-width="0.7"/>
<line x1="324.78" y1="916.30" x2="324.78" y2="917.90" stroke="#777" stroke-width="0.7"/>
<line x1="328.02" y1="916.30" x2="328.02" y2="917.90" stroke="#777" stroke-width="0.7"/>
<line x1="330.82" y1="916.30" x2="330.82" y2="917.90" stroke="#777" stroke-width="0.7"/>
<line x1="333.29" y1="916.30" x2="333.29" y2="917.90" stroke="#777" stroke-width="0.7"/>
<line x1="335.50" y1="916.30" x2="335.50" y2="919.30" stroke="#3a3a3a" stroke-width="0.8"/>
<line x1="350.04" y1="916.30" x2="350.04" y2="917.90" stroke="#777" stroke-width="0.7"/>
<line x1="358.54" y1="916.30" x2="358.54" y2="917.90" stroke="#777" stroke-width="0.7"/>
<line x1="364.58" y1="916.30" x2="364.58" y2="917.90" stroke="#777" stroke-width="0.7"/>
<line x1="369.26" y1="916.30" x2="369.26" y2="917.90" stroke="#777" stroke-width="0.7"/>
<line x1="373.08" y1="916.30" x2="373.08" y2="917.90" stroke="#777" stroke-width="0.7"/>
<line x1="376.32" y1="916.30" x2="376.32" y2="917.90" stroke="#777" stroke-width="0.7"/>
<line x1="379.12" y1="916.30" x2="379.12" y2="917.90" stroke="#777" stroke-width="0.7"/>
<line x1="381.59" y1="916.30" x2="381.59" y2="917.90" stroke="#777" stroke-width="0.7"/>
<line x1="383.80" y1="916.30" x2="383.80" y2="919.30" stroke="#3a3a3a" stroke-width="0.8"/>
<line x1="398.34" y1="916.30" x2="398.34" y2="917.90" stroke="#777" stroke-width="0.7"/>
<line x1="406.84" y1="916.30" x2="406.84" y2="917.90" stroke="#777" stroke-width="0.7"/>
<line x1="412.88" y1="916.30" x2="412.88" y2="917.90" stroke="#777" stroke-width="0.7"/>
<line x1="417.56" y1="916.30" x2="417.56" y2="917.90" stroke="#777" stroke-width="0.7"/>
<line x1="421.38" y1="916.30" x2="421.38" y2="917.90" stroke="#777" stroke-width="0.7"/>
<line x1="424.62" y1="916.30" x2="424.62" y2="917.90" stroke="#777" stroke-width="0.7"/>
<line x1="427.42" y1="916.30" x2="427.42" y2="917.90" stroke="#777" stroke-width="0.7"/>
<line x1="429.89" y1="916.30" x2="429.89" y2="917.90" stroke="#777" stroke-width="0.7"/>
<line x1="432.10" y1="916.30" x2="432.10" y2="919.30" stroke="#3a3a3a" stroke-width="0.8"/>
<line x1="446.64" y1="916.30" x2="446.64" y2="917.90" stroke="#777" stroke-width="0.7"/>
<line x1="455.14" y1="916.30" x2="455.14" y2="917.90" stroke="#777" stroke-width="0.7"/>
<text x="279.40" y="927.10" font-size="10" text-anchor="start" fill="#1f1f1f">10</text>
<text x="290.82" y="923.00" font-size="7.5" text-anchor="start" fill="#1f1f1f">0</text>
<text x="327.70" y="927.10" font-size="10" text-anchor="start" fill="#1f1f1f">10</text>
<text x="339.12" y="923.00" font-size="7.5" text-anchor="start" fill="#1f1f1f">1</text>
<text x="376.00" y="927.10" font-size="10" text-anchor="start" fill="#1f1f1f">10</text>
<text x="387.42" y="923.00" font-size="7.5" text-anchor="start" fill="#1f1f1f">2</text>
<text x="424.30" y="927.10" font-size="10" text-anchor="start" fill="#1f1f1f">10</text>
<text x="435.72" y="923.00" font-size="7.5" text-anchor="start" fill="#1f1f1f">3</text>
<text x="371.40" y="940.00" font-size="11.5" text-anchor="middle" fill="#1f1f1f">out-degree</text>
<line x1="340.90" y1="786.00" x2="340.90" y2="908.10" stroke="#8ea3d8" stroke-width="0.8" stroke-dasharray="2.4,1.4" stroke-opacity="0.8"/>
<line x1="341.00" y1="786.00" x2="341.00" y2="908.10" stroke="#74a352" stroke-width="0.8" stroke-dasharray="2.4,1.4" stroke-opacity="0.8"/>
<line x1="345.10" y1="786.00" x2="345.10" y2="908.10" stroke="#d6df62" stroke-width="0.8" stroke-dasharray="2.4,1.4" stroke-opacity="0.8"/>
<path d="M286.80,908.10 L286.80,890.00 L295.34,890.00 L295.34,891.90 L303.88,891.90 L303.88,890.00 L312.42,890.00 L312.42,868.20 L320.96,868.20 L320.96,853.00 L329.50,853.00 L329.50,808.50 L338.04,808.50 L338.04,819.80 L346.58,819.80 L346.58,807.50 L355.12,807.50 L355.12,832.20 L363.66,832.20 L363.66,853.00 L372.20,853.00 L372.20,866.30 L380.74,866.30 L380.74,882.50 L389.28,882.50 L389.28,892.90 L397.82,892.90 L397.82,901.50 L406.36,901.50 L406.36,904.90 L414.90,904.90 L414.90,907.10 L423.44,907.10 L423.44,907.10 L431.98,907.10 L431.98,907.10 L440.52,907.10 L440.52,907.10 L449.06,907.10 L449.06,907.10 L457.60,907.10 L457.60,908.10" fill="none" stroke="#d6df62" stroke-width="1.5" stroke-linejoin="miter"/>
<path d="M286.80,908.10 L286.80,877.70 L295.34,877.70 L295.34,878.60 L303.88,878.60 L303.88,881.50 L312.42,881.50 L312.42,860.60 L320.96,860.60 L320.96,853.00 L329.50,853.00 L329.50,800.80 L338.04,800.80 L338.04,809.40 L346.58,809.40 L346.58,789.50 L355.12,789.50 L355.12,843.60 L363.66,843.60 L363.66,867.30 L372.20,867.30 L372.20,887.20 L380.74,887.20 L380.74,897.60 L389.28,897.60 L389.28,904.30 L397.82,904.30 L397.82,906.70 L406.36,906.70 L406.36,907.50 L414.90,907.50 L414.90,907.50 L423.44,907.50 L423.44,907.50 L431.98,907.50 L431.98,907.50 L440.52,907.50 L440.52,907.50 L449.06,907.50 L449.06,907.50 L457.60,907.50 L457.60,908.10" fill="none" stroke="#74a352" stroke-width="1.5" stroke-linejoin="miter"/>
<path d="M286.80,908.10 L286.80,894.80 L295.34,894.80 L295.34,891.00 L303.88,891.00 L303.88,886.30 L312.42,886.30 L312.42,849.30 L320.96,849.30 L320.96,844.60 L329.50,844.60 L329.50,787.60 L338.04,787.60 L338.04,797.10 L346.58,797.10 L346.58,799.00 L355.12,799.00 L355.12,839.80 L363.66,839.80 L363.66,863.50 L372.20,863.50 L372.20,887.20 L380.74,887.20 L380.74,902.40 L389.28,902.40 L389.28,905.20 L397.82,905.20 L397.82,906.70 L406.36,906.70 L406.36,907.50 L414.90,907.50 L414.90,907.50 L423.44,907.50 L423.44,907.50 L431.98,907.50 L431.98,907.50 L440.52,907.50 L440.52,907.50 L449.06,907.50 L449.06,907.50 L457.60,907.50 L457.60,908.10" fill="none" stroke="#8ea3d8" stroke-width="1.5" stroke-linejoin="miter"/>
<line x1="511.40" y1="776.00" x2="511.40" y2="908.40" stroke="#3a3a3a" stroke-width="1.0"/>
<line x1="508.90" y1="776.00" x2="511.40" y2="776.00" stroke="#3a3a3a" stroke-width="1.0"/>
<text x="507.60" y="780.00" font-size="10" text-anchor="end" fill="#1f1f1f">0.150</text>
<line x1="508.90" y1="798.01" x2="511.40" y2="798.01" stroke="#3a3a3a" stroke-width="1.0"/>
<text x="507.60" y="802.01" font-size="10" text-anchor="end" fill="#1f1f1f">0.125</text>
<line x1="508.90" y1="820.03" x2="511.40" y2="820.03" stroke="#3a3a3a" stroke-width="1.0"/>
<text x="507.60" y="824.03" font-size="10" text-anchor="end" fill="#1f1f1f">0.100</text>
<line x1="508.90" y1="842.05" x2="511.40" y2="842.05" stroke="#3a3a3a" stroke-width="1.0"/>
<text x="507.60" y="846.05" font-size="10" text-anchor="end" fill="#1f1f1f">0.075</text>
<line x1="508.90" y1="864.07" x2="511.40" y2="864.07" stroke="#3a3a3a" stroke-width="1.0"/>
<text x="507.60" y="868.07" font-size="10" text-anchor="end" fill="#1f1f1f">0.050</text>
<line x1="508.90" y1="886.08" x2="511.40" y2="886.08" stroke="#3a3a3a" stroke-width="1.0"/>
<text x="507.60" y="890.08" font-size="10" text-anchor="end" fill="#1f1f1f">0.025</text>
<line x1="508.90" y1="908.10" x2="511.40" y2="908.10" stroke="#3a3a3a" stroke-width="1.0"/>
<text x="507.60" y="912.10" font-size="10" text-anchor="end" fill="#1f1f1f">0.000</text>
<text x="477.00" y="842.10" font-size="11.5" text-anchor="middle" fill="#1f1f1f" transform="rotate(-90 477.00 842.10)">Per class normalized count</text>
<line x1="519.60" y1="916.60" x2="685.00" y2="916.60" stroke="#3a3a3a" stroke-width="1.0"/>
<line x1="525.50" y1="916.60" x2="525.50" y2="918.20" stroke="#777" stroke-width="0.7"/>
<line x1="530.25" y1="916.60" x2="530.25" y2="918.20" stroke="#777" stroke-width="0.7"/>
<line x1="534.13" y1="916.60" x2="534.13" y2="918.20" stroke="#777" stroke-width="0.7"/>
<line x1="537.41" y1="916.60" x2="537.41" y2="918.20" stroke="#777" stroke-width="0.7"/>
<line x1="540.25" y1="916.60" x2="540.25" y2="918.20" stroke="#777" stroke-width="0.7"/>
<line x1="542.76" y1="916.60" x2="542.76" y2="918.20" stroke="#777" stroke-width="0.7"/>
<line x1="545.00" y1="916.60" x2="545.00" y2="919.60" stroke="#3a3a3a" stroke-width="0.8"/>
<line x1="559.75" y1="916.60" x2="559.75" y2="918.20" stroke="#777" stroke-width="0.7"/>
<line x1="568.38" y1="916.60" x2="568.38" y2="918.20" stroke="#777" stroke-width="0.7"/>
<line x1="574.50" y1="916.60" x2="574.50" y2="918.20" stroke="#777" stroke-width="0.7"/>
<line x1="579.25" y1="916.60" x2="579.25" y2="918.20" stroke="#777" stroke-width="0.7"/>
<line x1="583.13" y1="916.60" x2="583.13" y2="918.20" stroke="#777" stroke-width="0.7"/>
<line x1="586.41" y1="916.60" x2="586.41" y2="918.20" stroke="#777" stroke-width="0.7"/>
<line x1="589.25" y1="916.60" x2="589.25" y2="918.20" stroke="#777" stroke-width="0.7"/>
<line x1="591.76" y1="916.60" x2="591.76" y2="918.20" stroke="#777" stroke-width="0.7"/>
<line x1="594.00" y1="916.60" x2="594.00" y2="919.60" stroke="#3a3a3a" stroke-width="0.8"/>
<line x1="608.75" y1="916.60" x2="608.75" y2="918.20" stroke="#777" stroke-width="0.7"/>
<line x1="617.38" y1="916.60" x2="617.38" y2="918.20" stroke="#777" stroke-width="0.7"/>
<line x1="623.50" y1="916.60" x2="623.50" y2="918.20" stroke="#777" stroke-width="0.7"/>
<line x1="628.25" y1="916.60" x2="628.25" y2="918.20" stroke="#777" stroke-width="0.7"/>
<line x1="632.13" y1="916.60" x2="632.13" y2="918.20" stroke="#777" stroke-width="0.7"/>
<line x1="635.41" y1="916.60" x2="635.41" y2="918.20" stroke="#777" stroke-width="0.7"/>
<line x1="638.25" y1="916.60" x2="638.25" y2="918.20" stroke="#777" stroke-width="0.7"/>
<line x1="640.76" y1="916.60" x2="640.76" y2="918.20" stroke="#777" stroke-width="0.7"/>
<line x1="643.00" y1="916.60" x2="643.00" y2="919.60" stroke="#3a3a3a" stroke-width="0.8"/>
<line x1="657.75" y1="916.60" x2="657.75" y2="918.20" stroke="#777" stroke-width="0.7"/>
<line x1="666.38" y1="916.60" x2="666.38" y2="918.20" stroke="#777" stroke-width="0.7"/>
<line x1="672.50" y1="916.60" x2="672.50" y2="918.20" stroke="#777" stroke-width="0.7"/>
<line x1="677.25" y1="916.60" x2="677.25" y2="918.20" stroke="#777" stroke-width="0.7"/>
<line x1="681.13" y1="916.60" x2="681.13" y2="918.20" stroke="#777" stroke-width="0.7"/>
<line x1="684.41" y1="916.60" x2="684.41" y2="918.20" stroke="#777" stroke-width="0.7"/>
<text x="537.21" y="927.40" font-size="10" text-anchor="start" fill="#1f1f1f">10</text>
<text x="548.62" y="923.30" font-size="7.5" text-anchor="start" fill="#1f1f1f">2</text>
<text x="586.21" y="927.40" font-size="10" text-anchor="start" fill="#1f1f1f">10</text>
<text x="597.62" y="923.30" font-size="7.5" text-anchor="start" fill="#1f1f1f">3</text>
<text x="635.21" y="927.40" font-size="10" text-anchor="start" fill="#1f1f1f">10</text>
<text x="646.62" y="923.30" font-size="7.5" text-anchor="start" fill="#1f1f1f">4</text>
<text x="600.50" y="940.30" font-size="11.5" text-anchor="middle" fill="#1f1f1f">Neuron path length (μ<tspan dx="0.6">m</tspan><tspan dx="1.4">)</tspan></text>
<text x="457.00" y="772.70" font-size="20.5" text-anchor="start" fill="#1f1f1f">k</text>
<path d="M568.20,776.40 L574.60,776.40 L571.40,782.40 Z" fill="#333333"/>
<path d="M574.00,776.40 L580.40,776.40 L577.20,782.40 Z" fill="#4cb848"/>
<path d="M579.90,776.40 L586.30,776.40 L583.10,782.40 Z" fill="#3a7fc0"/>
<path d="M594.50,776.40 L600.90,776.40 L597.70,782.40 Z" fill="#8a45a8"/>
<path d="M597.40,776.40 L603.80,776.40 L600.60,782.40 Z" fill="#d8282c"/>
<path d="M615.20,776.40 L621.60,776.40 L618.40,782.40 Z" fill="#e88fc8"/>
<path d="M649.90,776.40 L656.30,776.40 L653.10,782.40 Z" fill="#c0602a"/>
<line x1="584.80" y1="782.00" x2="584.80" y2="908.10" stroke="#8ea3d8" stroke-width="0.8" stroke-dasharray="2.4,1.4" stroke-opacity="0.8"/>
<line x1="591.40" y1="782.00" x2="591.40" y2="908.10" stroke="#74a352" stroke-width="0.8" stroke-dasharray="2.4,1.4" stroke-opacity="0.8"/>
<line x1="592.20" y1="782.00" x2="592.20" y2="908.10" stroke="#d6df62" stroke-width="0.8" stroke-dasharray="2.4,1.4" stroke-opacity="0.8"/>
<path d="M520.80,908.10 L520.80,908.10 L524.15,908.10 L524.15,908.10 L527.50,908.10 L527.50,908.10 L530.85,908.10 L530.85,908.10 L534.20,908.10 L534.20,908.10 L537.55,908.10 L537.55,908.10 L540.90,908.10 L540.90,908.10 L544.25,908.10 L544.25,908.10 L547.60,908.10 L547.60,908.10 L550.95,908.10 L550.95,908.10 L554.30,908.10 L554.30,908.10 L557.65,908.10 L557.65,906.10 L561.00,906.10 L561.00,902.30 L564.35,902.30 L564.35,887.70 L567.70,887.70 L567.70,878.90 L571.05,878.90 L571.05,861.40 L574.40,861.40 L574.40,861.40 L577.75,861.40 L577.75,834.20 L581.10,834.20 L581.10,827.00 L584.45,827.00 L584.45,835.00 L587.80,835.00 L587.80,843.80 L591.15,843.80 L591.15,867.20 L594.50,867.20 L594.50,865.00 L597.85,865.00 L597.85,862.80 L601.20,862.80 L601.20,859.90 L604.55,859.90 L604.55,857.70 L607.90,857.70 L607.90,868.60 L611.25,868.60 L611.25,868.60 L614.60,868.60 L614.60,875.90 L617.95,875.90 L617.95,881.80 L621.30,881.80 L621.30,891.30 L624.65,891.30 L624.65,894.20 L628.00,894.20 L628.00,896.40 L631.35,896.40 L631.35,899.30 L634.70,899.30 L634.70,900.80 L638.05,900.80 L638.05,903.10 L641.40,903.10 L641.40,904.60 L644.75,904.60 L644.75,905.60 L648.10,905.60 L648.10,906.60 L651.45,906.60 L651.45,907.10 L654.80,907.10 L654.80,907.50 L658.15,907.50 L658.15,907.70 L661.50,907.70 L661.50,907.80 L664.85,907.80 L664.85,907.80 L668.20,907.80 L668.20,907.80 L671.55,907.80 L671.55,907.80 L674.90,907.80 L674.90,907.80 L678.25,907.80 L678.25,907.80 L681.60,907.80 L681.60,907.80 L684.95,907.80 L684.95,908.10 L685.00,908.10" fill="none" stroke="#d6df62" stroke-width="1.5" stroke-linejoin="miter"/>
<path d="M520.80,908.10 L520.80,908.10 L524.15,908.10 L524.15,908.10 L527.50,908.10 L527.50,908.10 L530.85,908.10 L530.85,908.10 L534.20,908.10 L534.20,908.10 L537.55,908.10 L537.55,908.10 L540.90,908.10 L540.90,908.10 L544.25,908.10 L544.25,908.10 L547.60,908.10 L547.60,908.10 L550.95,908.10 L550.95,908.10 L554.30,908.10 L554.30,904.40 L557.65,904.40 L557.65,900.80 L561.00,900.80 L561.00,893.40 L564.35,893.40 L564.35,881.00 L567.70,881.00 L567.70,859.90 L571.05,859.90 L571.05,835.00 L574.40,835.00 L574.40,816.80 L577.75,816.80 L577.75,816.80 L581.10,816.80 L581.10,821.20 L584.45,821.20 L584.45,818.30 L587.80,818.30 L587.80,828.50 L591.15,828.50 L591.15,858.40 L594.50,858.40 L594.50,870.80 L597.85,870.80 L597.85,875.90 L601.20,875.90 L601.20,878.10 L604.55,878.10 L604.55,880.30 L607.90,880.30 L607.90,886.20 L611.25,886.20 L611.25,890.50 L614.60,890.50 L614.60,894.20 L617.95,894.20 L617.95,898.60 L621.30,898.60 L621.30,900.80 L624.65,900.80 L624.65,902.30 L628.00,902.30 L628.00,903.70 L631.35,903.70 L631.35,904.60 L634.70,904.60 L634.70,905.30 L638.05,905.30 L638.05,906.10 L641.40,906.10 L641.40,906.60 L644.75,906.60 L644.75,907.10 L648.10,907.10 L648.10,907.30 L651.45,907.30 L651.45,907.60 L654.80,907.60 L654.80,907.70 L658.15,907.70 L658.15,907.80 L661.50,907.80 L661.50,907.80 L664.85,907.80 L664.85,907.80 L668.20,907.80 L668.20,907.80 L671.55,907.80 L671.55,907.80 L674.90,907.80 L674.90,907.80 L678.25,907.80 L678.25,907.80 L681.60,907.80 L681.60,907.80 L684.95,907.80 L684.95,908.10 L685.00,908.10" fill="none" stroke="#8ea3d8" stroke-width="1.5" stroke-linejoin="miter"/>
<path d="M520.80,908.10 L520.80,908.10 L524.15,908.10 L524.15,908.10 L527.50,908.10 L527.50,908.10 L530.85,908.10 L530.85,908.10 L534.20,908.10 L534.20,908.10 L537.55,908.10 L537.55,908.10 L540.90,908.10 L540.90,908.10 L544.25,908.10 L544.25,908.10 L547.60,908.10 L547.60,908.10 L550.95,908.10 L550.95,908.10 L554.30,908.10 L554.30,905.20 L557.65,905.20 L557.65,903.00 L561.00,903.00 L561.00,892.10 L564.35,892.10 L564.35,875.20 L567.70,875.20 L567.70,868.60 L571.05,868.60 L571.05,859.90 L574.40,859.90 L574.40,848.20 L577.75,848.20 L577.75,843.80 L581.10,843.80 L581.10,855.50 L584.45,855.50 L584.45,857.70 L587.80,857.70 L587.80,843.80 L591.15,843.80 L591.15,839.40 L594.50,839.40 L594.50,851.10 L597.85,851.10 L597.85,858.10 L601.20,858.10 L601.20,859.60 L604.55,859.60 L604.55,862.30 L607.90,862.30 L607.90,876.10 L611.25,876.10 L611.25,883.50 L614.60,883.50 L614.60,889.80 L617.95,889.80 L617.95,894.20 L621.30,894.20 L621.30,897.10 L624.65,897.10 L624.65,900.00 L628.00,900.00 L628.00,902.20 L631.35,902.20 L631.35,904.40 L634.70,904.40 L634.70,905.60 L638.05,905.60 L638.05,906.30 L641.40,906.30 L641.40,906.90 L644.75,906.90 L644.75,907.30 L648.10,907.30 L648.10,907.60 L651.45,907.60 L651.45,907.70 L654.80,907.70 L654.80,907.80 L658.15,907.80 L658.15,907.80 L661.50,907.80 L661.50,907.80 L664.85,907.80 L664.85,907.80 L668.20,907.80 L668.20,907.80 L671.55,907.80 L671.55,907.80 L674.90,907.80 L674.90,907.80 L678.25,907.80 L678.25,907.80 L681.60,907.80 L681.60,907.80 L684.95,907.80 L684.95,908.10 L685.00,908.10" fill="none" stroke="#74a352" stroke-width="1.5" stroke-linejoin="miter"/>
</svg></body></html>
